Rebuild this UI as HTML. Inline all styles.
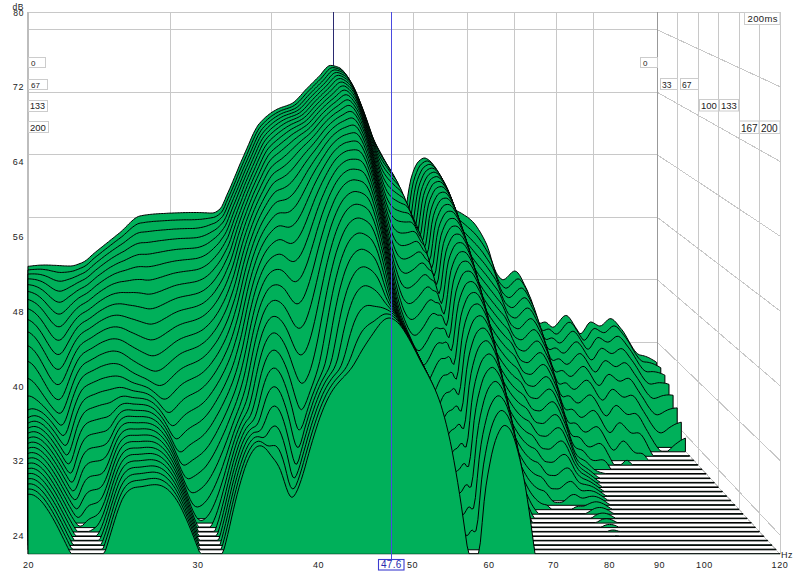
<!DOCTYPE html>
<html><head><meta charset="utf-8">
<style>
html,body{margin:0;padding:0;background:#fff;}
body{width:800px;height:573px;overflow:hidden;position:relative;}
svg{position:absolute;left:0;top:0;}
text{font-family:"Liberation Sans",sans-serif;}
</style></head><body>
<svg width="800" height="573" viewBox="0 0 800 573">
<rect x="0" y="0" width="800" height="573" fill="#fff"/>
<g stroke="#c8c8c8" stroke-width="1" shape-rendering="crispEdges">
<line x1="28" y1="12.5" x2="780" y2="12.5"/>
<line x1="780.5" y1="12" x2="780.5" y2="553"/>
<line x1="28" y1="29.7" x2="657" y2="29.7"/>
<line x1="657" y1="29.7" x2="780" y2="86.7"/>
<line x1="28" y1="92.2" x2="657" y2="92.2"/>
<line x1="657" y1="92.2" x2="780" y2="161.4"/>
<line x1="28" y1="154.6" x2="657" y2="154.6"/>
<line x1="657" y1="154.6" x2="780" y2="236.1"/>
<line x1="28" y1="217.1" x2="657" y2="217.1"/>
<line x1="657" y1="217.1" x2="780" y2="310.9"/>
<line x1="28" y1="279.5" x2="657" y2="279.5"/>
<line x1="657" y1="279.5" x2="780" y2="385.6"/>
<line x1="28" y1="342.0" x2="657" y2="342.0"/>
<line x1="657" y1="342.0" x2="780" y2="460.3"/>
<line x1="28" y1="404.5" x2="657" y2="404.5"/>
<line x1="657" y1="404.5" x2="780" y2="535.0"/>
<line x1="657" y1="420.3" x2="780" y2="554.0"/>
<line x1="170.3" y1="12" x2="170.3" y2="420.3"/>
<line x1="271.3" y1="12" x2="271.3" y2="420.3"/>
<line x1="349.7" y1="12" x2="349.7" y2="420.3"/>
<line x1="413.7" y1="12" x2="413.7" y2="420.3"/>
<line x1="467.8" y1="12" x2="467.8" y2="420.3"/>
<line x1="514.7" y1="12" x2="514.7" y2="420.3"/>
<line x1="556.0" y1="12" x2="556.0" y2="420.3"/>
<line x1="593.0" y1="12" x2="593.0" y2="420.3"/>
<line x1="677.5" y1="12" x2="677.5" y2="442.6"/>
<line x1="698.0" y1="12" x2="698.0" y2="464.9"/>
<line x1="718.5" y1="12" x2="718.5" y2="487.2"/>
<line x1="739.0" y1="12" x2="739.0" y2="509.4"/>
<line x1="759.5" y1="12" x2="759.5" y2="531.7"/>
<line x1="780.0" y1="12" x2="780.0" y2="554.0"/>
</g>
<line x1="657.5" y1="12" x2="657.5" y2="420" stroke="#999" stroke-width="1"/>
<line x1="28" y1="12" x2="28" y2="554" stroke="#bdbdbd" stroke-width="2"/>
<line x1="333.5" y1="12" x2="333.5" y2="120" stroke="#2a2a70" stroke-width="1"/>
<defs><clipPath id="pc"><rect x="0" y="0" width="800" height="554.2"/></clipPath></defs>
<g fill="#00b05a" stroke="#000" stroke-width="1" stroke-linejoin="miter" stroke-miterlimit="3" clip-path="url(#pc)">
<path d="M28.0 420.6 L28.0 266.3 L29.6 266.2 L31.2 266.0 L32.7 265.8 L34.3 265.6 L35.9 265.5 L37.5 265.3 L39.0 265.2 L40.6 265.1 L42.2 265.1 L43.8 265.0 L45.3 265.0 L46.9 265.0 L48.5 265.1 L50.1 265.1 L51.6 265.2 L53.2 265.3 L54.8 265.3 L56.4 265.4 L57.9 265.5 L59.5 265.6 L61.1 265.7 L62.7 265.8 L64.2 265.9 L65.8 265.9 L67.4 266.0 L69.0 266.0 L70.5 266.0 L72.1 265.9 L73.7 265.6 L75.3 265.2 L76.8 264.7 L78.4 264.1 L80.0 263.5 L81.6 262.9 L83.1 262.2 L84.7 261.3 L86.3 260.2 L87.9 258.9 L89.4 257.5 L91.0 256.0 L92.6 254.6 L94.2 253.2 L95.8 251.9 L97.3 250.6 L98.9 249.4 L100.5 248.1 L102.1 246.9 L103.6 245.6 L105.2 244.4 L106.8 243.1 L108.4 241.9 L109.9 240.6 L111.5 239.3 L113.1 238.1 L114.7 236.8 L116.2 235.5 L117.8 234.3 L119.4 233.0 L121.0 231.7 L122.5 230.3 L124.1 228.7 L125.7 227.1 L127.3 225.5 L128.8 223.9 L130.4 222.4 L132.0 220.9 L133.6 219.5 L135.1 218.3 L136.7 217.3 L138.3 216.5 L139.9 216.0 L141.4 215.7 L143.0 215.4 L144.6 215.1 L146.2 214.9 L147.7 214.7 L149.3 214.5 L150.9 214.3 L152.5 214.2 L154.0 214.0 L155.6 213.9 L157.2 213.8 L158.8 213.7 L160.4 213.6 L161.9 213.5 L163.5 213.5 L165.1 213.4 L166.7 213.3 L168.2 213.2 L169.8 213.1 L171.4 213.1 L173.0 213.0 L174.5 212.9 L176.1 212.9 L177.7 212.8 L179.3 212.8 L180.8 212.7 L182.4 212.7 L184.0 212.6 L185.6 212.6 L187.1 212.6 L188.7 212.5 L190.3 212.5 L191.9 212.5 L193.4 212.5 L195.0 212.5 L196.6 212.5 L198.2 212.5 L199.7 212.6 L201.3 212.6 L202.9 212.7 L204.5 212.8 L206.0 212.8 L207.6 212.9 L209.2 213.0 L210.8 213.0 L212.3 213.0 L213.9 212.8 L215.5 212.2 L217.1 211.3 L218.6 210.1 L220.2 208.8 L221.8 206.5 L223.4 203.2 L225.0 199.5 L226.5 195.8 L228.1 192.3 L229.7 188.8 L231.3 185.1 L232.8 181.4 L234.4 177.6 L236.0 173.8 L237.6 170.0 L239.1 166.2 L240.7 162.5 L242.3 158.9 L243.9 155.3 L245.4 151.8 L247.0 148.2 L248.6 144.5 L250.2 140.8 L251.7 137.2 L253.3 133.7 L254.9 130.5 L256.5 127.7 L258.0 125.2 L259.6 123.3 L261.2 121.5 L262.8 119.9 L264.3 118.3 L265.9 116.9 L267.5 115.6 L269.1 114.3 L270.6 113.2 L272.2 112.1 L273.8 111.1 L275.4 110.2 L276.9 109.3 L278.5 108.6 L280.1 107.9 L281.7 107.3 L283.3 106.8 L284.8 106.3 L286.4 105.8 L288.0 105.2 L289.6 104.6 L291.1 103.9 L292.7 103.0 L294.3 101.8 L295.9 100.5 L297.4 98.9 L299.0 97.2 L300.6 95.5 L302.2 93.7 L303.7 91.9 L305.3 90.1 L306.9 88.5 L308.5 86.9 L310.0 85.3 L311.6 83.8 L313.2 82.2 L314.8 80.6 L316.3 79.0 L317.9 77.5 L319.5 75.9 L321.1 74.1 L322.6 72.1 L324.2 70.1 L325.8 68.3 L327.4 66.8 L328.9 65.8 L330.5 65.4 L332.1 65.5 L333.7 65.8 L335.2 66.2 L336.8 66.7 L338.4 67.3 L340.0 68.0 L341.5 69.2 L343.1 70.8 L344.7 72.8 L346.3 75.0 L347.9 77.4 L349.4 79.8 L351.0 82.6 L352.6 85.7 L354.2 89.1 L355.7 92.7 L357.3 96.4 L358.9 100.2 L360.5 104.0 L362.0 108.1 L363.6 112.5 L365.2 117.1 L366.8 121.8 L368.3 126.4 L369.9 130.8 L371.5 134.8 L373.1 138.4 L374.6 141.8 L376.2 145.0 L377.8 148.1 L379.4 151.0 L380.9 154.0 L382.5 156.9 L384.1 159.8 L385.7 162.5 L387.2 165.1 L388.8 167.7 L390.4 170.7 L392.0 174.4 L393.5 179.0 L395.1 184.1 L396.7 189.2 L398.3 193.7 L399.8 197.7 L401.4 201.5 L403.0 205.6 L404.6 211.4 L406.1 208.6 L407.7 196.6 L409.3 186.8 L410.9 179.0 L412.5 173.7 L414.0 169.4 L415.6 165.9 L417.2 163.1 L418.8 161.2 L420.3 159.9 L421.9 158.8 L423.5 158.1 L425.1 158.0 L426.6 158.6 L428.2 159.6 L429.8 160.8 L431.4 162.3 L432.9 164.4 L434.5 166.8 L436.1 169.3 L437.7 171.7 L439.2 174.1 L440.8 176.6 L442.4 179.2 L444.0 182.0 L445.5 185.0 L447.1 188.8 L448.7 193.4 L450.3 198.2 L451.8 202.9 L453.4 206.7 L455.0 209.4 L456.6 210.7 L458.1 211.5 L459.7 212.3 L461.3 213.2 L462.9 214.2 L464.4 215.2 L466.0 216.2 L467.6 217.3 L469.2 218.5 L470.7 219.8 L472.3 221.3 L473.9 223.0 L475.5 225.0 L477.1 227.2 L478.6 229.6 L480.2 232.1 L481.8 234.9 L483.4 237.8 L484.9 240.8 L486.5 244.1 L488.1 248.3 L489.7 253.2 L491.2 258.5 L492.8 263.8 L494.4 268.5 L496.0 272.2 L497.5 274.7 L499.1 276.8 L500.7 278.6 L502.3 279.6 L503.8 279.6 L505.4 278.8 L507.0 277.4 L508.6 275.8 L510.1 274.1 L511.7 272.5 L513.3 271.4 L514.9 271.0 L516.4 271.5 L518.0 273.0 L519.6 275.2 L521.2 278.0 L522.7 281.1 L524.3 284.4 L525.9 287.6 L527.5 290.9 L529.0 295.3 L530.6 300.4 L532.2 306.0 L533.8 311.4 L535.3 316.3 L536.9 320.2 L538.5 322.7 L540.1 323.3 L541.7 322.9 L543.2 322.3 L544.8 322.0 L546.4 322.4 L548.0 323.7 L549.5 325.2 L551.1 326.6 L552.7 327.2 L554.3 326.8 L555.8 325.6 L557.4 323.8 L559.0 321.8 L560.6 319.7 L562.1 317.8 L563.7 316.3 L565.3 315.5 L566.9 315.6 L568.4 316.7 L570.0 318.6 L571.6 320.9 L573.2 323.5 L574.7 326.1 L576.3 328.4 L577.9 331.0 L579.5 333.4 L581.0 333.6 L582.6 332.3 L584.2 330.1 L585.8 327.5 L587.3 325.0 L588.9 323.0 L590.5 322.0 L592.1 322.2 L593.6 322.9 L595.2 323.9 L596.8 324.9 L598.4 325.7 L599.9 326.0 L601.5 325.6 L603.1 324.4 L604.7 322.9 L606.3 321.2 L607.8 319.7 L609.4 318.8 L611.0 318.7 L612.6 319.3 L614.1 320.5 L615.7 322.1 L617.3 324.0 L618.9 326.0 L620.4 328.0 L622.0 329.8 L623.6 332.1 L625.2 334.6 L626.7 337.3 L628.3 340.2 L629.9 343.0 L631.5 345.8 L633.0 348.3 L634.6 350.6 L636.2 352.5 L637.8 353.9 L639.3 354.8 L640.9 355.2 L642.5 355.5 L644.1 355.9 L645.6 356.4 L647.2 357.0 L648.8 357.7 L650.4 358.5 L651.9 359.4 L653.5 360.3 L655.1 361.3 L656.7 362.5 L656.7 420.6 Z"/>
<path d="M28.0 425.1 L28.0 269.9 L29.6 269.8 L31.2 269.6 L32.8 269.5 L34.3 269.4 L35.9 269.3 L37.5 269.2 L39.1 269.2 L40.7 269.2 L42.3 269.3 L43.9 269.5 L45.4 269.7 L47.0 269.9 L48.6 270.2 L50.2 270.6 L51.8 271.0 L53.4 271.3 L55.0 271.7 L56.5 272.0 L58.1 272.3 L59.7 272.4 L61.3 272.5 L62.9 272.4 L64.5 272.3 L66.1 272.2 L67.6 272.0 L69.2 271.8 L70.8 271.5 L72.4 271.2 L74.0 270.8 L75.6 270.2 L77.2 269.6 L78.7 269.0 L80.3 268.3 L81.9 267.7 L83.5 266.9 L85.1 266.0 L86.7 264.9 L88.3 263.6 L89.9 262.2 L91.4 260.7 L93.0 259.2 L94.6 257.8 L96.2 256.5 L97.8 255.3 L99.4 254.0 L101.0 252.8 L102.5 251.5 L104.1 250.3 L105.7 249.0 L107.3 247.8 L108.9 246.6 L110.5 245.3 L112.1 244.1 L113.6 242.9 L115.2 241.7 L116.8 240.5 L118.4 239.3 L120.0 238.1 L121.6 236.9 L123.2 235.6 L124.7 234.2 L126.3 232.8 L127.9 231.3 L129.5 229.8 L131.1 228.4 L132.7 227.1 L134.3 225.9 L135.8 224.9 L137.4 224.0 L139.0 223.4 L140.6 223.0 L142.2 222.8 L143.8 222.6 L145.4 222.3 L146.9 222.1 L148.5 221.9 L150.1 221.8 L151.7 221.6 L153.3 221.4 L154.9 221.3 L156.5 221.2 L158.0 221.1 L159.6 221.0 L161.2 220.9 L162.8 220.8 L164.4 220.7 L166.0 220.6 L167.6 220.5 L169.1 220.4 L170.7 220.3 L172.3 220.2 L173.9 220.2 L175.5 220.1 L177.1 220.0 L178.7 220.0 L180.2 219.9 L181.8 219.9 L183.4 219.8 L185.0 219.8 L186.6 219.8 L188.2 219.8 L189.8 219.8 L191.3 219.8 L192.9 219.7 L194.5 219.7 L196.1 219.6 L197.7 219.5 L199.3 219.4 L200.9 219.3 L202.5 219.1 L204.0 218.9 L205.6 218.7 L207.2 218.5 L208.8 218.2 L210.4 218.0 L212.0 217.7 L213.6 217.4 L215.1 216.9 L216.7 216.1 L218.3 215.0 L219.9 213.8 L221.5 212.2 L223.1 209.8 L224.7 206.4 L226.2 202.6 L227.8 198.9 L229.4 195.4 L231.0 191.8 L232.6 188.1 L234.2 184.3 L235.8 180.5 L237.3 176.7 L238.9 172.8 L240.5 169.0 L242.1 165.3 L243.7 161.6 L245.3 158.0 L246.9 154.5 L248.4 150.9 L250.0 147.2 L251.6 143.4 L253.2 139.8 L254.8 136.3 L256.4 133.1 L258.0 130.2 L259.5 127.8 L261.1 125.8 L262.7 124.0 L264.3 122.4 L265.9 120.8 L267.5 119.4 L269.1 118.0 L270.6 116.8 L272.2 115.6 L273.8 114.6 L275.4 113.6 L277.0 112.6 L278.6 111.8 L280.2 111.0 L281.7 110.3 L283.3 109.8 L284.9 109.2 L286.5 108.7 L288.1 108.2 L289.7 107.6 L291.3 107.0 L292.8 106.3 L294.4 105.3 L296.0 104.2 L297.6 102.8 L299.2 101.3 L300.8 99.6 L302.4 97.8 L304.0 96.0 L305.5 94.2 L307.1 92.5 L308.7 90.8 L310.3 89.2 L311.9 87.6 L313.5 86.0 L315.1 84.4 L316.6 82.8 L318.2 81.3 L319.8 79.7 L321.4 78.1 L323.0 76.2 L324.6 74.3 L326.2 72.3 L327.7 70.5 L329.3 69.0 L330.9 68.0 L332.5 67.6 L334.1 67.7 L335.7 68.0 L337.3 68.4 L338.8 69.0 L340.4 69.6 L342.0 70.4 L343.6 71.6 L345.2 73.3 L346.8 75.4 L348.4 77.8 L349.9 80.2 L351.5 82.9 L353.1 85.8 L354.7 89.1 L356.3 92.7 L357.9 96.5 L359.5 100.5 L361.0 104.4 L362.6 108.4 L364.2 112.6 L365.8 117.2 L367.4 121.9 L369.0 126.6 L370.6 131.1 L372.1 135.5 L373.7 139.4 L375.3 142.9 L376.9 146.1 L378.5 149.2 L380.1 152.1 L381.7 154.9 L383.2 157.7 L384.8 160.5 L386.4 163.3 L388.0 165.9 L389.6 168.4 L391.2 170.9 L392.8 173.9 L394.3 177.5 L395.9 182.1 L397.5 187.2 L399.1 192.3 L400.7 196.7 L402.3 200.5 L403.9 204.7 L405.4 209.6 L407.0 215.1 L408.6 212.0 L410.2 200.1 L411.8 189.7 L413.4 181.9 L415.0 176.5 L416.6 172.4 L418.1 168.8 L419.7 166.0 L421.3 164.1 L422.9 162.8 L424.5 161.7 L426.1 161.1 L427.7 161.0 L429.2 161.6 L430.8 162.7 L432.4 164.0 L434.0 165.6 L435.6 167.8 L437.2 170.3 L438.8 173.0 L440.3 175.7 L441.9 178.3 L443.5 181.1 L445.1 184.0 L446.7 187.1 L448.3 190.6 L449.9 194.9 L451.4 199.9 L453.0 205.3 L454.6 210.5 L456.2 214.8 L457.8 218.0 L459.4 219.9 L461.0 221.3 L462.5 222.5 L464.1 223.8 L465.7 225.2 L467.3 226.6 L468.9 228.0 L470.5 229.4 L472.1 230.8 L473.6 232.4 L475.2 234.0 L476.8 235.8 L478.4 237.8 L480.0 240.0 L481.6 242.3 L483.2 244.7 L484.7 247.2 L486.3 249.9 L487.9 252.6 L489.5 255.6 L491.1 259.3 L492.7 263.9 L494.3 268.9 L495.8 273.8 L497.4 278.2 L499.0 281.6 L500.6 283.9 L502.2 285.7 L503.8 287.2 L505.4 288.1 L506.9 288.0 L508.5 287.1 L510.1 285.6 L511.7 283.9 L513.3 282.1 L514.9 280.5 L516.5 279.3 L518.0 278.9 L519.6 279.3 L521.2 280.8 L522.8 283.0 L524.4 285.7 L526.0 288.8 L527.6 292.0 L529.2 295.2 L530.7 298.5 L532.3 302.9 L533.9 308.0 L535.5 313.5 L537.1 318.9 L538.7 323.7 L540.3 327.6 L541.8 330.0 L543.4 330.5 L545.0 330.1 L546.6 329.4 L548.2 329.0 L549.8 329.4 L551.4 330.6 L552.9 332.1 L554.5 333.5 L556.1 334.1 L557.7 333.7 L559.3 332.5 L560.9 330.7 L562.5 328.6 L564.0 326.5 L565.6 324.6 L567.2 323.1 L568.8 322.3 L570.4 322.4 L572.0 323.5 L573.6 325.3 L575.1 327.6 L576.7 330.2 L578.3 332.8 L579.9 335.2 L581.5 337.7 L583.1 339.9 L584.7 340.2 L586.2 339.0 L587.8 336.8 L589.4 334.1 L591.0 331.5 L592.6 329.5 L594.2 328.5 L595.8 328.7 L597.3 329.4 L598.9 330.5 L600.5 331.5 L602.1 332.3 L603.7 332.7 L605.3 332.4 L606.9 331.3 L608.4 329.8 L610.0 328.2 L611.6 326.8 L613.2 326.0 L614.8 326.0 L616.4 326.7 L618.0 328.0 L619.5 329.8 L621.1 331.8 L622.7 333.8 L624.3 335.8 L625.9 337.8 L627.5 340.1 L629.1 342.6 L630.7 345.3 L632.2 348.1 L633.8 350.8 L635.4 353.5 L637.0 355.9 L638.6 358.1 L640.2 359.8 L641.8 361.0 L643.3 361.7 L644.9 362.0 L646.5 362.1 L648.1 362.3 L649.7 362.7 L651.3 363.1 L652.9 363.7 L654.4 364.3 L656.0 365.1 L657.6 365.9 L659.2 366.8 L660.8 367.8 L660.8 425.1 Z"/>
<path d="M28.0 429.6 L28.0 274.0 L29.6 274.0 L31.2 273.9 L32.8 273.9 L34.4 273.9 L36.0 274.0 L37.6 274.1 L39.2 274.3 L40.8 274.6 L42.4 275.0 L44.0 275.4 L45.6 276.0 L47.2 276.6 L48.8 277.3 L50.3 278.1 L51.9 278.8 L53.5 279.6 L55.1 280.2 L56.7 280.7 L58.3 281.1 L59.9 281.2 L61.5 281.2 L63.1 280.9 L64.7 280.5 L66.3 280.0 L67.9 279.5 L69.5 279.0 L71.1 278.5 L72.7 277.9 L74.3 277.2 L75.9 276.5 L77.5 275.8 L79.1 275.0 L80.7 274.3 L82.3 273.6 L83.9 272.8 L85.5 271.8 L87.1 270.7 L88.7 269.4 L90.3 268.0 L91.8 266.5 L93.4 265.1 L95.0 263.7 L96.6 262.4 L98.2 261.1 L99.8 259.9 L101.4 258.6 L103.0 257.4 L104.6 256.1 L106.2 254.9 L107.8 253.7 L109.4 252.6 L111.0 251.4 L112.6 250.3 L114.2 249.2 L115.8 248.1 L117.4 247.0 L119.0 245.9 L120.6 244.9 L122.2 243.8 L123.8 242.7 L125.4 241.5 L127.0 240.2 L128.6 239.0 L130.2 237.7 L131.8 236.6 L133.4 235.5 L134.9 234.5 L136.5 233.6 L138.1 233.0 L139.7 232.5 L141.3 232.2 L142.9 232.1 L144.5 231.9 L146.1 231.8 L147.7 231.6 L149.3 231.4 L150.9 231.2 L152.5 231.0 L154.1 230.8 L155.7 230.6 L157.3 230.5 L158.9 230.3 L160.5 230.2 L162.1 230.0 L163.7 229.9 L165.3 229.8 L166.9 229.6 L168.5 229.5 L170.1 229.4 L171.7 229.3 L173.3 229.1 L174.9 229.0 L176.4 229.0 L178.0 228.9 L179.6 228.8 L181.2 228.7 L182.8 228.7 L184.4 228.6 L186.0 228.6 L187.6 228.5 L189.2 228.5 L190.8 228.5 L192.4 228.5 L194.0 228.4 L195.6 228.3 L197.2 228.1 L198.8 227.9 L200.4 227.6 L202.0 227.3 L203.6 226.9 L205.2 226.5 L206.8 226.0 L208.4 225.4 L210.0 224.8 L211.6 224.2 L213.2 223.6 L214.8 223.0 L216.4 222.1 L218.0 220.9 L219.5 219.6 L221.1 218.1 L222.7 216.3 L224.3 213.5 L225.9 210.0 L227.5 206.1 L229.1 202.3 L230.7 198.6 L232.3 194.9 L233.9 191.2 L235.5 187.4 L237.1 183.5 L238.7 179.6 L240.3 175.8 L241.9 171.9 L243.5 168.2 L245.1 164.5 L246.7 160.9 L248.3 157.3 L249.9 153.6 L251.5 149.9 L253.1 146.2 L254.7 142.5 L256.3 139.0 L257.9 135.7 L259.5 132.9 L261.0 130.5 L262.6 128.4 L264.2 126.6 L265.8 125.0 L267.4 123.4 L269.0 122.0 L270.6 120.6 L272.2 119.4 L273.8 118.2 L275.4 117.1 L277.0 116.1 L278.6 115.2 L280.2 114.3 L281.8 113.5 L283.4 112.8 L285.0 112.2 L286.6 111.7 L288.2 111.2 L289.8 110.7 L291.4 110.1 L293.0 109.4 L294.6 108.7 L296.2 107.8 L297.8 106.6 L299.4 105.2 L301.0 103.7 L302.6 101.9 L304.1 100.2 L305.7 98.3 L307.3 96.5 L308.9 94.8 L310.5 93.1 L312.1 91.5 L313.7 89.9 L315.3 88.3 L316.9 86.7 L318.5 85.1 L320.1 83.5 L321.7 82.0 L323.3 80.3 L324.9 78.5 L326.5 76.5 L328.1 74.6 L329.7 72.7 L331.3 71.3 L332.9 70.3 L334.5 69.9 L336.1 70.0 L337.7 70.4 L339.3 70.9 L340.9 71.6 L342.5 72.3 L344.1 73.3 L345.6 74.6 L347.2 76.5 L348.8 78.8 L350.4 81.4 L352.0 84.1 L353.6 87.0 L355.2 90.2 L356.8 93.8 L358.4 97.7 L360.0 101.9 L361.6 106.1 L363.2 110.3 L364.8 114.5 L366.4 118.9 L368.0 123.6 L369.6 128.3 L371.2 133.1 L372.8 137.6 L374.4 141.9 L376.0 145.7 L377.6 149.0 L379.2 152.1 L380.8 154.9 L382.4 157.6 L384.0 160.2 L385.6 162.7 L387.2 165.3 L388.7 167.8 L390.3 170.2 L391.9 172.5 L393.5 174.9 L395.1 177.7 L396.7 181.2 L398.3 185.6 L399.9 190.8 L401.5 195.8 L403.1 199.9 L404.7 203.6 L406.3 208.1 L407.9 213.9 L409.5 219.1 L411.1 215.7 L412.7 203.9 L414.3 192.8 L415.9 184.9 L417.5 179.6 L419.1 175.5 L420.7 171.9 L422.3 169.1 L423.9 167.2 L425.5 166.0 L427.1 165.0 L428.7 164.4 L430.2 164.4 L431.8 165.1 L433.4 166.3 L435.0 167.8 L436.6 169.6 L438.2 171.9 L439.8 174.6 L441.4 177.6 L443.0 180.5 L444.6 183.5 L446.2 186.5 L447.8 189.8 L449.4 193.3 L451.0 197.3 L452.6 202.0 L454.2 207.5 L455.8 213.4 L457.4 219.0 L459.0 223.9 L460.6 227.5 L462.2 229.9 L463.8 231.7 L465.4 233.3 L467.0 234.9 L468.6 236.7 L470.2 238.4 L471.8 240.0 L473.3 241.6 L474.9 243.3 L476.5 244.9 L478.1 246.7 L479.7 248.6 L481.3 250.6 L482.9 252.7 L484.5 255.0 L486.1 257.3 L487.7 259.7 L489.3 262.1 L490.9 264.6 L492.5 267.4 L494.1 270.9 L495.7 275.2 L497.3 279.9 L498.9 284.5 L500.5 288.6 L502.1 291.9 L503.7 294.0 L505.3 295.6 L506.9 296.9 L508.5 297.6 L510.1 297.4 L511.7 296.4 L513.3 294.9 L514.8 293.1 L516.4 291.3 L518.0 289.6 L519.6 288.5 L521.2 288.0 L522.8 288.4 L524.4 289.9 L526.0 292.1 L527.6 294.9 L529.2 297.9 L530.8 301.1 L532.4 304.3 L534.0 307.7 L535.6 312.1 L537.2 317.1 L538.8 322.6 L540.4 328.0 L542.0 332.8 L543.6 336.7 L545.2 339.0 L546.8 339.6 L548.4 339.0 L550.0 338.3 L551.6 337.9 L553.2 338.3 L554.8 339.5 L556.4 341.0 L557.9 342.4 L559.5 343.0 L561.1 342.6 L562.7 341.5 L564.3 339.7 L565.9 337.6 L567.5 335.5 L569.1 333.6 L570.7 332.1 L572.3 331.3 L573.9 331.4 L575.5 332.6 L577.1 334.4 L578.7 336.7 L580.3 339.3 L581.9 342.0 L583.5 344.4 L585.1 346.9 L586.7 348.8 L588.3 349.2 L589.9 348.1 L591.5 345.8 L593.1 343.1 L594.7 340.5 L596.3 338.5 L597.9 337.5 L599.4 337.7 L601.0 338.5 L602.6 339.6 L604.2 340.8 L605.8 341.7 L607.4 342.1 L609.0 341.9 L610.6 341.0 L612.2 339.6 L613.8 338.2 L615.4 336.9 L617.0 336.3 L618.6 336.4 L620.2 337.3 L621.8 338.8 L623.4 340.7 L625.0 342.8 L626.6 345.0 L628.2 347.1 L629.8 349.2 L631.4 351.5 L633.0 354.0 L634.6 356.7 L636.2 359.4 L637.8 362.0 L639.4 364.6 L641.0 366.8 L642.5 368.8 L644.1 370.3 L645.7 371.3 L647.3 371.8 L648.9 371.8 L650.5 371.7 L652.1 371.6 L653.7 371.7 L655.3 371.9 L656.9 372.2 L658.5 372.6 L660.1 373.1 L661.7 373.7 L663.3 374.4 L664.9 375.2 L664.9 429.6 Z"/>
<path d="M28.0 434.0 L28.0 278.9 L29.6 278.9 L31.2 279.0 L32.8 279.2 L34.4 279.4 L36.0 279.7 L37.6 280.1 L39.2 280.6 L40.9 281.2 L42.5 281.9 L44.1 282.8 L45.7 283.7 L47.3 284.8 L48.9 285.9 L50.5 287.1 L52.1 288.2 L53.7 289.2 L55.3 290.1 L56.9 290.7 L58.5 291.1 L60.1 291.2 L61.7 291.0 L63.3 290.4 L65.0 289.7 L66.6 288.9 L68.2 288.0 L69.8 287.1 L71.4 286.3 L73.0 285.4 L74.6 284.5 L76.2 283.5 L77.8 282.6 L79.4 281.8 L81.0 281.0 L82.6 280.2 L84.2 279.4 L85.8 278.4 L87.4 277.3 L89.0 276.0 L90.7 274.6 L92.3 273.1 L93.9 271.7 L95.5 270.3 L97.1 269.0 L98.7 267.8 L100.3 266.5 L101.9 265.3 L103.5 264.1 L105.1 262.9 L106.7 261.7 L108.3 260.6 L109.9 259.5 L111.5 258.4 L113.1 257.4 L114.8 256.4 L116.4 255.4 L118.0 254.5 L119.6 253.6 L121.2 252.7 L122.8 251.9 L124.4 251.0 L126.0 250.0 L127.6 248.9 L129.2 247.9 L130.8 246.9 L132.4 245.9 L134.0 245.1 L135.6 244.3 L137.2 243.7 L138.9 243.2 L140.5 242.9 L142.1 242.7 L143.7 242.7 L145.3 242.6 L146.9 242.5 L148.5 242.3 L150.1 242.1 L151.7 241.9 L153.3 241.6 L154.9 241.4 L156.5 241.2 L158.1 240.9 L159.7 240.7 L161.3 240.5 L162.9 240.3 L164.6 240.1 L166.2 239.9 L167.8 239.7 L169.4 239.5 L171.0 239.3 L172.6 239.2 L174.2 239.0 L175.8 238.9 L177.4 238.7 L179.0 238.6 L180.6 238.5 L182.2 238.4 L183.8 238.4 L185.4 238.3 L187.0 238.2 L188.7 238.2 L190.3 238.1 L191.9 238.0 L193.5 237.9 L195.1 237.8 L196.7 237.6 L198.3 237.3 L199.9 237.0 L201.5 236.5 L203.1 236.0 L204.7 235.4 L206.3 234.7 L207.9 233.9 L209.5 233.1 L211.1 232.1 L212.8 231.2 L214.4 230.3 L216.0 229.2 L217.6 227.9 L219.2 226.4 L220.8 224.8 L222.4 223.0 L224.0 220.8 L225.6 217.7 L227.2 214.0 L228.8 209.9 L230.4 206.0 L232.0 202.1 L233.6 198.3 L235.2 194.5 L236.8 190.6 L238.5 186.7 L240.1 182.7 L241.7 178.8 L243.3 174.9 L244.9 171.1 L246.5 167.4 L248.1 163.8 L249.7 160.2 L251.3 156.5 L252.9 152.8 L254.5 149.0 L256.1 145.3 L257.7 141.8 L259.3 138.6 L260.9 135.7 L262.6 133.3 L264.2 131.3 L265.8 129.5 L267.4 127.8 L269.0 126.3 L270.6 124.8 L272.2 123.5 L273.8 122.2 L275.4 121.0 L277.0 119.9 L278.6 118.9 L280.2 117.9 L281.8 117.0 L283.4 116.2 L285.0 115.5 L286.7 114.9 L288.3 114.3 L289.9 113.8 L291.5 113.2 L293.1 112.6 L294.7 112.0 L296.3 111.2 L297.9 110.2 L299.5 109.1 L301.1 107.7 L302.7 106.1 L304.3 104.4 L305.9 102.6 L307.5 100.7 L309.1 98.9 L310.7 97.1 L312.4 95.5 L314.0 93.8 L315.6 92.2 L317.2 90.6 L318.8 89.0 L320.4 87.4 L322.0 85.9 L323.6 84.3 L325.2 82.7 L326.8 80.8 L328.4 78.9 L330.0 76.9 L331.6 75.2 L333.2 73.7 L334.8 72.8 L336.5 72.5 L338.1 72.6 L339.7 73.1 L341.3 73.8 L342.9 74.6 L344.5 75.5 L346.1 76.6 L347.7 78.2 L349.3 80.3 L350.9 82.8 L352.5 85.7 L354.1 88.7 L355.7 92.0 L357.3 95.6 L358.9 99.5 L360.6 103.8 L362.2 108.2 L363.8 112.8 L365.4 117.3 L367.0 121.7 L368.6 126.3 L370.2 131.1 L371.8 136.0 L373.4 140.8 L375.0 145.3 L376.6 149.5 L378.2 153.1 L379.8 156.3 L381.4 159.2 L383.0 161.8 L384.6 164.2 L386.3 166.5 L387.9 168.8 L389.5 171.0 L391.1 173.3 L392.7 175.4 L394.3 177.4 L395.9 179.5 L397.5 182.1 L399.1 185.5 L400.7 189.7 L402.3 194.8 L403.9 199.7 L405.5 203.6 L407.1 207.0 L408.7 211.8 L410.4 218.4 L412.0 223.4 L413.6 219.6 L415.2 207.9 L416.8 196.2 L418.4 188.1 L420.0 182.9 L421.6 178.9 L423.2 175.3 L424.8 172.5 L426.4 170.7 L428.0 169.5 L429.6 168.6 L431.2 168.1 L432.8 168.2 L434.5 169.0 L436.1 170.4 L437.7 172.0 L439.3 174.0 L440.9 176.5 L442.5 179.5 L444.1 182.7 L445.7 185.9 L447.3 189.2 L448.9 192.6 L450.5 196.2 L452.1 200.1 L453.7 204.6 L455.3 209.7 L456.9 215.6 L458.5 222.0 L460.2 228.1 L461.8 233.3 L463.4 237.3 L465.0 240.2 L466.6 242.4 L468.2 244.4 L469.8 246.3 L471.4 248.3 L473.0 250.3 L474.6 252.2 L476.2 254.0 L477.8 255.8 L479.4 257.6 L481.0 259.5 L482.6 261.4 L484.3 263.4 L485.9 265.5 L487.5 267.7 L489.1 270.0 L490.7 272.3 L492.3 274.6 L493.9 276.8 L495.5 279.4 L497.1 282.6 L498.7 286.7 L500.3 291.2 L501.9 295.6 L503.5 299.5 L505.1 302.5 L506.7 304.5 L508.4 305.9 L510.0 307.0 L511.6 307.6 L513.2 307.4 L514.8 306.4 L516.4 304.7 L518.0 302.9 L519.6 301.0 L521.2 299.4 L522.8 298.2 L524.4 297.7 L526.0 298.2 L527.6 299.7 L529.2 301.9 L530.8 304.7 L532.4 307.8 L534.1 310.9 L535.7 314.1 L537.3 317.7 L538.9 322.1 L540.5 327.2 L542.1 332.6 L543.7 338.0 L545.3 342.9 L546.9 346.7 L548.5 349.1 L550.1 349.6 L551.7 349.1 L553.3 348.3 L554.9 347.9 L556.5 348.3 L558.2 349.5 L559.8 351.1 L561.4 352.5 L563.0 353.1 L564.6 352.9 L566.2 351.8 L567.8 350.1 L569.4 348.0 L571.0 346.0 L572.6 344.1 L574.2 342.6 L575.8 341.9 L577.4 342.0 L579.0 343.2 L580.6 345.1 L582.3 347.4 L583.9 350.0 L585.5 352.7 L587.1 355.3 L588.7 357.7 L590.3 359.5 L591.9 359.9 L593.5 358.9 L595.1 356.7 L596.7 353.9 L598.3 351.2 L599.9 349.3 L601.5 348.3 L603.1 348.5 L604.7 349.4 L606.4 350.6 L608.0 351.9 L609.6 352.9 L611.2 353.5 L612.8 353.4 L614.4 352.7 L616.0 351.5 L617.6 350.1 L619.2 349.1 L620.8 348.6 L622.4 348.9 L624.0 350.0 L625.6 351.7 L627.2 353.8 L628.8 356.1 L630.4 358.3 L632.1 360.6 L633.7 362.8 L635.3 365.2 L636.9 367.7 L638.5 370.3 L640.1 373.0 L641.7 375.6 L643.3 378.0 L644.9 380.1 L646.5 381.9 L648.1 383.2 L649.7 383.9 L651.3 384.1 L652.9 383.8 L654.5 383.5 L656.2 383.1 L657.8 382.8 L659.4 382.7 L661.0 382.8 L662.6 382.9 L664.2 383.1 L665.8 383.4 L667.4 383.8 L669.0 384.4 L669.0 434.0 Z"/>
<path d="M28.0 438.5 L28.0 284.6 L29.6 284.8 L31.2 285.1 L32.9 285.4 L34.5 285.9 L36.1 286.5 L37.7 287.2 L39.3 288.0 L40.9 289.0 L42.6 290.1 L44.2 291.4 L45.8 292.8 L47.4 294.2 L49.0 295.8 L50.6 297.3 L52.3 298.7 L53.9 300.0 L55.5 301.1 L57.1 301.8 L58.7 302.2 L60.3 302.2 L62.0 301.7 L63.6 300.8 L65.2 299.7 L66.8 298.5 L68.4 297.2 L70.0 296.0 L71.7 294.8 L73.3 293.6 L74.9 292.4 L76.5 291.2 L78.1 290.2 L79.7 289.2 L81.4 288.3 L83.0 287.5 L84.6 286.6 L86.2 285.6 L87.8 284.5 L89.4 283.2 L91.1 281.8 L92.7 280.4 L94.3 279.0 L95.9 277.6 L97.5 276.3 L99.1 275.1 L100.8 273.9 L102.4 272.7 L104.0 271.5 L105.6 270.4 L107.2 269.3 L108.8 268.2 L110.5 267.2 L112.1 266.3 L113.7 265.4 L115.3 264.5 L116.9 263.7 L118.5 262.9 L120.2 262.2 L121.8 261.5 L123.4 260.9 L125.0 260.2 L126.6 259.4 L128.2 258.6 L129.9 257.8 L131.5 257.0 L133.1 256.3 L134.7 255.7 L136.3 255.2 L137.9 254.7 L139.6 254.4 L141.2 254.3 L142.8 254.3 L144.4 254.3 L146.0 254.3 L147.6 254.2 L149.3 254.0 L150.9 253.8 L152.5 253.5 L154.1 253.2 L155.7 252.9 L157.3 252.6 L159.0 252.3 L160.6 252.0 L162.2 251.7 L163.8 251.4 L165.4 251.1 L167.0 250.8 L168.7 250.5 L170.3 250.3 L171.9 250.0 L173.5 249.8 L175.1 249.6 L176.7 249.4 L178.4 249.2 L180.0 249.1 L181.6 249.0 L183.2 248.8 L184.8 248.7 L186.4 248.6 L188.1 248.5 L189.7 248.4 L191.3 248.3 L192.9 248.2 L194.5 248.0 L196.2 247.8 L197.8 247.5 L199.4 247.1 L201.0 246.6 L202.6 246.0 L204.2 245.3 L205.9 244.5 L207.5 243.5 L209.1 242.5 L210.7 241.3 L212.3 240.1 L213.9 238.8 L215.6 237.5 L217.2 236.1 L218.8 234.4 L220.4 232.5 L222.0 230.5 L223.6 228.4 L225.3 225.8 L226.9 222.4 L228.5 218.4 L230.1 214.1 L231.7 210.0 L233.3 205.9 L235.0 202.0 L236.6 198.0 L238.2 194.0 L239.8 190.0 L241.4 186.0 L243.0 182.1 L244.7 178.1 L246.3 174.3 L247.9 170.6 L249.5 166.9 L251.1 163.2 L252.7 159.6 L254.4 155.8 L256.0 152.1 L257.6 148.4 L259.2 144.8 L260.8 141.6 L262.4 138.8 L264.1 136.4 L265.7 134.4 L267.3 132.6 L268.9 130.9 L270.5 129.4 L272.1 127.9 L273.8 126.6 L275.4 125.3 L277.0 124.1 L278.6 122.9 L280.2 121.9 L281.8 120.9 L283.5 119.9 L285.1 119.1 L286.7 118.3 L288.3 117.7 L289.9 117.1 L291.5 116.5 L293.2 115.9 L294.8 115.3 L296.4 114.6 L298.0 113.8 L299.6 112.8 L301.2 111.6 L302.9 110.2 L304.5 108.6 L306.1 106.9 L307.7 105.0 L309.3 103.2 L310.9 101.4 L312.6 99.6 L314.2 97.9 L315.8 96.3 L317.4 94.7 L319.0 93.1 L320.6 91.4 L322.3 89.9 L323.9 88.3 L325.5 86.8 L327.1 85.1 L328.7 83.3 L330.3 81.4 L332.0 79.5 L333.6 77.8 L335.2 76.4 L336.8 75.6 L338.4 75.3 L340.0 75.6 L341.7 76.2 L343.3 77.0 L344.9 78.0 L346.5 79.1 L348.1 80.5 L349.7 82.3 L351.4 84.7 L353.0 87.6 L354.6 90.8 L356.2 94.1 L357.8 97.7 L359.5 101.7 L361.1 106.1 L362.7 110.7 L364.3 115.5 L365.9 120.4 L367.5 125.2 L369.2 129.9 L370.8 134.7 L372.4 139.6 L374.0 144.6 L375.6 149.4 L377.2 153.9 L378.9 158.0 L380.5 161.5 L382.1 164.5 L383.7 167.2 L385.3 169.6 L386.9 171.7 L388.6 173.7 L390.2 175.6 L391.8 177.6 L393.4 179.5 L395.0 181.3 L396.6 183.0 L398.3 184.9 L399.9 187.2 L401.5 190.3 L403.1 194.4 L404.7 199.3 L406.3 204.0 L408.0 207.6 L409.6 210.8 L411.2 215.9 L412.8 223.4 L414.4 228.0 L416.0 223.9 L417.7 212.2 L419.3 199.9 L420.9 191.7 L422.5 186.6 L424.1 182.6 L425.7 179.0 L427.4 176.3 L429.0 174.4 L430.6 173.3 L432.2 172.6 L433.8 172.1 L435.4 172.4 L437.1 173.3 L438.7 174.8 L440.3 176.7 L441.9 178.9 L443.5 181.6 L445.1 184.8 L446.8 188.3 L448.4 191.8 L450.0 195.4 L451.6 199.1 L453.2 203.1 L454.8 207.4 L456.5 212.3 L458.1 217.9 L459.7 224.1 L461.3 231.0 L462.9 237.5 L464.5 243.1 L466.2 247.5 L467.8 250.9 L469.4 253.4 L471.0 255.7 L472.6 257.9 L474.2 260.2 L475.9 262.4 L477.5 264.5 L479.1 266.5 L480.7 268.4 L482.3 270.3 L483.9 272.3 L485.6 274.3 L487.2 276.3 L488.8 278.4 L490.4 280.6 L492.0 282.7 L493.6 284.9 L495.3 287.1 L496.9 289.2 L498.5 291.5 L500.1 294.6 L501.7 298.4 L503.3 302.7 L505.0 306.9 L506.6 310.6 L508.2 313.5 L509.8 315.4 L511.4 316.6 L513.0 317.5 L514.7 318.0 L516.3 317.8 L517.9 316.7 L519.5 315.0 L521.1 313.1 L522.8 311.3 L524.4 309.6 L526.0 308.4 L527.6 308.0 L529.2 308.5 L530.8 310.0 L532.5 312.3 L534.1 315.2 L535.7 318.3 L537.3 321.4 L538.9 324.6 L540.5 328.3 L542.2 332.8 L543.8 337.9 L545.4 343.3 L547.0 348.8 L548.6 353.7 L550.2 357.5 L551.9 359.9 L553.5 360.5 L555.1 360.0 L556.7 359.2 L558.3 358.8 L559.9 359.2 L561.6 360.5 L563.2 362.2 L564.8 363.6 L566.4 364.3 L568.0 364.1 L569.6 363.1 L571.3 361.5 L572.9 359.5 L574.5 357.5 L576.1 355.7 L577.7 354.3 L579.3 353.6 L581.0 353.8 L582.6 355.1 L584.2 357.0 L585.8 359.4 L587.4 362.0 L589.0 364.8 L590.7 367.5 L592.3 369.8 L593.9 371.5 L595.5 372.0 L597.1 371.2 L598.7 368.9 L600.4 366.1 L602.0 363.5 L603.6 361.5 L605.2 360.6 L606.8 360.9 L608.4 361.9 L610.1 363.2 L611.7 364.6 L613.3 365.7 L614.9 366.5 L616.5 366.6 L618.1 366.0 L619.8 365.0 L621.4 363.8 L623.0 362.9 L624.6 362.7 L626.2 363.2 L627.8 364.5 L629.5 366.4 L631.1 368.7 L632.7 371.2 L634.3 373.6 L635.9 375.9 L637.5 378.3 L639.2 380.8 L640.8 383.3 L642.4 385.9 L644.0 388.6 L645.6 391.1 L647.2 393.3 L648.9 395.3 L650.5 396.9 L652.1 398.0 L653.7 398.5 L655.3 398.3 L656.9 397.8 L658.6 397.2 L660.2 396.5 L661.8 395.9 L663.4 395.5 L665.0 395.2 L666.6 395.0 L668.3 394.9 L669.9 394.9 L671.5 395.0 L673.1 395.3 L673.1 438.5 Z"/>
<path d="M28.0 442.9 L28.0 291.5 L29.6 291.8 L31.3 292.3 L32.9 292.9 L34.5 293.6 L36.1 294.4 L37.8 295.5 L39.4 296.7 L41.0 298.0 L42.6 299.6 L44.3 301.2 L45.9 303.0 L47.5 304.9 L49.2 306.8 L50.8 308.6 L52.4 310.3 L54.0 311.8 L55.7 313.0 L57.3 313.8 L58.9 314.1 L60.5 313.9 L62.2 313.1 L63.8 311.9 L65.4 310.5 L67.1 308.8 L68.7 307.1 L70.3 305.5 L71.9 303.9 L73.6 302.3 L75.2 300.8 L76.8 299.5 L78.4 298.2 L80.1 297.1 L81.7 296.2 L83.3 295.3 L84.9 294.4 L86.6 293.4 L88.2 292.3 L89.8 291.0 L91.5 289.7 L93.1 288.3 L94.7 286.9 L96.3 285.5 L98.0 284.3 L99.6 283.1 L101.2 281.9 L102.8 280.8 L104.5 279.6 L106.1 278.6 L107.7 277.5 L109.4 276.6 L111.0 275.7 L112.6 274.8 L114.2 274.0 L115.9 273.3 L117.5 272.7 L119.1 272.1 L120.7 271.6 L122.4 271.1 L124.0 270.7 L125.6 270.2 L127.3 269.7 L128.9 269.1 L130.5 268.6 L132.1 268.1 L133.8 267.6 L135.4 267.2 L137.0 266.9 L138.6 266.7 L140.3 266.6 L141.9 266.6 L143.5 266.7 L145.2 266.8 L146.8 266.8 L148.4 266.7 L150.0 266.6 L151.7 266.3 L153.3 266.0 L154.9 265.7 L156.5 265.3 L158.2 264.9 L159.8 264.5 L161.4 264.1 L163.1 263.6 L164.7 263.2 L166.3 262.8 L167.9 262.4 L169.6 262.1 L171.2 261.7 L172.8 261.4 L174.4 261.1 L176.1 260.8 L177.7 260.6 L179.3 260.4 L181.0 260.2 L182.6 260.0 L184.2 259.8 L185.8 259.7 L187.5 259.5 L189.1 259.4 L190.7 259.2 L192.3 259.0 L194.0 258.8 L195.6 258.6 L197.2 258.3 L198.8 257.8 L200.5 257.3 L202.1 256.7 L203.7 255.9 L205.4 255.0 L207.0 254.0 L208.6 252.8 L210.2 251.5 L211.9 250.1 L213.5 248.5 L215.1 246.9 L216.7 245.3 L218.4 243.5 L220.0 241.4 L221.6 239.1 L223.3 236.8 L224.9 234.3 L226.5 231.3 L228.1 227.6 L229.8 223.2 L231.4 218.7 L233.0 214.3 L234.6 210.1 L236.3 205.9 L237.9 201.8 L239.5 197.7 L241.2 193.7 L242.8 189.6 L244.4 185.5 L246.0 181.6 L247.7 177.7 L249.3 173.9 L250.9 170.2 L252.5 166.6 L254.2 162.9 L255.8 159.1 L257.4 155.4 L259.1 151.7 L260.7 148.2 L262.3 145.0 L263.9 142.2 L265.6 139.8 L267.2 137.8 L268.8 136.0 L270.4 134.4 L272.1 132.9 L273.7 131.5 L275.3 130.1 L277.0 128.8 L278.6 127.6 L280.2 126.4 L281.8 125.3 L283.5 124.2 L285.1 123.2 L286.7 122.3 L288.3 121.5 L290.0 120.8 L291.6 120.1 L293.2 119.5 L294.9 118.8 L296.5 118.1 L298.1 117.4 L299.7 116.5 L301.4 115.5 L303.0 114.3 L304.6 112.9 L306.2 111.2 L307.9 109.5 L309.5 107.6 L311.1 105.8 L312.7 103.9 L314.4 102.1 L316.0 100.4 L317.6 98.8 L319.3 97.2 L320.9 95.6 L322.5 94.0 L324.1 92.4 L325.8 90.9 L327.4 89.4 L329.0 87.8 L330.6 86.0 L332.3 84.2 L333.9 82.3 L335.5 80.6 L337.2 79.4 L338.8 78.7 L340.4 78.5 L342.0 78.9 L343.7 79.7 L345.3 80.7 L346.9 81.9 L348.5 83.3 L350.2 85.0 L351.8 87.1 L353.4 89.7 L355.1 93.0 L356.7 96.5 L358.3 100.3 L359.9 104.3 L361.6 108.7 L363.2 113.4 L364.8 118.4 L366.4 123.6 L368.1 128.8 L369.7 133.9 L371.3 138.9 L373.0 143.9 L374.6 148.9 L376.2 154.0 L377.8 158.9 L379.5 163.4 L381.1 167.4 L382.7 170.8 L384.3 173.6 L386.0 176.1 L387.6 178.2 L389.2 180.0 L390.9 181.7 L392.5 183.3 L394.1 185.0 L395.7 186.6 L397.4 188.0 L399.0 189.4 L400.6 190.9 L402.2 193.0 L403.9 195.8 L405.5 199.6 L407.1 204.3 L408.7 208.9 L410.4 212.3 L412.0 215.3 L413.6 220.3 L415.3 227.7 L416.9 232.3 L418.5 228.1 L420.1 216.4 L421.8 203.9 L423.4 195.7 L425.0 190.6 L426.6 186.6 L428.3 183.1 L429.9 180.3 L431.5 178.6 L433.2 177.6 L434.8 176.9 L436.4 176.6 L438.0 176.9 L439.7 178.0 L441.3 179.7 L442.9 181.8 L444.5 184.2 L446.2 187.0 L447.8 190.5 L449.4 194.3 L451.1 198.1 L452.7 202.0 L454.3 206.0 L455.9 210.3 L457.6 215.1 L459.2 220.4 L460.8 226.3 L462.4 233.0 L464.1 240.3 L465.7 247.3 L467.3 253.3 L469.0 258.0 L470.6 261.7 L472.2 264.6 L473.8 267.1 L475.5 269.6 L477.1 272.2 L478.7 274.7 L480.3 276.9 L482.0 279.1 L483.6 281.2 L485.2 283.2 L486.9 285.2 L488.5 287.3 L490.1 289.4 L491.7 291.4 L493.4 293.5 L495.0 295.6 L496.6 297.7 L498.2 299.7 L499.9 301.7 L501.5 303.9 L503.1 306.7 L504.8 310.4 L506.4 314.5 L508.0 318.5 L509.6 322.0 L511.3 324.7 L512.9 326.4 L514.5 327.5 L516.1 328.3 L517.8 328.8 L519.4 328.5 L521.0 327.3 L522.6 325.6 L524.3 323.7 L525.9 321.8 L527.5 320.2 L529.2 319.0 L530.8 318.6 L532.4 319.2 L534.0 320.7 L535.7 323.1 L537.3 326.0 L538.9 329.2 L540.5 332.4 L542.2 335.6 L543.8 339.4 L545.4 344.0 L547.1 349.1 L548.7 354.7 L550.3 360.2 L551.9 365.1 L553.6 369.0 L555.2 371.4 L556.8 372.1 L558.4 371.5 L560.1 370.8 L561.7 370.5 L563.3 370.9 L565.0 372.3 L566.6 374.0 L568.2 375.6 L569.8 376.3 L571.5 376.3 L573.1 375.4 L574.7 373.9 L576.3 372.0 L578.0 370.1 L579.6 368.4 L581.2 367.1 L582.9 366.4 L584.5 366.7 L586.1 368.0 L587.7 370.1 L589.4 372.5 L591.0 375.2 L592.6 378.1 L594.2 380.9 L595.9 383.2 L597.5 384.9 L599.1 385.5 L600.8 384.7 L602.4 382.5 L604.0 379.7 L605.6 377.0 L607.3 375.1 L608.9 374.3 L610.5 374.7 L612.1 375.8 L613.8 377.2 L615.4 378.7 L617.0 380.0 L618.6 380.9 L620.3 381.2 L621.9 380.8 L623.5 380.0 L625.2 379.0 L626.8 378.4 L628.4 378.3 L630.0 379.0 L631.7 380.6 L633.3 382.7 L634.9 385.2 L636.5 387.9 L638.2 390.5 L639.8 393.0 L641.4 395.5 L643.1 398.0 L644.7 400.6 L646.3 403.3 L647.9 405.9 L649.6 408.3 L651.2 410.4 L652.8 412.3 L654.4 413.7 L656.1 414.6 L657.7 414.8 L659.3 414.4 L661.0 413.6 L662.6 412.7 L664.2 411.7 L665.8 410.8 L667.5 410.0 L669.1 409.4 L670.7 408.9 L672.3 408.5 L674.0 408.1 L675.6 408.0 L677.2 407.9 L677.2 442.9 Z"/>
<path d="M28.0 447.4 L28.0 299.5 L29.6 300.0 L31.3 300.7 L32.9 301.5 L34.5 302.5 L36.2 303.6 L37.8 305.0 L39.5 306.6 L41.1 308.3 L42.7 310.2 L44.4 312.3 L46.0 314.5 L47.6 316.7 L49.3 318.9 L50.9 321.1 L52.6 323.0 L54.2 324.6 L55.8 325.9 L57.5 326.6 L59.1 326.8 L60.7 326.4 L62.4 325.3 L64.0 323.7 L65.7 321.8 L67.3 319.7 L68.9 317.6 L70.6 315.5 L72.2 313.5 L73.8 311.6 L75.5 309.8 L77.1 308.2 L78.8 306.8 L80.4 305.6 L82.0 304.5 L83.7 303.6 L85.3 302.7 L86.9 301.7 L88.6 300.6 L90.2 299.3 L91.9 298.0 L93.5 296.7 L95.1 295.3 L96.8 294.0 L98.4 292.8 L100.0 291.6 L101.7 290.5 L103.3 289.4 L105.0 288.4 L106.6 287.3 L108.2 286.4 L109.9 285.5 L111.5 284.7 L113.1 284.0 L114.8 283.4 L116.4 282.9 L118.1 282.4 L119.7 282.0 L121.3 281.7 L123.0 281.5 L124.6 281.3 L126.2 281.0 L127.9 280.8 L129.5 280.5 L131.2 280.2 L132.8 279.9 L134.4 279.7 L136.1 279.6 L137.7 279.5 L139.3 279.5 L141.0 279.5 L142.6 279.6 L144.3 279.9 L145.9 280.1 L147.5 280.1 L149.2 280.1 L150.8 279.9 L152.4 279.6 L154.1 279.2 L155.7 278.8 L157.4 278.3 L159.0 277.8 L160.6 277.3 L162.3 276.8 L163.9 276.2 L165.5 275.7 L167.2 275.2 L168.8 274.7 L170.5 274.2 L172.1 273.7 L173.7 273.3 L175.4 272.9 L177.0 272.6 L178.6 272.3 L180.3 272.0 L181.9 271.8 L183.6 271.5 L185.2 271.3 L186.8 271.1 L188.5 270.9 L190.1 270.7 L191.7 270.5 L193.4 270.2 L195.0 270.0 L196.7 269.6 L198.3 269.2 L199.9 268.6 L201.6 267.9 L203.2 267.1 L204.8 266.2 L206.5 265.1 L208.1 263.9 L209.8 262.5 L211.4 260.9 L213.0 259.2 L214.7 257.4 L216.3 255.5 L217.9 253.6 L219.6 251.4 L221.2 249.0 L222.9 246.3 L224.5 243.5 L226.1 240.6 L227.8 237.3 L229.4 233.2 L231.0 228.5 L232.7 223.7 L234.3 219.0 L236.0 214.6 L237.6 210.2 L239.2 206.0 L240.9 201.8 L242.5 197.6 L244.1 193.4 L245.8 189.3 L247.4 185.3 L249.1 181.4 L250.7 177.6 L252.3 173.9 L254.0 170.2 L255.6 166.5 L257.2 162.8 L258.9 159.0 L260.5 155.4 L262.2 151.9 L263.8 148.7 L265.4 146.0 L267.1 143.7 L268.7 141.7 L270.3 140.0 L272.0 138.4 L273.6 137.0 L275.3 135.5 L276.9 134.2 L278.5 132.8 L280.2 131.6 L281.8 130.4 L283.4 129.2 L285.1 128.1 L286.7 127.0 L288.4 126.0 L290.0 125.1 L291.6 124.2 L293.3 123.5 L294.9 122.7 L296.5 122.0 L298.2 121.3 L299.8 120.5 L301.5 119.5 L303.1 118.5 L304.7 117.2 L306.4 115.7 L308.0 114.1 L309.6 112.3 L311.3 110.4 L312.9 108.5 L314.6 106.6 L316.2 104.9 L317.8 103.1 L319.5 101.5 L321.1 99.9 L322.7 98.3 L324.4 96.7 L326.0 95.2 L327.7 93.7 L329.3 92.2 L330.9 90.6 L332.6 88.9 L334.2 87.1 L335.8 85.4 L337.5 83.8 L339.1 82.6 L340.8 82.1 L342.4 82.1 L344.0 82.7 L345.7 83.7 L347.3 84.9 L348.9 86.3 L350.6 88.0 L352.2 90.0 L353.9 92.4 L355.5 95.4 L357.1 99.0 L358.8 103.0 L360.4 107.2 L362.0 111.6 L363.7 116.4 L365.3 121.5 L366.9 126.9 L368.6 132.5 L370.2 138.0 L371.9 143.4 L373.5 148.6 L375.1 153.8 L376.8 159.0 L378.4 164.2 L380.0 169.1 L381.7 173.6 L383.3 177.6 L385.0 180.9 L386.6 183.5 L388.2 185.8 L389.9 187.6 L391.5 189.2 L393.1 190.6 L394.8 191.8 L396.4 193.1 L398.1 194.3 L399.7 195.5 L401.3 196.5 L403.0 197.6 L404.6 199.3 L406.2 201.9 L407.9 205.4 L409.5 209.8 L411.2 214.2 L412.8 217.4 L414.4 220.3 L416.1 225.2 L417.7 232.5 L419.3 237.0 L421.0 232.7 L422.6 220.9 L424.3 208.4 L425.9 200.1 L427.5 194.9 L429.2 191.0 L430.8 187.5 L432.4 184.8 L434.1 183.1 L435.7 182.2 L437.4 181.6 L439.0 181.4 L440.6 181.9 L442.3 183.1 L443.9 185.0 L445.5 187.2 L447.2 189.8 L448.8 192.9 L450.5 196.6 L452.1 200.7 L453.7 204.8 L455.4 209.0 L457.0 213.4 L458.6 218.0 L460.3 223.1 L461.9 228.8 L463.6 235.1 L465.2 242.2 L466.8 249.9 L468.5 257.3 L470.1 263.6 L471.7 268.7 L473.4 272.8 L475.0 276.0 L476.7 278.8 L478.3 281.6 L479.9 284.4 L481.6 287.0 L483.2 289.5 L484.8 291.8 L486.5 294.0 L488.1 296.2 L489.8 298.3 L491.4 300.4 L493.0 302.5 L494.7 304.5 L496.3 306.6 L497.9 308.6 L499.6 310.6 L501.2 312.5 L502.9 314.3 L504.5 316.3 L506.1 319.0 L507.8 322.5 L509.4 326.4 L511.0 330.3 L512.7 333.7 L514.3 336.2 L516.0 337.8 L517.6 338.7 L519.2 339.5 L520.9 339.8 L522.5 339.5 L524.1 338.3 L525.8 336.6 L527.4 334.6 L529.1 332.8 L530.7 331.2 L532.3 330.0 L534.0 329.6 L535.6 330.2 L537.2 331.8 L538.9 334.2 L540.5 337.3 L542.2 340.6 L543.8 343.8 L545.4 347.1 L547.1 351.0 L548.7 355.6 L550.3 360.9 L552.0 366.5 L553.6 372.1 L555.3 377.1 L556.9 381.1 L558.5 383.5 L560.2 384.2 L561.8 383.8 L563.4 383.1 L565.1 382.8 L566.7 383.3 L568.4 384.8 L570.0 386.7 L571.6 388.3 L573.3 389.2 L574.9 389.3 L576.5 388.5 L578.2 387.1 L579.8 385.3 L581.5 383.6 L583.1 381.9 L584.7 380.7 L586.4 380.2 L588.0 380.6 L589.6 382.0 L591.3 384.2 L592.9 386.7 L594.6 389.5 L596.2 392.5 L597.8 395.3 L599.5 397.8 L601.1 399.5 L602.7 400.2 L604.4 399.3 L606.0 397.2 L607.7 394.4 L609.3 391.9 L610.9 390.0 L612.6 389.3 L614.2 389.7 L615.8 390.9 L617.5 392.5 L619.1 394.2 L620.8 395.6 L622.4 396.7 L624.0 397.2 L625.7 397.0 L627.3 396.4 L628.9 395.7 L630.6 395.2 L632.2 395.4 L633.9 396.3 L635.5 398.1 L637.1 400.5 L638.8 403.2 L640.4 406.1 L642.0 408.9 L643.7 411.5 L645.3 414.2 L647.0 416.8 L648.6 419.5 L650.2 422.2 L651.9 424.8 L653.5 427.1 L655.1 429.2 L656.8 430.9 L658.4 432.1 L660.1 432.8 L661.7 432.8 L663.3 432.2 L665.0 431.1 L666.6 429.9 L668.2 428.5 L669.9 427.3 L671.5 426.3 L673.2 425.3 L674.8 424.4 L676.4 423.7 L678.1 423.1 L679.7 422.5 L681.3 422.2 L681.3 447.4 Z"/>
<path d="M28.0 451.8 L28.0 308.8 L29.6 309.5 L31.3 310.3 L32.9 311.4 L34.6 312.6 L36.2 314.1 L37.9 315.8 L39.5 317.7 L41.2 319.8 L42.8 322.1 L44.5 324.5 L46.1 327.1 L47.8 329.6 L49.4 332.1 L51.1 334.5 L52.7 336.6 L54.4 338.3 L56.0 339.6 L57.7 340.2 L59.3 340.2 L61.0 339.5 L62.6 338.1 L64.3 336.1 L65.9 333.7 L67.5 331.1 L69.2 328.5 L70.8 326.0 L72.5 323.6 L74.1 321.4 L75.8 319.3 L77.4 317.5 L79.1 315.9 L80.7 314.5 L82.4 313.4 L84.0 312.4 L85.7 311.5 L87.3 310.5 L89.0 309.4 L90.6 308.2 L92.3 306.9 L93.9 305.6 L95.6 304.3 L97.2 303.0 L98.9 301.8 L100.5 300.7 L102.1 299.7 L103.8 298.6 L105.4 297.6 L107.1 296.7 L108.7 295.9 L110.4 295.1 L112.0 294.4 L113.7 293.9 L115.3 293.4 L117.0 293.1 L118.6 292.8 L120.3 292.6 L121.9 292.5 L123.6 292.5 L125.2 292.6 L126.9 292.6 L128.5 292.6 L130.2 292.6 L131.8 292.5 L133.5 292.5 L135.1 292.6 L136.8 292.7 L138.4 292.8 L140.0 293.0 L141.7 293.2 L143.3 293.5 L145.0 293.8 L146.6 294.1 L148.3 294.2 L149.9 294.1 L151.6 293.9 L153.2 293.6 L154.9 293.1 L156.5 292.6 L158.2 292.0 L159.8 291.4 L161.5 290.8 L163.1 290.1 L164.8 289.4 L166.4 288.8 L168.1 288.1 L169.7 287.5 L171.4 286.8 L173.0 286.2 L174.6 285.7 L176.3 285.2 L177.9 284.8 L179.6 284.5 L181.2 284.1 L182.9 283.8 L184.5 283.6 L186.2 283.3 L187.8 283.0 L189.5 282.8 L191.1 282.5 L192.8 282.2 L194.4 281.9 L196.1 281.5 L197.7 281.0 L199.4 280.4 L201.0 279.7 L202.7 278.9 L204.3 278.0 L206.0 276.8 L207.6 275.6 L209.3 274.1 L210.9 272.6 L212.5 270.8 L214.2 268.8 L215.8 266.7 L217.5 264.6 L219.1 262.3 L220.8 259.8 L222.4 257.0 L224.1 253.9 L225.7 250.8 L227.4 247.5 L229.0 243.8 L230.7 239.3 L232.3 234.2 L234.0 229.1 L235.6 224.2 L237.3 219.4 L238.9 214.9 L240.6 210.5 L242.2 206.1 L243.9 201.8 L245.5 197.6 L247.1 193.4 L248.8 189.3 L250.4 185.4 L252.1 181.6 L253.7 177.8 L255.4 174.2 L257.0 170.5 L258.7 166.8 L260.3 163.1 L262.0 159.5 L263.6 156.1 L265.3 153.0 L266.9 150.3 L268.6 148.1 L270.2 146.2 L271.9 144.6 L273.5 143.0 L275.2 141.6 L276.8 140.2 L278.5 138.8 L280.1 137.5 L281.8 136.2 L283.4 134.9 L285.0 133.7 L286.7 132.4 L288.3 131.3 L290.0 130.1 L291.6 129.1 L293.3 128.2 L294.9 127.3 L296.6 126.4 L298.2 125.6 L299.9 124.7 L301.5 123.8 L303.2 122.8 L304.8 121.7 L306.5 120.3 L308.1 118.8 L309.8 117.1 L311.4 115.2 L313.1 113.3 L314.7 111.4 L316.4 109.6 L318.0 107.8 L319.7 106.0 L321.3 104.4 L322.9 102.8 L324.6 101.2 L326.2 99.7 L327.9 98.2 L329.5 96.7 L331.2 95.3 L332.8 93.8 L334.5 92.1 L336.1 90.4 L337.8 88.7 L339.4 87.3 L341.1 86.3 L342.7 85.9 L344.4 86.0 L346.0 86.8 L347.7 88.1 L349.3 89.6 L351.0 91.3 L352.6 93.3 L354.3 95.6 L355.9 98.4 L357.5 101.8 L359.2 105.8 L360.8 110.2 L362.5 114.7 L364.1 119.6 L365.8 124.8 L367.4 130.3 L369.1 136.1 L370.7 142.0 L372.4 147.9 L374.0 153.6 L375.7 159.1 L377.3 164.5 L379.0 169.9 L380.6 175.1 L382.3 180.1 L383.9 184.6 L385.6 188.5 L387.2 191.7 L388.9 194.2 L390.5 196.2 L392.2 197.8 L393.8 199.1 L395.4 200.1 L397.1 201.1 L398.7 202.0 L400.4 202.8 L402.0 203.6 L403.7 204.2 L405.3 205.0 L407.0 206.4 L408.6 208.6 L410.3 211.8 L411.9 216.0 L413.6 220.1 L415.2 223.1 L416.9 225.8 L418.5 230.5 L420.2 237.8 L421.8 242.2 L423.5 237.8 L425.1 225.9 L426.8 213.2 L428.4 204.9 L430.0 199.7 L431.7 195.7 L433.3 192.3 L435.0 189.6 L436.6 188.0 L438.3 187.2 L439.9 186.7 L441.6 186.6 L443.2 187.2 L444.9 188.6 L446.5 190.6 L448.2 193.0 L449.8 195.8 L451.5 199.2 L453.1 203.1 L454.8 207.4 L456.4 211.8 L458.1 216.3 L459.7 221.0 L461.4 226.0 L463.0 231.4 L464.7 237.4 L466.3 244.2 L467.9 251.7 L469.6 259.7 L471.2 267.5 L472.9 274.2 L474.5 279.7 L476.2 284.1 L477.8 287.6 L479.5 290.6 L481.1 293.7 L482.8 296.7 L484.4 299.6 L486.1 302.2 L487.7 304.7 L489.4 307.0 L491.0 309.2 L492.7 311.4 L494.3 313.5 L496.0 315.7 L497.6 317.7 L499.3 319.7 L500.9 321.7 L502.5 323.6 L504.2 325.4 L505.8 327.1 L507.5 328.9 L509.1 331.4 L510.8 334.8 L512.4 338.5 L514.1 342.2 L515.7 345.5 L517.4 347.9 L519.0 349.3 L520.7 350.2 L522.3 350.8 L524.0 351.1 L525.6 350.7 L527.3 349.5 L528.9 347.8 L530.6 345.8 L532.2 344.0 L533.9 342.4 L535.5 341.3 L537.2 341.0 L538.8 341.6 L540.4 343.3 L542.1 345.8 L543.7 348.9 L545.4 352.3 L547.0 355.6 L548.7 359.0 L550.3 363.0 L552.0 367.7 L553.6 373.1 L555.3 378.8 L556.9 384.5 L558.6 389.6 L560.2 393.6 L561.9 396.1 L563.5 396.9 L565.2 396.5 L566.8 395.9 L568.5 395.8 L570.1 396.4 L571.8 397.9 L573.4 400.0 L575.0 401.7 L576.7 402.8 L578.3 403.0 L580.0 402.4 L581.6 401.1 L583.3 399.5 L584.9 397.9 L586.6 396.4 L588.2 395.3 L589.9 394.9 L591.5 395.4 L593.2 397.0 L594.8 399.2 L596.5 401.9 L598.1 404.8 L599.8 407.8 L601.4 410.8 L603.1 413.3 L604.7 415.2 L606.4 415.9 L608.0 415.1 L609.7 413.0 L611.3 410.3 L612.9 407.8 L614.6 406.1 L616.2 405.4 L617.9 406.0 L619.5 407.3 L621.2 409.1 L622.8 410.9 L624.5 412.5 L626.1 413.8 L627.8 414.5 L629.4 414.5 L631.1 414.1 L632.7 413.6 L634.4 413.4 L636.0 413.8 L637.7 415.0 L639.3 417.0 L641.0 419.6 L642.6 422.6 L644.3 425.7 L645.9 428.7 L647.6 431.5 L649.2 434.3 L650.8 437.1 L652.5 439.8 L654.1 442.6 L655.8 445.1 L657.4 447.4 L659.1 449.4 L660.7 451.0 L662.4 451.2 L667.3 451.2 L669.0 450.2 L670.6 448.6 L672.3 447.0 L673.9 445.5 L675.6 444.1 L677.2 442.9 L678.9 441.7 L680.5 440.6 L682.2 439.6 L683.8 438.8 L685.4 438.1 L685.4 451.8 Z"/>
<path d="M28.0 456.3 L28.0 319.6 L29.7 320.4 L31.3 321.4 L33.0 322.7 L34.6 324.2 L36.3 325.9 L37.9 327.9 L39.6 330.2 L41.3 332.6 L42.9 335.2 L44.6 338.0 L46.2 340.8 L47.9 343.6 L49.6 346.3 L51.2 348.8 L52.9 351.0 L54.5 352.8 L56.2 354.0 L57.8 354.5 L59.5 354.3 L61.2 353.3 L62.8 351.5 L64.5 349.0 L66.1 346.2 L67.8 343.1 L69.5 340.0 L71.1 337.1 L72.8 334.3 L74.4 331.6 L76.1 329.3 L77.7 327.1 L79.4 325.4 L81.1 323.9 L82.7 322.6 L84.4 321.6 L86.0 320.7 L87.7 319.7 L89.3 318.6 L91.0 317.5 L92.7 316.2 L94.3 315.0 L96.0 313.7 L97.6 312.5 L99.3 311.4 L101.0 310.3 L102.6 309.4 L104.3 308.4 L105.9 307.5 L107.6 306.6 L109.2 305.9 L110.9 305.3 L112.6 304.7 L114.2 304.3 L115.9 304.0 L117.5 303.9 L119.2 303.8 L120.9 303.8 L122.5 304.0 L124.2 304.2 L125.8 304.5 L127.5 304.8 L129.1 305.1 L130.8 305.3 L132.5 305.6 L134.1 305.8 L135.8 306.1 L137.4 306.5 L139.1 306.8 L140.7 307.2 L142.4 307.5 L144.1 308.0 L145.7 308.4 L147.4 308.7 L149.0 308.9 L150.7 308.8 L152.4 308.6 L154.0 308.2 L155.7 307.7 L157.3 307.1 L159.0 306.4 L160.6 305.6 L162.3 304.8 L164.0 304.0 L165.6 303.2 L167.3 302.4 L168.9 301.5 L170.6 300.7 L172.2 300.0 L173.9 299.3 L175.6 298.6 L177.2 298.0 L178.9 297.5 L180.5 297.1 L182.2 296.7 L183.9 296.3 L185.5 296.0 L187.2 295.7 L188.8 295.4 L190.5 295.1 L192.1 294.7 L193.8 294.3 L195.5 293.9 L197.1 293.4 L198.8 292.8 L200.4 292.1 L202.1 291.2 L203.8 290.3 L205.4 289.1 L207.1 287.8 L208.7 286.4 L210.4 284.8 L212.0 283.0 L213.7 281.0 L215.4 278.8 L217.0 276.4 L218.7 274.0 L220.3 271.4 L222.0 268.6 L223.6 265.5 L225.3 262.0 L227.0 258.5 L228.6 254.8 L230.3 250.7 L231.9 245.8 L233.6 240.4 L235.3 234.9 L236.9 229.7 L238.6 224.7 L240.2 220.0 L241.9 215.3 L243.5 210.8 L245.2 206.4 L246.9 202.1 L248.5 197.8 L250.2 193.7 L251.8 189.7 L253.5 185.9 L255.2 182.2 L256.8 178.5 L258.5 174.9 L260.1 171.3 L261.8 167.6 L263.4 164.1 L265.1 160.8 L266.8 157.8 L268.4 155.2 L270.1 153.1 L271.7 151.3 L273.4 149.7 L275.0 148.3 L276.7 146.9 L278.4 145.6 L280.0 144.2 L281.7 142.8 L283.3 141.5 L285.0 140.1 L286.7 138.8 L288.3 137.5 L290.0 136.2 L291.6 134.9 L293.3 133.7 L294.9 132.6 L296.6 131.6 L298.3 130.5 L299.9 129.6 L301.6 128.6 L303.2 127.5 L304.9 126.4 L306.6 125.2 L308.2 123.8 L309.9 122.2 L311.5 120.4 L313.2 118.5 L314.8 116.5 L316.5 114.6 L318.2 112.7 L319.8 110.9 L321.5 109.2 L323.1 107.5 L324.8 106.0 L326.4 104.4 L328.1 102.9 L329.8 101.4 L331.4 100.0 L333.1 98.7 L334.7 97.2 L336.4 95.7 L338.1 94.1 L339.7 92.5 L341.4 91.2 L343.0 90.3 L344.7 90.1 L346.3 90.5 L348.0 91.5 L349.7 93.0 L351.3 94.8 L353.0 96.8 L354.6 99.1 L356.3 101.8 L358.0 104.9 L359.6 108.8 L361.3 113.2 L362.9 118.0 L364.6 123.0 L366.2 128.2 L367.9 133.9 L369.6 139.8 L371.2 146.0 L372.9 152.3 L374.5 158.5 L376.2 164.5 L377.8 170.2 L379.5 175.8 L381.2 181.4 L382.8 186.7 L384.5 191.8 L386.1 196.3 L387.8 200.1 L389.5 203.2 L391.1 205.5 L392.8 207.3 L394.4 208.7 L396.1 209.7 L397.7 210.4 L399.4 211.0 L401.1 211.6 L402.7 212.1 L404.4 212.4 L406.0 212.7 L407.7 213.1 L409.4 214.1 L411.0 215.9 L412.7 218.8 L414.3 222.7 L416.0 226.6 L417.6 229.3 L419.3 231.8 L421.0 236.4 L422.6 243.5 L424.3 247.9 L425.9 243.4 L427.6 231.3 L429.2 218.5 L430.9 210.1 L432.6 204.9 L434.2 200.9 L435.9 197.5 L437.5 194.9 L439.2 193.4 L440.9 192.6 L442.5 192.2 L444.2 192.2 L445.8 192.9 L447.5 194.5 L449.1 196.7 L450.8 199.3 L452.5 202.2 L454.1 205.8 L455.8 210.0 L457.4 214.5 L459.1 219.2 L460.7 224.0 L462.4 228.9 L464.1 234.2 L465.7 240.0 L467.4 246.4 L469.0 253.5 L470.7 261.4 L472.4 269.8 L474.0 278.0 L475.7 285.1 L477.3 290.9 L479.0 295.5 L480.6 299.3 L482.3 302.6 L484.0 305.9 L485.6 309.1 L487.3 312.2 L488.9 315.0 L490.6 317.6 L492.3 320.1 L493.9 322.4 L495.6 324.6 L497.2 326.8 L498.9 329.0 L500.5 331.0 L502.2 333.0 L503.9 334.9 L505.5 336.8 L507.2 338.4 L508.8 340.0 L510.5 341.7 L512.1 344.0 L513.8 347.2 L515.5 350.8 L517.1 354.4 L518.8 357.5 L520.4 359.8 L522.1 361.1 L523.8 361.8 L525.4 362.4 L527.1 362.7 L528.7 362.2 L530.4 361.0 L532.0 359.2 L533.7 357.3 L535.4 355.5 L537.0 353.9 L538.7 352.9 L540.3 352.6 L542.0 353.3 L543.7 355.1 L545.3 357.7 L547.0 360.9 L548.6 364.4 L550.3 367.8 L551.9 371.3 L553.6 375.4 L555.3 380.2 L556.9 385.7 L558.6 391.5 L560.2 397.3 L561.9 402.5 L563.5 406.5 L565.2 409.1 L566.9 410.0 L568.5 409.7 L570.2 409.3 L571.8 409.2 L573.5 410.0 L575.2 411.7 L576.8 413.8 L578.5 415.7 L580.1 417.0 L581.8 417.4 L583.4 416.9 L585.1 415.8 L586.8 414.4 L588.4 412.9 L590.1 411.6 L591.7 410.7 L593.4 410.4 L595.1 411.1 L596.7 412.8 L598.4 415.2 L600.0 418.0 L601.7 421.0 L603.3 424.2 L605.0 427.2 L606.7 429.9 L608.3 431.8 L610.0 432.6 L611.6 432.0 L613.3 429.9 L614.9 427.3 L616.6 424.9 L618.3 423.2 L619.9 422.7 L621.6 423.4 L623.2 424.9 L624.9 426.8 L626.6 428.8 L628.2 430.6 L629.9 432.1 L631.5 433.0 L633.2 433.3 L634.8 433.1 L636.5 432.8 L638.2 432.9 L639.8 433.5 L641.5 435.0 L643.1 437.2 L644.8 440.1 L646.5 443.3 L648.1 446.6 L649.8 449.8 L651.4 452.9 L653.1 455.7 L687.9 455.7 L689.6 455.6 L689.6 456.3 Z"/>
<path d="M28.0 460.7 L28.0 331.9 L29.7 332.7 L31.3 333.9 L33.0 335.4 L34.7 337.1 L36.3 339.1 L38.0 341.4 L39.7 343.9 L41.3 346.6 L43.0 349.5 L44.7 352.5 L46.4 355.5 L48.0 358.5 L49.7 361.3 L51.4 363.9 L53.0 366.2 L54.7 367.9 L56.4 369.0 L58.0 369.4 L59.7 369.0 L61.4 367.6 L63.0 365.4 L64.7 362.5 L66.4 359.1 L68.0 355.5 L69.7 352.0 L71.4 348.5 L73.0 345.3 L74.7 342.3 L76.4 339.6 L78.1 337.3 L79.7 335.3 L81.4 333.7 L83.1 332.4 L84.7 331.3 L86.4 330.3 L88.1 329.4 L89.7 328.3 L91.4 327.2 L93.1 326.0 L94.7 324.8 L96.4 323.6 L98.1 322.5 L99.7 321.4 L101.4 320.5 L103.1 319.5 L104.7 318.7 L106.4 317.8 L108.1 317.1 L109.7 316.5 L111.4 315.9 L113.1 315.6 L114.8 315.3 L116.4 315.2 L118.1 315.2 L119.8 315.4 L121.4 315.7 L123.1 316.1 L124.8 316.6 L126.4 317.1 L128.1 317.7 L129.8 318.2 L131.4 318.7 L133.1 319.2 L134.8 319.7 L136.4 320.3 L138.1 320.8 L139.8 321.4 L141.4 321.9 L143.1 322.5 L144.8 323.0 L146.5 323.5 L148.1 323.9 L149.8 324.1 L151.5 324.1 L153.1 323.8 L154.8 323.4 L156.5 322.8 L158.1 322.1 L159.8 321.3 L161.5 320.4 L163.1 319.4 L164.8 318.4 L166.5 317.5 L168.1 316.5 L169.8 315.5 L171.5 314.5 L173.1 313.6 L174.8 312.8 L176.5 312.0 L178.2 311.3 L179.8 310.7 L181.5 310.2 L183.2 309.7 L184.8 309.3 L186.5 308.9 L188.2 308.5 L189.8 308.1 L191.5 307.7 L193.2 307.3 L194.8 306.8 L196.5 306.3 L198.2 305.6 L199.8 304.9 L201.5 304.1 L203.2 303.1 L204.8 301.9 L206.5 300.6 L208.2 299.1 L209.8 297.5 L211.5 295.7 L213.2 293.7 L214.9 291.5 L216.5 289.1 L218.2 286.5 L219.9 283.8 L221.5 281.0 L223.2 277.9 L224.9 274.4 L226.5 270.6 L228.2 266.7 L229.9 262.6 L231.5 258.1 L233.2 252.8 L234.9 247.0 L236.5 241.2 L238.2 235.7 L239.9 230.4 L241.5 225.4 L243.2 220.6 L244.9 216.0 L246.6 211.4 L248.2 207.0 L249.9 202.7 L251.6 198.5 L253.2 194.5 L254.9 190.7 L256.6 187.0 L258.2 183.4 L259.9 179.8 L261.6 176.2 L263.2 172.7 L264.9 169.3 L266.6 166.1 L268.2 163.2 L269.9 160.8 L271.6 158.8 L273.2 157.1 L274.9 155.7 L276.6 154.4 L278.3 153.1 L279.9 151.8 L281.6 150.4 L283.3 149.0 L284.9 147.6 L286.6 146.2 L288.3 144.7 L289.9 143.3 L291.6 141.8 L293.3 140.3 L294.9 139.0 L296.6 137.7 L298.3 136.4 L299.9 135.2 L301.6 134.0 L303.3 132.9 L304.9 131.7 L306.6 130.5 L308.3 129.1 L310.0 127.5 L311.6 125.9 L313.3 124.0 L315.0 122.1 L316.6 120.1 L318.3 118.1 L320.0 116.2 L321.6 114.3 L323.3 112.6 L325.0 111.0 L326.6 109.4 L328.3 107.9 L330.0 106.4 L331.6 105.0 L333.3 103.6 L335.0 102.4 L336.6 101.0 L338.3 99.6 L340.0 98.1 L341.6 96.7 L343.3 95.5 L345.0 94.8 L346.7 94.8 L348.3 95.4 L350.0 96.7 L351.7 98.5 L353.3 100.6 L355.0 103.0 L356.7 105.6 L358.3 108.6 L360.0 112.2 L361.7 116.4 L363.3 121.2 L365.0 126.5 L366.7 131.9 L368.3 137.6 L370.0 143.6 L371.7 150.0 L373.3 156.6 L375.0 163.2 L376.7 169.8 L378.4 176.0 L380.0 182.0 L381.7 187.8 L383.4 193.5 L385.0 199.0 L386.7 204.1 L388.4 208.6 L390.0 212.4 L391.7 215.3 L393.4 217.6 L395.0 219.2 L396.7 220.3 L398.4 221.0 L400.0 221.4 L401.7 221.7 L403.4 221.9 L405.0 222.0 L406.7 222.0 L408.4 221.9 L410.1 221.9 L411.7 222.5 L413.4 224.0 L415.1 226.5 L416.7 230.1 L418.4 233.7 L420.1 236.2 L421.7 238.4 L423.4 242.8 L425.1 249.8 L426.7 254.1 L428.4 249.4 L430.1 237.1 L431.7 224.3 L433.4 215.8 L435.1 210.6 L436.7 206.6 L438.4 203.2 L440.1 200.6 L441.8 199.1 L443.4 198.4 L445.1 198.1 L446.8 198.2 L448.4 199.1 L450.1 200.8 L451.8 203.1 L453.4 205.8 L455.1 209.0 L456.8 212.8 L458.4 217.1 L460.1 221.9 L461.8 226.9 L463.4 231.9 L465.1 237.2 L466.8 242.8 L468.4 248.9 L470.1 255.7 L471.8 263.1 L473.4 271.3 L475.1 280.1 L476.8 288.7 L478.5 296.1 L480.1 302.2 L481.8 307.2 L483.5 311.2 L485.1 314.8 L486.8 318.3 L488.5 321.7 L490.1 325.0 L491.8 328.0 L493.5 330.7 L495.1 333.3 L496.8 335.7 L498.5 338.0 L500.1 340.2 L501.8 342.4 L503.5 344.4 L505.1 346.4 L506.8 348.2 L508.5 350.0 L510.2 351.6 L511.8 353.0 L513.5 354.6 L515.2 356.8 L516.8 359.8 L518.5 363.3 L520.2 366.7 L521.8 369.7 L523.5 371.9 L525.2 373.1 L526.8 373.7 L528.5 374.2 L530.2 374.4 L531.8 374.0 L533.5 372.7 L535.2 370.9 L536.8 369.0 L538.5 367.2 L540.2 365.7 L541.9 364.7 L543.5 364.5 L545.2 365.3 L546.9 367.2 L548.5 369.9 L550.2 373.2 L551.9 376.8 L553.5 380.3 L555.2 384.0 L556.9 388.2 L558.5 393.1 L560.2 398.7 L561.9 404.6 L563.5 410.4 L565.2 415.6 L566.9 419.7 L568.5 422.4 L570.2 423.3 L571.9 423.2 L573.5 422.9 L575.2 423.1 L576.9 424.0 L578.6 425.8 L580.2 428.1 L581.9 430.2 L583.6 431.5 L585.2 432.1 L586.9 431.9 L588.6 431.1 L590.2 429.9 L591.9 428.6 L593.6 427.5 L595.2 426.8 L596.9 426.7 L598.6 427.6 L600.2 429.4 L601.9 431.9 L603.6 434.9 L605.2 438.0 L606.9 441.3 L608.6 444.4 L610.3 447.2 L611.9 449.2 L613.6 450.2 L615.3 449.6 L616.9 447.8 L618.6 445.3 L620.3 443.0 L621.9 441.5 L623.6 441.0 L625.3 441.9 L626.9 443.5 L628.6 445.6 L630.3 447.8 L631.9 449.9 L633.6 451.6 L635.3 452.7 L636.9 453.2 L638.6 453.2 L640.3 453.2 L642.0 453.5 L643.6 454.4 L645.3 456.2 L647.0 458.7 L648.6 460.1 L693.7 460.1 L693.7 460.7 Z"/>
<path d="M28.0 465.2 L28.0 345.8 L29.7 346.7 L31.4 348.0 L33.0 349.5 L34.7 351.4 L36.4 353.6 L38.1 356.1 L39.8 358.8 L41.4 361.7 L43.1 364.8 L44.8 367.9 L46.5 371.0 L48.1 374.1 L49.8 376.9 L51.5 379.5 L53.2 381.7 L54.9 383.4 L56.5 384.4 L58.2 384.6 L59.9 384.0 L61.6 382.4 L63.3 379.8 L64.9 376.4 L66.6 372.5 L68.3 368.4 L70.0 364.4 L71.6 360.5 L73.3 356.8 L75.0 353.4 L76.7 350.4 L78.4 347.8 L80.0 345.6 L81.7 343.9 L83.4 342.5 L85.1 341.4 L86.8 340.4 L88.4 339.4 L90.1 338.5 L91.8 337.4 L93.5 336.3 L95.1 335.2 L96.8 334.0 L98.5 333.0 L100.2 332.0 L101.9 331.1 L103.5 330.2 L105.2 329.4 L106.9 328.7 L108.6 328.1 L110.3 327.5 L111.9 327.2 L113.6 326.9 L115.3 326.9 L117.0 326.9 L118.6 327.2 L120.3 327.5 L122.0 328.0 L123.7 328.7 L125.4 329.4 L127.0 330.2 L128.7 331.1 L130.4 331.9 L132.1 332.6 L133.8 333.4 L135.4 334.1 L137.1 334.9 L138.8 335.7 L140.5 336.4 L142.1 337.2 L143.8 337.9 L145.5 338.5 L147.2 339.2 L148.9 339.6 L150.5 339.9 L152.2 339.8 L153.9 339.6 L155.6 339.1 L157.3 338.4 L158.9 337.6 L160.6 336.7 L162.3 335.6 L164.0 334.5 L165.6 333.4 L167.3 332.2 L169.0 331.1 L170.7 329.9 L172.4 328.8 L174.0 327.7 L175.7 326.7 L177.4 325.8 L179.1 325.0 L180.8 324.3 L182.4 323.7 L184.1 323.1 L185.8 322.6 L187.5 322.2 L189.2 321.7 L190.8 321.3 L192.5 320.8 L194.2 320.3 L195.9 319.7 L197.5 319.0 L199.2 318.3 L200.9 317.4 L202.6 316.4 L204.3 315.2 L205.9 313.9 L207.6 312.4 L209.3 310.7 L211.0 308.9 L212.7 306.9 L214.3 304.8 L216.0 302.4 L217.7 299.8 L219.4 297.0 L221.0 294.0 L222.7 290.9 L224.4 287.6 L226.1 283.8 L227.8 279.6 L229.4 275.3 L231.1 270.9 L232.8 266.0 L234.5 260.3 L236.2 254.1 L237.8 248.0 L239.5 242.1 L241.2 236.6 L242.9 231.4 L244.5 226.4 L246.2 221.5 L247.9 216.9 L249.6 212.4 L251.3 208.0 L252.9 203.8 L254.6 199.8 L256.3 196.0 L258.0 192.3 L259.7 188.8 L261.3 185.3 L263.0 181.8 L264.7 178.4 L266.4 175.1 L268.0 172.0 L269.7 169.3 L271.4 167.1 L273.1 165.3 L274.8 163.8 L276.4 162.5 L278.1 161.3 L279.8 160.1 L281.5 158.9 L283.2 157.5 L284.8 156.1 L286.5 154.7 L288.2 153.1 L289.9 151.5 L291.5 149.9 L293.2 148.2 L294.9 146.6 L296.6 145.0 L298.3 143.4 L299.9 142.0 L301.6 140.5 L303.3 139.1 L305.0 137.7 L306.7 136.4 L308.3 135.0 L310.0 133.4 L311.7 131.8 L313.4 130.0 L315.0 128.0 L316.7 126.0 L318.4 123.9 L320.1 121.9 L321.8 120.0 L323.4 118.1 L325.1 116.4 L326.8 114.7 L328.5 113.2 L330.2 111.7 L331.8 110.3 L333.5 108.9 L335.2 107.6 L336.9 106.4 L338.6 105.2 L340.2 103.9 L341.9 102.5 L343.6 101.3 L345.3 100.3 L346.9 99.8 L348.6 100.0 L350.3 100.9 L352.0 102.5 L353.7 104.6 L355.3 107.0 L357.0 109.7 L358.7 112.7 L360.4 116.1 L362.1 120.1 L363.7 124.7 L365.4 130.0 L367.1 135.7 L368.8 141.5 L370.4 147.6 L372.1 154.1 L373.8 160.9 L375.5 167.8 L377.2 174.8 L378.8 181.7 L380.5 188.2 L382.2 194.4 L383.9 200.4 L385.6 206.3 L387.2 211.9 L388.9 217.0 L390.6 221.5 L392.3 225.3 L393.9 228.2 L395.6 230.2 L397.3 231.7 L399.0 232.5 L400.7 233.0 L402.3 233.1 L404.0 233.0 L405.7 232.9 L407.4 232.6 L409.1 232.2 L410.7 231.7 L412.4 231.4 L414.1 231.6 L415.8 232.7 L417.4 234.9 L419.1 238.1 L420.8 241.4 L422.5 243.6 L424.2 245.6 L425.8 249.8 L427.5 256.7 L429.2 260.8 L430.9 256.0 L432.6 243.5 L434.2 230.5 L435.9 221.9 L437.6 216.7 L439.3 212.7 L440.9 209.3 L442.6 206.7 L444.3 205.3 L446.0 204.6 L447.7 204.4 L449.3 204.7 L451.0 205.6 L452.7 207.4 L454.4 209.9 L456.1 212.8 L457.7 216.1 L459.4 220.1 L461.1 224.7 L462.8 229.7 L464.4 234.9 L466.1 240.2 L467.8 245.7 L469.5 251.6 L471.2 258.1 L472.8 265.1 L474.5 273.0 L476.2 281.5 L477.9 290.7 L479.6 299.6 L481.2 307.3 L482.9 313.7 L484.6 319.0 L486.3 323.3 L488.0 327.1 L489.6 330.8 L491.3 334.5 L493.0 337.9 L494.7 341.0 L496.3 343.9 L498.0 346.6 L499.7 349.1 L501.4 351.5 L503.1 353.7 L504.7 355.9 L506.4 357.9 L508.1 359.9 L509.8 361.7 L511.5 363.4 L513.1 364.9 L514.8 366.2 L516.5 367.6 L518.2 369.7 L519.8 372.6 L521.5 375.9 L523.2 379.2 L524.9 382.1 L526.6 384.1 L528.2 385.2 L529.9 385.8 L531.6 386.2 L533.3 386.4 L535.0 385.9 L536.6 384.6 L538.3 382.9 L540.0 381.0 L541.7 379.2 L543.3 377.8 L545.0 376.8 L546.7 376.7 L548.4 377.6 L550.1 379.5 L551.7 382.3 L553.4 385.8 L555.1 389.5 L556.8 393.2 L558.5 396.9 L560.1 401.3 L561.8 406.3 L563.5 412.0 L565.2 417.9 L566.8 423.7 L568.5 428.8 L570.2 432.8 L571.9 435.3 L573.6 436.4 L575.2 436.6 L576.9 436.6 L578.6 437.0 L580.3 438.0 L582.0 439.9 L583.6 442.3 L585.3 444.4 L587.0 446.0 L588.7 446.8 L590.3 446.9 L592.0 446.4 L593.7 445.6 L595.4 444.7 L597.1 443.9 L598.7 443.4 L600.4 443.6 L602.1 444.6 L603.8 446.6 L605.5 449.2 L607.1 452.3 L608.8 455.5 L610.5 458.7 L612.2 461.8 L613.8 464.6 L620.6 464.6 L622.2 463.9 L623.9 461.9 L625.6 460.5 L627.3 460.3 L629.0 461.3 L630.6 463.1 L632.3 464.6 L697.8 464.6 L697.8 465.2 Z"/>
<path d="M28.0 469.6 L28.0 361.4 L29.7 362.3 L31.4 363.5 L33.1 365.1 L34.8 367.1 L36.4 369.4 L38.1 371.9 L39.8 374.6 L41.5 377.5 L43.2 380.5 L44.9 383.5 L46.6 386.5 L48.3 389.4 L50.0 392.0 L51.6 394.4 L53.3 396.5 L55.0 398.2 L56.7 399.3 L58.4 399.7 L60.1 399.1 L61.8 397.4 L63.5 394.5 L65.2 390.7 L66.8 386.4 L68.5 381.8 L70.2 377.2 L71.9 372.8 L73.6 368.7 L75.3 365.0 L77.0 361.6 L78.7 358.7 L80.4 356.4 L82.0 354.5 L83.7 353.0 L85.4 351.9 L87.1 350.9 L88.8 349.9 L90.5 349.0 L92.2 348.0 L93.9 347.0 L95.6 345.9 L97.2 344.9 L98.9 343.9 L100.6 343.0 L102.3 342.1 L104.0 341.4 L105.7 340.7 L107.4 340.1 L109.1 339.5 L110.8 339.1 L112.4 338.9 L114.1 338.8 L115.8 338.9 L117.5 339.1 L119.2 339.5 L120.9 340.1 L122.6 340.8 L124.3 341.7 L126.0 342.7 L127.6 343.7 L129.3 344.8 L131.0 345.8 L132.7 346.8 L134.4 347.8 L136.1 348.7 L137.8 349.7 L139.5 350.6 L141.2 351.5 L142.8 352.4 L144.5 353.2 L146.2 354.0 L147.9 354.8 L149.6 355.4 L151.3 355.7 L153.0 355.8 L154.7 355.6 L156.4 355.1 L158.0 354.5 L159.7 353.6 L161.4 352.6 L163.1 351.4 L164.8 350.2 L166.5 348.8 L168.2 347.5 L169.9 346.1 L171.6 344.8 L173.2 343.5 L174.9 342.2 L176.6 341.1 L178.3 340.0 L180.0 339.1 L181.7 338.3 L183.4 337.6 L185.1 336.9 L186.8 336.4 L188.5 335.8 L190.1 335.3 L191.8 334.8 L193.5 334.2 L195.2 333.6 L196.9 332.9 L198.6 332.1 L200.3 331.2 L202.0 330.2 L203.7 329.0 L205.3 327.6 L207.0 326.1 L208.7 324.5 L210.4 322.6 L212.1 320.6 L213.8 318.5 L215.5 316.1 L217.2 313.5 L218.9 310.8 L220.5 307.8 L222.2 304.6 L223.9 301.3 L225.6 297.6 L227.3 293.5 L229.0 289.1 L230.7 284.4 L232.4 279.6 L234.1 274.3 L235.7 268.3 L237.4 261.7 L239.1 255.2 L240.8 249.1 L242.5 243.2 L244.2 237.8 L245.9 232.5 L247.6 227.6 L249.3 222.8 L250.9 218.2 L252.6 213.8 L254.3 209.6 L256.0 205.6 L257.7 201.8 L259.4 198.2 L261.1 194.7 L262.8 191.4 L264.5 188.0 L266.1 184.8 L267.8 181.6 L269.5 178.8 L271.2 176.3 L272.9 174.2 L274.6 172.6 L276.3 171.4 L278.0 170.3 L279.7 169.3 L281.3 168.2 L283.0 167.0 L284.7 165.7 L286.4 164.3 L288.1 162.7 L289.8 161.1 L291.5 159.3 L293.2 157.5 L294.9 155.6 L296.5 153.7 L298.2 151.8 L299.9 150.0 L301.6 148.2 L303.3 146.5 L305.0 144.9 L306.7 143.2 L308.4 141.6 L310.1 140.0 L311.7 138.3 L313.4 136.5 L315.1 134.5 L316.8 132.5 L318.5 130.4 L320.2 128.2 L321.9 126.1 L323.6 124.1 L325.3 122.3 L326.9 120.5 L328.6 118.9 L330.3 117.4 L332.0 115.9 L333.7 114.5 L335.4 113.2 L337.1 112.1 L338.8 111.0 L340.5 109.8 L342.1 108.7 L343.8 107.5 L345.5 106.4 L347.2 105.6 L348.9 105.4 L350.6 105.8 L352.3 106.9 L354.0 108.8 L355.7 111.2 L357.3 114.0 L359.0 117.1 L360.7 120.5 L362.4 124.3 L364.1 128.6 L365.8 133.7 L367.5 139.4 L369.2 145.5 L370.9 151.8 L372.5 158.3 L374.2 165.2 L375.9 172.4 L377.6 179.7 L379.3 187.0 L381.0 194.2 L382.7 201.0 L384.4 207.5 L386.1 213.7 L387.7 219.7 L389.4 225.4 L391.1 230.6 L392.8 235.1 L394.5 238.8 L396.2 241.6 L397.9 243.6 L399.6 244.8 L401.3 245.5 L402.9 245.6 L404.6 245.5 L406.3 245.1 L408.0 244.6 L409.7 244.0 L411.4 243.2 L413.1 242.3 L414.8 241.5 L416.5 241.4 L418.1 242.1 L419.8 243.9 L421.5 246.8 L423.2 249.8 L424.9 251.7 L426.6 253.4 L428.3 257.4 L430.0 264.1 L431.7 268.1 L433.3 263.1 L435.0 250.5 L436.7 237.3 L438.4 228.6 L440.1 223.3 L441.8 219.3 L443.5 215.9 L445.2 213.3 L446.9 211.9 L448.5 211.3 L450.2 211.2 L451.9 211.5 L453.6 212.5 L455.3 214.5 L457.0 217.1 L458.7 220.1 L460.4 223.6 L462.1 227.7 L463.7 232.5 L465.4 237.7 L467.1 243.2 L468.8 248.7 L470.5 254.5 L472.2 260.8 L473.9 267.5 L475.6 274.9 L477.3 283.0 L479.0 291.9 L480.6 301.4 L482.3 310.6 L484.0 318.7 L485.7 325.4 L487.4 330.9 L489.1 335.5 L490.8 339.6 L492.5 343.5 L494.2 347.3 L495.8 350.9 L497.5 354.2 L499.2 357.2 L500.9 360.0 L502.6 362.6 L504.3 365.0 L506.0 367.3 L507.7 369.5 L509.4 371.5 L511.0 373.5 L512.7 375.2 L514.4 376.8 L516.1 378.2 L517.8 379.4 L519.5 380.8 L521.2 382.7 L522.9 385.5 L524.6 388.7 L526.2 391.9 L527.9 394.6 L529.6 396.6 L531.3 397.6 L533.0 398.1 L534.7 398.4 L536.4 398.6 L538.1 398.1 L539.8 396.8 L541.4 395.0 L543.1 393.2 L544.8 391.5 L546.5 390.1 L548.2 389.2 L549.9 389.1 L551.6 390.1 L553.3 392.2 L555.0 395.1 L556.6 398.7 L558.3 402.5 L560.0 406.3 L561.7 410.2 L563.4 414.6 L565.1 419.8 L566.8 425.5 L568.5 431.3 L570.2 436.8 L571.8 441.5 L573.5 445.0 L575.2 447.2 L576.9 448.4 L578.6 449.0 L580.3 449.4 L582.0 450.1 L583.7 451.3 L585.4 453.2 L587.0 455.4 L588.7 457.4 L590.4 459.0 L592.1 460.0 L593.8 460.5 L595.5 460.6 L597.2 460.4 L598.9 460.1 L600.6 459.8 L602.2 459.8 L603.9 460.2 L605.6 461.5 L607.3 463.5 L609.0 466.1 L610.7 469.0 L612.4 469.0 L701.9 469.0 L701.9 469.6 Z"/>
<path d="M28.0 474.1 L28.0 378.5 L29.7 379.2 L31.4 380.3 L33.1 381.7 L34.8 383.5 L36.5 385.6 L38.2 387.8 L39.9 390.2 L41.6 392.7 L43.3 395.2 L45.0 397.6 L46.7 400.0 L48.4 402.4 L50.1 404.7 L51.8 406.8 L53.5 408.9 L55.2 410.8 L56.9 412.2 L58.6 413.2 L60.3 413.2 L62.0 412.0 L63.7 409.2 L65.4 405.3 L67.1 400.6 L68.8 395.5 L70.5 390.4 L72.2 385.6 L73.9 381.0 L75.6 376.9 L77.3 373.2 L79.0 370.1 L80.7 367.5 L82.4 365.5 L84.1 363.9 L85.8 362.7 L87.5 361.8 L89.2 360.9 L90.9 360.0 L92.6 359.0 L94.3 358.1 L96.0 357.1 L97.7 356.1 L99.4 355.2 L101.1 354.4 L102.8 353.7 L104.5 353.0 L106.2 352.4 L107.9 351.9 L109.6 351.5 L111.3 351.2 L113.0 351.0 L114.7 351.1 L116.4 351.3 L118.1 351.6 L119.8 352.2 L121.5 352.9 L123.2 353.8 L124.9 354.9 L126.6 356.0 L128.3 357.2 L130.0 358.5 L131.7 359.6 L133.4 360.7 L135.1 361.7 L136.8 362.8 L138.5 363.8 L140.2 364.7 L141.9 365.7 L143.5 366.6 L145.2 367.5 L146.9 368.4 L148.6 369.2 L150.3 370.0 L152.0 370.6 L153.7 371.0 L155.4 371.2 L157.1 371.0 L158.8 370.5 L160.5 369.8 L162.2 368.8 L163.9 367.6 L165.6 366.2 L167.3 364.7 L169.0 363.2 L170.7 361.6 L172.4 360.1 L174.1 358.6 L175.8 357.2 L177.5 355.8 L179.2 354.6 L180.9 353.5 L182.6 352.6 L184.3 351.8 L186.0 351.1 L187.7 350.5 L189.4 349.9 L191.1 349.3 L192.8 348.7 L194.5 348.0 L196.2 347.3 L197.9 346.5 L199.6 345.5 L201.3 344.4 L203.0 343.2 L204.7 341.9 L206.4 340.4 L208.1 338.7 L209.8 336.8 L211.5 334.8 L213.2 332.6 L214.9 330.3 L216.6 327.8 L218.3 325.0 L220.0 322.1 L221.7 318.9 L223.4 315.5 L225.1 312.0 L226.8 308.1 L228.5 303.7 L230.2 298.9 L231.9 294.0 L233.6 288.8 L235.3 283.1 L237.0 276.7 L238.7 269.8 L240.4 263.0 L242.1 256.5 L243.8 250.4 L245.5 244.6 L247.2 239.2 L248.9 234.1 L250.6 229.2 L252.3 224.5 L254.0 220.1 L255.7 215.9 L257.4 211.9 L259.1 208.2 L260.8 204.7 L262.5 201.4 L264.2 198.1 L265.9 195.0 L267.6 191.9 L269.3 189.0 L271.0 186.4 L272.7 184.1 L274.4 182.3 L276.1 181.0 L277.8 180.0 L279.5 179.1 L281.2 178.3 L282.9 177.3 L284.6 176.2 L286.3 175.0 L288.0 173.5 L289.7 171.9 L291.4 170.2 L293.1 168.2 L294.8 166.2 L296.5 164.0 L298.2 161.8 L299.9 159.7 L301.6 157.5 L303.3 155.4 L305.0 153.3 L306.7 151.4 L308.4 149.4 L310.1 147.6 L311.8 145.7 L313.5 143.7 L315.2 141.7 L316.9 139.6 L318.6 137.4 L320.3 135.2 L322.0 133.0 L323.7 130.8 L325.4 128.8 L327.1 126.9 L328.8 125.1 L330.5 123.5 L332.2 122.0 L333.9 120.6 L335.6 119.3 L337.3 118.0 L339.0 117.0 L340.7 116.0 L342.4 115.0 L344.1 114.0 L345.8 112.9 L347.5 112.0 L349.2 111.5 L350.9 111.5 L352.6 112.2 L354.3 113.6 L356.0 115.8 L357.7 118.5 L359.4 121.6 L361.1 125.1 L362.8 128.9 L364.5 133.1 L366.2 137.9 L367.9 143.4 L369.6 149.5 L371.2 156.0 L372.9 162.8 L374.6 169.7 L376.3 177.0 L378.0 184.5 L379.7 192.2 L381.4 199.9 L383.1 207.4 L384.8 214.4 L386.5 221.1 L388.2 227.5 L389.9 233.7 L391.6 239.5 L393.3 244.7 L395.0 249.3 L396.7 253.0 L398.4 255.7 L400.1 257.5 L401.8 258.6 L403.5 259.0 L405.2 259.0 L406.9 258.5 L408.6 257.8 L410.3 257.0 L412.0 256.0 L413.7 254.9 L415.4 253.6 L417.1 252.4 L418.8 251.9 L420.5 252.2 L422.2 253.7 L423.9 256.2 L425.6 258.9 L427.3 260.5 L429.0 261.9 L430.7 265.7 L432.4 272.2 L434.1 276.0 L435.8 270.8 L437.5 258.0 L439.2 244.7 L440.9 235.8 L442.6 230.5 L444.3 226.4 L446.0 222.9 L447.7 220.4 L449.4 219.0 L451.1 218.5 L452.8 218.4 L454.5 218.7 L456.2 219.9 L457.9 221.9 L459.6 224.6 L461.3 227.8 L463.0 231.4 L464.7 235.7 L466.4 240.7 L468.1 246.1 L469.8 251.7 L471.5 257.5 L473.2 263.6 L474.9 270.1 L476.6 277.1 L478.3 284.8 L480.0 293.3 L481.7 302.6 L483.4 312.4 L485.1 321.9 L486.8 330.3 L488.5 337.3 L490.2 343.1 L491.9 347.9 L493.6 352.2 L495.3 356.3 L497.0 360.3 L498.7 364.1 L500.4 367.5 L502.1 370.7 L503.8 373.5 L505.5 376.2 L507.2 378.7 L508.9 381.0 L510.6 383.2 L512.3 385.3 L514.0 387.2 L515.7 388.9 L517.4 390.4 L519.1 391.7 L520.8 392.8 L522.5 394.1 L524.2 395.9 L525.9 398.6 L527.6 401.7 L529.3 404.7 L531.0 407.4 L532.7 409.2 L534.4 410.1 L536.1 410.5 L537.8 410.8 L539.5 410.9 L541.2 410.4 L542.9 409.2 L544.6 407.4 L546.3 405.6 L548.0 403.9 L549.7 402.6 L551.4 401.8 L553.1 401.8 L554.8 402.9 L556.5 405.1 L558.2 408.1 L559.9 411.8 L561.6 415.8 L563.3 419.7 L565.0 423.7 L566.7 428.2 L568.4 433.4 L570.1 438.9 L571.8 444.2 L573.5 448.9 L575.2 452.7 L576.9 455.3 L578.6 457.1 L580.3 458.3 L582.0 459.2 L583.7 460.1 L585.4 461.1 L587.1 462.5 L588.8 464.2 L590.5 466.0 L592.2 467.7 L593.9 469.1 L595.6 470.3 L597.3 471.2 L599.0 471.9 L600.6 472.4 L602.3 472.8 L604.0 473.3 L605.7 473.5 L706.0 473.5 L706.0 474.1 Z"/>
<path d="M28.0 478.6 L28.0 396.0 L29.7 396.1 L31.4 396.6 L33.1 397.5 L34.8 398.6 L36.5 399.9 L38.3 401.3 L40.0 402.8 L41.7 404.5 L43.4 406.1 L45.1 407.9 L46.8 409.8 L48.5 411.7 L50.2 413.7 L51.9 415.8 L53.6 417.9 L55.4 420.0 L57.1 422.0 L58.8 423.9 L60.5 425.1 L62.2 425.0 L63.9 423.2 L65.6 419.8 L67.3 415.1 L69.0 409.7 L70.7 404.1 L72.4 398.7 L74.2 393.7 L75.9 389.2 L77.6 385.2 L79.3 381.8 L81.0 379.0 L82.7 376.9 L84.4 375.2 L86.1 374.0 L87.8 373.0 L89.5 372.2 L91.3 371.3 L93.0 370.5 L94.7 369.6 L96.4 368.7 L98.1 367.9 L99.8 367.0 L101.5 366.3 L103.2 365.7 L104.9 365.1 L106.6 364.6 L108.3 364.2 L110.1 363.8 L111.8 363.6 L113.5 363.5 L115.2 363.6 L116.9 363.8 L118.6 364.2 L120.3 364.8 L122.0 365.6 L123.7 366.6 L125.4 367.6 L127.2 368.8 L128.9 370.0 L130.6 371.2 L132.3 372.2 L134.0 373.2 L135.7 374.1 L137.4 374.9 L139.1 375.7 L140.8 376.5 L142.5 377.3 L144.3 378.0 L146.0 378.9 L147.7 379.8 L149.4 380.8 L151.1 381.9 L152.8 382.9 L154.5 383.9 L156.2 384.7 L157.9 385.3 L159.6 385.5 L161.3 385.3 L163.1 384.7 L164.8 383.8 L166.5 382.5 L168.2 380.9 L169.9 379.3 L171.6 377.6 L173.3 375.8 L175.0 374.1 L176.7 372.5 L178.4 371.0 L180.2 369.6 L181.9 368.4 L183.6 367.4 L185.3 366.5 L187.0 365.7 L188.7 364.9 L190.4 364.3 L192.1 363.6 L193.8 362.9 L195.5 362.1 L197.2 361.3 L199.0 360.3 L200.7 359.2 L202.4 358.0 L204.1 356.6 L205.8 355.1 L207.5 353.4 L209.2 351.5 L210.9 349.4 L212.6 347.2 L214.3 344.9 L216.1 342.4 L217.8 339.7 L219.5 336.8 L221.2 333.7 L222.9 330.3 L224.6 326.8 L226.3 323.0 L228.0 318.9 L229.7 314.3 L231.4 309.2 L233.1 304.0 L234.9 298.4 L236.6 292.4 L238.3 285.6 L240.0 278.4 L241.7 271.2 L243.4 264.4 L245.1 258.0 L246.8 252.0 L248.5 246.4 L250.2 241.2 L252.0 236.2 L253.7 231.4 L255.4 227.0 L257.1 222.8 L258.8 218.9 L260.5 215.3 L262.2 211.9 L263.9 208.7 L265.6 205.6 L267.3 202.7 L269.0 199.8 L270.8 197.2 L272.5 194.9 L274.2 192.9 L275.9 191.4 L277.6 190.4 L279.3 189.7 L281.0 189.1 L282.7 188.5 L284.4 187.7 L286.1 186.7 L287.9 185.5 L289.6 184.0 L291.3 182.4 L293.0 180.4 L294.7 178.3 L296.4 176.0 L298.1 173.6 L299.8 171.1 L301.5 168.5 L303.2 166.0 L304.9 163.5 L306.7 161.0 L308.4 158.7 L310.1 156.4 L311.8 154.2 L313.5 152.1 L315.2 149.9 L316.9 147.6 L318.6 145.3 L320.3 143.0 L322.0 140.6 L323.8 138.3 L325.5 136.1 L327.2 134.0 L328.9 132.0 L330.6 130.3 L332.3 128.6 L334.0 127.2 L335.7 125.8 L337.4 124.5 L339.1 123.4 L340.8 122.4 L342.6 121.5 L344.3 120.7 L346.0 119.8 L347.7 119.0 L349.4 118.3 L351.1 117.9 L352.8 118.2 L354.5 119.2 L356.2 120.9 L357.9 123.4 L359.7 126.5 L361.4 130.0 L363.1 133.8 L364.8 138.0 L366.5 142.6 L368.2 147.8 L369.9 153.7 L371.6 160.3 L373.3 167.2 L375.0 174.4 L376.8 181.7 L378.5 189.4 L380.2 197.3 L381.9 205.4 L383.6 213.4 L385.3 221.1 L387.0 228.5 L388.7 235.4 L390.4 241.9 L392.1 248.2 L393.8 254.1 L395.6 259.5 L397.3 264.0 L399.0 267.7 L400.7 270.4 L402.4 272.1 L404.1 273.0 L405.8 273.3 L407.5 273.0 L409.2 272.2 L410.9 271.2 L412.7 270.0 L414.4 268.7 L416.1 267.2 L417.8 265.5 L419.5 264.0 L421.2 263.1 L422.9 263.0 L424.6 264.1 L426.3 266.3 L428.0 268.7 L429.7 269.9 L431.5 271.1 L433.2 274.6 L434.9 280.9 L436.6 284.5 L438.3 279.1 L440.0 266.1 L441.7 252.6 L443.4 243.6 L445.1 238.2 L446.8 234.0 L448.6 230.5 L450.3 228.0 L452.0 226.6 L453.7 226.1 L455.4 226.0 L457.1 226.4 L458.8 227.6 L460.5 229.7 L462.2 232.5 L463.9 235.8 L465.6 239.6 L467.4 244.0 L469.1 249.1 L470.8 254.8 L472.5 260.6 L474.2 266.6 L475.9 273.0 L477.6 279.7 L479.3 287.0 L481.0 295.0 L482.7 303.8 L484.5 313.4 L486.2 323.5 L487.9 333.4 L489.6 342.1 L491.3 349.3 L493.0 355.4 L494.7 360.4 L496.4 364.9 L498.1 369.3 L499.8 373.5 L501.5 377.4 L503.3 381.0 L505.0 384.2 L506.7 387.2 L508.4 389.9 L510.1 392.5 L511.8 394.9 L513.5 397.1 L515.2 399.1 L516.9 401.0 L518.6 402.6 L520.4 404.1 L522.1 405.4 L523.8 406.4 L525.5 407.5 L527.2 409.2 L528.9 411.7 L530.6 414.7 L532.3 417.7 L534.0 420.2 L535.7 422.0 L537.4 422.8 L539.2 423.1 L540.9 423.4 L542.6 423.5 L544.3 423.0 L546.0 421.7 L547.7 420.0 L549.4 418.2 L551.1 416.6 L552.8 415.3 L554.5 414.6 L556.3 414.8 L558.0 416.0 L559.7 418.2 L561.4 421.4 L563.1 425.2 L564.8 429.3 L566.5 433.3 L568.2 437.3 L569.9 441.8 L571.6 446.7 L573.3 451.5 L575.1 455.7 L576.8 459.1 L578.5 461.7 L580.2 463.5 L581.9 464.9 L583.6 466.1 L585.3 467.2 L587.0 468.4 L588.7 469.6 L590.4 470.9 L592.2 472.4 L593.9 473.9 L595.6 475.3 L597.3 476.5 L599.0 477.7 L600.7 478.0 L710.1 478.0 L710.1 478.6 Z"/>
<path d="M28.0 483.0 L28.0 409.9 L29.7 409.2 L31.4 408.8 L33.2 408.8 L34.9 409.1 L36.6 409.6 L38.3 410.3 L40.0 411.2 L41.8 412.3 L43.5 413.6 L45.2 415.1 L46.9 416.7 L48.6 418.6 L50.4 420.6 L52.1 422.7 L53.8 424.9 L55.5 427.2 L57.2 429.5 L59.0 432.0 L60.7 434.1 L62.4 435.4 L64.1 435.3 L65.8 433.4 L67.6 429.5 L69.3 424.0 L71.0 418.0 L72.7 412.2 L74.4 406.8 L76.2 401.9 L77.9 397.6 L79.6 393.9 L81.3 390.9 L83.0 388.6 L84.8 386.9 L86.5 385.7 L88.2 384.7 L89.9 383.9 L91.6 383.1 L93.4 382.3 L95.1 381.5 L96.8 380.8 L98.5 380.0 L100.2 379.3 L102.0 378.6 L103.7 378.1 L105.4 377.6 L107.1 377.2 L108.8 376.8 L110.6 376.5 L112.3 376.2 L114.0 376.1 L115.7 376.0 L117.4 376.1 L119.2 376.4 L120.9 376.8 L122.6 377.4 L124.3 378.2 L126.0 379.1 L127.8 380.0 L129.5 381.0 L131.2 381.9 L132.9 382.6 L134.6 383.3 L136.4 383.8 L138.1 384.3 L139.8 384.8 L141.5 385.3 L143.2 385.9 L145.0 386.5 L146.7 387.3 L148.4 388.1 L150.1 389.2 L151.8 390.4 L153.5 391.7 L155.3 393.2 L157.0 394.7 L158.7 396.2 L160.4 397.6 L162.1 398.6 L163.9 399.1 L165.6 399.0 L167.3 398.4 L169.0 397.1 L170.7 395.6 L172.5 393.8 L174.2 391.9 L175.9 390.0 L177.6 388.2 L179.3 386.5 L181.1 385.0 L182.8 383.6 L184.5 382.5 L186.2 381.5 L187.9 380.6 L189.7 379.8 L191.4 379.0 L193.1 378.2 L194.8 377.4 L196.5 376.6 L198.3 375.6 L200.0 374.5 L201.7 373.3 L203.4 371.9 L205.1 370.3 L206.9 368.6 L208.6 366.6 L210.3 364.6 L212.0 362.3 L213.7 359.9 L215.5 357.4 L217.2 354.7 L218.9 351.9 L220.6 348.8 L222.3 345.6 L224.1 342.1 L225.8 338.4 L227.5 334.4 L229.2 330.1 L230.9 325.3 L232.7 320.0 L234.4 314.4 L236.1 308.6 L237.8 302.2 L239.5 295.0 L241.3 287.4 L243.0 279.9 L244.7 272.8 L246.4 266.2 L248.1 260.0 L249.9 254.2 L251.6 248.8 L253.3 243.7 L255.0 238.9 L256.7 234.5 L258.5 230.3 L260.2 226.5 L261.9 223.0 L263.6 219.8 L265.3 216.8 L267.1 214.0 L268.8 211.3 L270.5 208.7 L272.2 206.4 L273.9 204.4 L275.7 202.8 L277.4 201.6 L279.1 201.0 L280.8 200.6 L282.5 200.3 L284.3 199.9 L286.0 199.4 L287.7 198.5 L289.4 197.4 L291.1 195.9 L292.9 194.1 L294.6 192.1 L296.3 189.7 L298.0 187.2 L299.7 184.4 L301.5 181.5 L303.2 178.5 L304.9 175.5 L306.6 172.6 L308.3 169.7 L310.1 167.0 L311.8 164.3 L313.5 161.7 L315.2 159.2 L316.9 156.7 L318.7 154.2 L320.4 151.7 L322.1 149.2 L323.8 146.7 L325.5 144.2 L327.3 141.9 L329.0 139.7 L330.7 137.7 L332.4 135.9 L334.1 134.3 L335.9 132.9 L337.6 131.5 L339.3 130.3 L341.0 129.3 L342.7 128.4 L344.5 127.7 L346.2 127.0 L347.9 126.3 L349.6 125.6 L351.3 125.2 L353.1 125.0 L354.8 125.6 L356.5 126.8 L358.2 128.9 L359.9 131.7 L361.7 135.1 L363.4 139.0 L365.1 143.2 L366.8 147.8 L368.5 152.8 L370.3 158.5 L372.0 164.8 L373.7 171.8 L375.4 179.1 L377.1 186.7 L378.9 194.4 L380.6 202.5 L382.3 210.7 L384.0 219.1 L385.7 227.4 L387.5 235.4 L389.2 243.0 L390.9 250.1 L392.6 256.9 L394.3 263.3 L396.1 269.3 L397.8 274.7 L399.5 279.3 L401.2 283.0 L402.9 285.6 L404.6 287.2 L406.4 288.0 L408.1 288.1 L409.8 287.6 L411.5 286.6 L413.2 285.3 L415.0 283.8 L416.7 282.1 L418.4 280.3 L420.1 278.2 L421.8 276.3 L423.6 275.0 L425.3 274.6 L427.0 275.3 L428.7 277.2 L430.4 279.1 L432.2 280.1 L433.9 281.0 L435.6 284.2 L437.3 290.3 L439.0 293.7 L440.8 288.1 L442.5 274.9 L444.2 261.1 L445.9 252.0 L447.6 246.4 L449.4 242.2 L451.1 238.7 L452.8 236.1 L454.5 234.7 L456.2 234.1 L458.0 234.1 L459.7 234.5 L461.4 235.8 L463.1 237.9 L464.8 240.8 L466.6 244.2 L468.3 248.1 L470.0 252.6 L471.7 257.9 L473.4 263.7 L475.2 269.7 L476.9 276.0 L478.6 282.6 L480.3 289.6 L482.0 297.1 L483.8 305.4 L485.5 314.5 L487.2 324.4 L488.9 334.9 L490.6 345.0 L492.4 354.0 L494.1 361.5 L495.8 367.8 L497.5 373.1 L499.2 377.8 L501.0 382.3 L502.7 386.7 L504.4 390.8 L506.1 394.5 L507.8 397.9 L509.6 401.0 L511.3 403.8 L513.0 406.4 L514.7 408.8 L516.4 411.0 L518.2 413.1 L519.9 414.9 L521.6 416.5 L523.3 417.9 L525.0 419.1 L526.8 420.0 L528.5 421.0 L530.2 422.6 L531.9 425.1 L533.6 428.0 L535.4 430.8 L537.1 433.3 L538.8 434.9 L540.5 435.7 L542.2 436.0 L544.0 436.2 L545.7 436.3 L547.4 435.7 L549.1 434.5 L550.8 432.8 L552.6 431.1 L554.3 429.5 L556.0 428.3 L557.7 427.7 L559.4 427.9 L561.2 429.2 L562.9 431.6 L564.6 434.9 L566.3 438.8 L568.0 442.9 L569.8 446.9 L571.5 450.8 L573.2 454.8 L574.9 458.9 L576.6 462.6 L578.4 465.4 L580.1 467.4 L581.8 468.9 L583.5 470.1 L585.2 471.3 L587.0 472.5 L588.7 473.7 L590.4 474.9 L592.1 476.2 L593.8 477.5 L595.6 478.9 L597.3 480.2 L599.0 481.4 L600.7 482.4 L714.2 482.4 L714.2 483.0 Z"/>
<path d="M28.0 487.5 L28.0 417.8 L29.7 416.8 L31.5 416.1 L33.2 415.8 L34.9 415.7 L36.7 416.0 L38.4 416.5 L40.1 417.3 L41.8 418.4 L43.6 419.6 L45.3 421.1 L47.0 422.8 L48.8 424.6 L50.5 426.7 L52.2 428.9 L54.0 431.2 L55.7 433.6 L57.4 436.1 L59.1 438.8 L60.9 441.3 L62.6 443.6 L64.3 445.2 L66.1 445.3 L67.8 442.9 L69.5 438.1 L71.3 432.2 L73.0 426.1 L74.7 420.3 L76.4 414.9 L78.2 410.3 L79.9 406.3 L81.6 403.2 L83.4 400.7 L85.1 399.0 L86.8 397.7 L88.6 396.7 L90.3 395.9 L92.0 395.2 L93.7 394.6 L95.5 393.9 L97.2 393.2 L98.9 392.5 L100.7 391.9 L102.4 391.4 L104.1 390.9 L105.9 390.5 L107.6 390.1 L109.3 389.7 L111.0 389.2 L112.8 388.8 L114.5 388.3 L116.2 387.9 L118.0 387.6 L119.7 387.4 L121.4 387.5 L123.2 387.7 L124.9 388.1 L126.6 388.6 L128.3 389.2 L130.1 389.8 L131.8 390.4 L133.5 390.8 L135.3 391.2 L137.0 391.4 L138.7 391.7 L140.5 392.0 L142.2 392.3 L143.9 392.7 L145.7 393.3 L147.4 393.9 L149.1 394.8 L150.8 395.8 L152.6 397.1 L154.3 398.5 L156.0 400.2 L157.8 402.0 L159.5 404.0 L161.2 406.1 L163.0 408.3 L164.7 410.2 L166.4 411.7 L168.1 412.4 L169.9 412.4 L171.6 411.5 L173.3 410.1 L175.1 408.2 L176.8 406.3 L178.5 404.3 L180.3 402.4 L182.0 400.7 L183.7 399.2 L185.4 397.9 L187.2 396.8 L188.9 395.8 L190.6 394.9 L192.4 394.1 L194.1 393.2 L195.8 392.3 L197.6 391.4 L199.3 390.3 L201.0 389.0 L202.7 387.6 L204.5 386.0 L206.2 384.3 L207.9 382.3 L209.7 380.2 L211.4 377.9 L213.1 375.5 L214.9 372.9 L216.6 370.2 L218.3 367.3 L220.0 364.3 L221.8 361.2 L223.5 357.7 L225.2 354.1 L227.0 350.2 L228.7 346.2 L230.4 341.7 L232.2 336.6 L233.9 331.1 L235.6 325.3 L237.4 319.1 L239.1 312.4 L240.8 305.0 L242.5 297.0 L244.3 289.2 L246.0 281.8 L247.7 274.9 L249.5 268.5 L251.2 262.5 L252.9 257.0 L254.7 251.8 L256.4 247.0 L258.1 242.6 L259.8 238.5 L261.6 234.8 L263.3 231.5 L265.0 228.5 L266.8 225.7 L268.5 223.2 L270.2 220.8 L272.0 218.6 L273.7 216.6 L275.4 215.0 L277.1 213.8 L278.9 213.1 L280.6 212.8 L282.3 212.8 L284.1 212.9 L285.8 212.8 L287.5 212.5 L289.3 211.8 L291.0 210.7 L292.7 209.2 L294.4 207.4 L296.2 205.2 L297.9 202.6 L299.6 199.7 L301.4 196.5 L303.1 193.2 L304.8 189.8 L306.6 186.3 L308.3 182.9 L310.0 179.5 L311.7 176.3 L313.5 173.1 L315.2 170.1 L316.9 167.2 L318.7 164.4 L320.4 161.6 L322.1 158.8 L323.9 156.1 L325.6 153.4 L327.3 150.8 L329.0 148.4 L330.8 146.1 L332.5 144.1 L334.2 142.2 L336.0 140.6 L337.7 139.2 L339.4 137.9 L341.2 136.8 L342.9 135.8 L344.6 135.1 L346.4 134.5 L348.1 133.9 L349.8 133.4 L351.5 133.0 L353.3 132.7 L355.0 132.8 L356.7 133.6 L358.5 135.2 L360.2 137.6 L361.9 140.7 L363.7 144.5 L365.4 148.8 L367.1 153.4 L368.8 158.4 L370.6 163.8 L372.3 169.8 L374.0 176.6 L375.8 183.9 L377.5 191.7 L379.2 199.6 L381.0 207.8 L382.7 216.2 L384.4 224.8 L386.1 233.5 L387.9 242.1 L389.6 250.4 L391.3 258.2 L393.1 265.4 L394.8 272.3 L396.5 278.8 L398.3 284.9 L400.0 290.3 L401.7 294.9 L403.4 298.6 L405.2 301.2 L406.9 302.8 L408.6 303.6 L410.4 303.5 L412.1 302.8 L413.8 301.6 L415.6 300.0 L417.3 298.2 L419.0 296.2 L420.7 294.0 L422.5 291.6 L424.2 289.4 L425.9 287.7 L427.7 286.9 L429.4 287.2 L431.1 288.8 L432.9 290.4 L434.6 291.0 L436.3 291.6 L438.0 294.6 L439.8 300.4 L441.5 303.6 L443.2 297.8 L445.0 284.3 L446.7 270.3 L448.4 261.0 L450.2 255.3 L451.9 251.0 L453.6 247.3 L455.4 244.7 L457.1 243.2 L458.8 242.7 L460.5 242.6 L462.3 243.1 L464.0 244.3 L465.7 246.5 L467.5 249.5 L469.2 252.9 L470.9 256.9 L472.7 261.6 L474.4 267.0 L476.1 272.9 L477.8 279.2 L479.6 285.6 L481.3 292.4 L483.0 299.7 L484.8 307.5 L486.5 316.1 L488.2 325.4 L490.0 335.6 L491.7 346.4 L493.4 356.8 L495.1 366.1 L496.9 373.9 L498.6 380.4 L500.3 385.9 L502.1 390.9 L503.8 395.6 L505.5 400.1 L507.3 404.4 L509.0 408.2 L510.7 411.7 L512.4 414.8 L514.2 417.7 L515.9 420.4 L517.6 422.9 L519.4 425.1 L521.1 427.1 L522.8 428.9 L524.6 430.5 L526.3 431.9 L528.0 433.0 L529.7 433.8 L531.5 434.7 L533.2 436.2 L534.9 438.6 L536.7 441.3 L538.4 444.1 L540.1 446.5 L541.9 448.0 L543.6 448.7 L545.3 448.9 L547.0 449.1 L548.8 449.2 L550.5 448.7 L552.2 447.4 L554.0 445.8 L555.7 444.1 L557.4 442.6 L559.2 441.5 L560.9 440.9 L562.6 441.3 L564.4 442.7 L566.1 445.2 L567.8 448.5 L569.5 452.4 L571.3 456.4 L573.0 460.2 L574.7 463.6 L576.5 466.6 L578.2 469.3 L579.9 471.4 L581.7 473.0 L583.4 474.1 L585.1 475.0 L586.8 476.0 L588.6 477.1 L590.3 478.3 L592.0 479.5 L593.8 480.8 L595.5 482.1 L597.2 483.3 L599.0 484.6 L600.7 485.8 L602.4 486.9 L718.3 486.9 L718.3 487.5 Z"/>
<path d="M28.0 491.9 L28.0 423.3 L29.7 422.3 L31.5 421.6 L33.2 421.3 L35.0 421.2 L36.7 421.5 L38.4 422.1 L40.2 422.9 L41.9 424.0 L43.7 425.3 L45.4 426.9 L47.1 428.6 L48.9 430.5 L50.6 432.6 L52.4 434.9 L54.1 437.3 L55.8 439.8 L57.6 442.5 L59.3 445.1 L61.1 447.9 L62.8 450.7 L64.5 453.4 L66.3 455.0 L68.0 454.3 L69.8 451.2 L71.5 446.3 L73.3 440.3 L75.0 434.1 L76.7 428.3 L78.5 423.3 L80.2 419.1 L82.0 415.8 L83.7 413.2 L85.4 411.4 L87.2 410.1 L88.9 409.1 L90.7 408.4 L92.4 407.8 L94.1 407.2 L95.9 406.6 L97.6 406.0 L99.4 405.5 L101.1 404.9 L102.8 404.5 L104.6 404.1 L106.3 403.7 L108.1 403.2 L109.8 402.6 L111.5 401.8 L113.3 400.7 L115.0 399.6 L116.8 398.5 L118.5 397.6 L120.2 396.8 L122.0 396.4 L123.7 396.2 L125.5 396.2 L127.2 396.4 L128.9 396.8 L130.7 397.1 L132.4 397.5 L134.2 397.7 L135.9 397.9 L137.6 398.0 L139.4 398.2 L141.1 398.4 L142.9 398.6 L144.6 399.0 L146.4 399.4 L148.1 400.0 L149.8 400.9 L151.6 401.9 L153.3 403.1 L155.1 404.6 L156.8 406.3 L158.5 408.2 L160.3 410.4 L162.0 412.8 L163.8 415.4 L165.5 418.1 L167.2 420.7 L169.0 423.2 L170.7 424.9 L172.5 425.7 L174.2 425.4 L175.9 424.3 L177.7 422.6 L179.4 420.6 L181.2 418.6 L182.9 416.8 L184.6 415.1 L186.4 413.7 L188.1 412.5 L189.9 411.4 L191.6 410.4 L193.3 409.5 L195.1 408.5 L196.8 407.5 L198.6 406.5 L200.3 405.2 L202.0 403.9 L203.8 402.3 L205.5 400.5 L207.3 398.5 L209.0 396.3 L210.7 394.0 L212.5 391.5 L214.2 388.9 L216.0 386.1 L217.7 383.2 L219.5 380.2 L221.2 377.0 L222.9 373.7 L224.7 370.2 L226.4 366.4 L228.2 362.4 L229.9 358.2 L231.6 353.6 L233.4 348.3 L235.1 342.6 L236.9 336.5 L238.6 330.2 L240.3 323.2 L242.1 315.4 L243.8 307.1 L245.6 299.0 L247.3 291.3 L249.0 284.2 L250.8 277.5 L252.5 271.4 L254.3 265.8 L256.0 260.6 L257.7 255.8 L259.5 251.4 L261.2 247.5 L263.0 243.9 L264.7 240.8 L266.4 238.0 L268.2 235.5 L269.9 233.3 L271.7 231.3 L273.4 229.5 L275.1 227.9 L276.9 226.8 L278.6 226.0 L280.4 225.8 L282.1 226.0 L283.8 226.4 L285.6 226.9 L287.3 227.2 L289.1 227.2 L290.8 226.6 L292.6 225.6 L294.3 224.2 L296.0 222.2 L297.8 219.8 L299.5 216.9 L301.3 213.7 L303.0 210.2 L304.7 206.4 L306.5 202.4 L308.2 198.4 L310.0 194.4 L311.7 190.5 L313.4 186.7 L315.2 183.0 L316.9 179.6 L318.7 176.2 L320.4 173.0 L322.1 169.9 L323.9 166.8 L325.6 163.8 L327.4 160.9 L329.1 158.2 L330.8 155.6 L332.6 153.2 L334.3 151.1 L336.1 149.3 L337.8 147.6 L339.5 146.2 L341.3 145.0 L343.0 143.9 L344.8 143.0 L346.5 142.4 L348.2 142.0 L350.0 141.6 L351.7 141.2 L353.5 141.0 L355.2 141.0 L356.9 141.4 L358.7 142.4 L360.4 144.3 L362.2 147.0 L363.9 150.5 L365.7 154.7 L367.4 159.3 L369.1 164.3 L370.9 169.6 L372.6 175.5 L374.4 181.9 L376.1 189.0 L377.8 196.8 L379.6 205.0 L381.3 213.3 L383.1 221.8 L384.8 230.5 L386.5 239.4 L388.3 248.4 L390.0 257.3 L391.8 265.8 L393.5 273.7 L395.2 281.1 L397.0 288.0 L398.7 294.4 L400.5 300.3 L402.2 305.6 L403.9 310.2 L405.7 313.9 L407.4 316.7 L409.2 318.5 L410.9 319.4 L412.6 319.4 L414.4 318.6 L416.1 317.2 L417.9 315.4 L419.6 313.3 L421.3 311.0 L423.1 308.5 L424.8 305.7 L426.6 303.1 L428.3 301.1 L430.0 299.9 L431.8 299.9 L433.5 301.1 L435.3 302.4 L437.0 302.7 L438.8 303.0 L440.5 305.6 L442.2 311.3 L444.0 314.2 L445.7 308.2 L447.5 294.4 L449.2 280.2 L450.9 270.7 L452.7 264.8 L454.4 260.3 L456.2 256.6 L457.9 253.8 L459.6 252.3 L461.4 251.7 L463.1 251.6 L464.9 252.1 L466.6 253.3 L468.3 255.6 L470.1 258.5 L471.8 262.1 L473.6 266.1 L475.3 270.9 L477.0 276.4 L478.8 282.5 L480.5 288.9 L482.3 295.5 L484.0 302.5 L485.7 310.0 L487.5 318.1 L489.2 326.9 L491.0 336.6 L492.7 347.0 L494.4 358.1 L496.2 368.8 L497.9 378.4 L499.7 386.4 L501.4 393.2 L503.1 398.9 L504.9 404.0 L506.6 408.9 L508.4 413.6 L510.1 418.0 L511.9 422.0 L513.6 425.6 L515.3 428.9 L517.1 431.8 L518.8 434.5 L520.6 437.0 L522.3 439.3 L524.0 441.3 L525.8 443.1 L527.5 444.6 L529.3 445.9 L531.0 447.0 L532.7 447.7 L534.5 448.5 L536.2 449.9 L538.0 452.2 L539.7 454.9 L541.4 457.5 L543.2 459.8 L544.9 461.3 L546.7 461.9 L548.4 462.1 L550.1 462.3 L551.9 462.3 L553.6 461.8 L555.4 460.6 L557.1 459.0 L558.8 457.3 L560.6 455.9 L562.3 454.8 L564.1 454.4 L565.8 454.8 L567.5 456.3 L569.3 458.8 L571.0 462.1 L572.8 465.8 L574.5 469.4 L576.2 472.3 L578.0 474.6 L579.7 476.3 L581.5 477.6 L583.2 478.6 L584.9 479.3 L586.7 480.0 L588.4 480.8 L590.2 481.7 L591.9 482.7 L593.7 483.9 L595.4 485.1 L597.1 486.3 L598.9 487.6 L600.6 488.9 L602.4 490.2 L604.1 491.3 L722.4 491.3 L722.4 491.9 Z"/>
<path d="M28.0 496.4 L28.0 428.3 L29.8 427.4 L31.5 426.8 L33.3 426.5 L35.0 426.5 L36.8 426.9 L38.5 427.5 L40.3 428.4 L42.0 429.6 L43.8 431.0 L45.5 432.6 L47.3 434.4 L49.0 436.4 L50.8 438.6 L52.5 440.9 L54.3 443.4 L56.0 446.0 L57.8 448.7 L59.5 451.5 L61.3 454.3 L63.0 457.3 L64.8 460.4 L66.5 462.8 L68.3 463.9 L70.0 463.0 L71.8 459.8 L73.5 454.5 L75.3 448.1 L77.0 442.0 L78.8 436.7 L80.5 432.3 L82.3 428.8 L84.0 426.1 L85.8 424.2 L87.5 422.8 L89.3 421.9 L91.0 421.2 L92.8 420.7 L94.5 420.2 L96.3 419.7 L98.0 419.2 L99.8 418.8 L101.5 418.3 L103.3 417.9 L105.0 417.5 L106.8 417.0 L108.5 416.2 L110.3 415.0 L112.0 413.4 L113.8 411.5 L115.5 409.5 L117.3 407.6 L119.0 406.0 L120.8 404.8 L122.5 404.0 L124.3 403.5 L126.0 403.3 L127.8 403.3 L129.5 403.5 L131.3 403.7 L133.0 404.0 L134.8 404.1 L136.5 404.2 L138.3 404.3 L140.0 404.4 L141.8 404.5 L143.6 404.7 L145.3 405.0 L147.1 405.4 L148.8 406.0 L150.6 406.8 L152.3 407.8 L154.1 409.0 L155.8 410.5 L157.6 412.2 L159.3 414.1 L161.1 416.3 L162.8 418.7 L164.6 421.5 L166.3 424.4 L168.1 427.6 L169.8 430.9 L171.6 434.0 L173.3 436.6 L175.1 438.3 L176.8 438.9 L178.6 438.3 L180.3 436.8 L182.1 435.0 L183.8 433.1 L185.6 431.4 L187.3 429.8 L189.1 428.5 L190.8 427.3 L192.6 426.2 L194.3 425.2 L196.1 424.2 L197.8 423.1 L199.6 421.9 L201.3 420.5 L203.1 419.0 L204.8 417.2 L206.6 415.2 L208.3 413.0 L210.1 410.6 L211.8 408.1 L213.6 405.3 L215.3 402.5 L217.1 399.5 L218.8 396.4 L220.6 393.3 L222.3 390.0 L224.1 386.5 L225.8 382.8 L227.6 378.9 L229.3 374.8 L231.1 370.5 L232.8 365.7 L234.6 360.4 L236.3 354.5 L238.1 348.2 L239.8 341.6 L241.6 334.4 L243.3 326.3 L245.1 317.8 L246.8 309.4 L248.6 301.4 L250.3 294.0 L252.1 287.2 L253.8 281.0 L255.6 275.2 L257.4 270.0 L259.1 265.3 L260.9 261.0 L262.6 257.2 L264.4 253.8 L266.1 251.0 L267.9 248.5 L269.6 246.3 L271.4 244.5 L273.1 242.9 L274.9 241.5 L276.6 240.5 L278.4 239.8 L280.1 239.6 L281.9 239.9 L283.6 240.6 L285.4 241.6 L287.1 242.5 L288.9 243.2 L290.6 243.5 L292.4 243.2 L294.1 242.3 L295.9 240.8 L297.6 238.7 L299.4 236.1 L301.1 233.0 L302.9 229.4 L304.6 225.4 L306.4 221.1 L308.1 216.5 L309.9 211.9 L311.6 207.3 L313.4 202.7 L315.1 198.3 L316.9 194.1 L318.6 190.1 L320.4 186.3 L322.1 182.6 L323.9 179.1 L325.6 175.7 L327.4 172.4 L329.1 169.3 L330.9 166.3 L332.6 163.6 L334.4 161.1 L336.1 158.9 L337.9 157.0 L339.6 155.4 L341.4 154.0 L343.1 152.8 L344.9 151.8 L346.6 151.0 L348.4 150.5 L350.1 150.2 L351.9 150.0 L353.6 149.8 L355.4 149.8 L357.1 150.0 L358.9 150.7 L360.6 152.0 L362.4 154.2 L364.1 157.2 L365.9 161.0 L367.6 165.6 L369.4 170.6 L371.2 175.9 L372.9 181.7 L374.7 187.9 L376.4 194.7 L378.2 202.3 L379.9 210.4 L381.7 218.9 L383.4 227.6 L385.2 236.4 L386.9 245.4 L388.7 254.7 L390.4 263.9 L392.2 272.9 L393.9 281.5 L395.7 289.4 L397.4 296.5 L399.2 303.0 L400.9 309.0 L402.7 314.3 L404.4 319.2 L406.2 323.5 L407.9 327.4 L409.7 330.7 L411.4 333.3 L413.2 334.8 L414.9 335.3 L416.7 334.8 L418.4 333.4 L420.2 331.4 L421.9 329.1 L423.7 326.5 L425.4 323.7 L427.2 320.6 L428.9 317.6 L430.7 315.2 L432.4 313.7 L434.2 313.4 L435.9 314.2 L437.7 315.2 L439.4 315.2 L441.2 315.1 L442.9 317.5 L444.7 322.9 L446.4 325.6 L448.2 319.3 L449.9 305.2 L451.7 290.7 L453.4 281.0 L455.2 274.9 L456.9 270.3 L458.7 266.4 L460.4 263.6 L462.2 261.9 L463.9 261.3 L465.7 261.1 L467.4 261.5 L469.2 262.7 L470.9 265.0 L472.7 268.0 L474.4 271.5 L476.2 275.6 L477.9 280.4 L479.7 286.1 L481.4 292.3 L483.2 298.8 L485.0 305.6 L486.7 312.8 L488.5 320.5 L490.2 328.9 L492.0 338.0 L493.7 347.9 L495.5 358.6 L497.2 370.0 L499.0 381.0 L500.7 390.8 L502.5 399.1 L504.2 406.1 L506.0 412.0 L507.7 417.3 L509.5 422.4 L511.2 427.3 L513.0 431.8 L514.7 435.9 L516.5 439.6 L518.2 443.0 L520.0 446.0 L521.7 448.8 L523.5 451.3 L525.2 453.5 L527.0 455.6 L528.7 457.3 L530.5 458.9 L532.2 460.1 L534.0 461.1 L535.7 461.7 L537.5 462.4 L539.2 463.8 L541.0 465.9 L542.7 468.5 L544.5 471.1 L546.2 473.3 L548.0 474.7 L549.7 475.3 L551.5 475.4 L553.2 475.5 L555.0 475.6 L556.7 475.0 L558.5 473.8 L560.2 472.3 L562.0 470.7 L563.7 469.3 L565.5 468.3 L567.2 467.9 L569.0 468.4 L570.7 469.9 L572.5 472.4 L574.2 475.3 L576.0 478.3 L577.7 480.9 L579.5 482.6 L581.2 483.5 L583.0 484.1 L584.7 484.4 L586.5 484.8 L588.2 485.2 L590.0 485.7 L591.7 486.4 L593.5 487.2 L595.2 488.2 L597.0 489.4 L598.8 490.6 L600.5 491.9 L602.3 493.1 L604.0 494.4 L605.8 495.6 L607.5 495.8 L726.6 495.8 L726.6 496.4 Z"/>
<path d="M28.0 500.8 L28.0 433.3 L29.8 432.4 L31.5 431.9 L33.3 431.7 L35.0 431.8 L36.8 432.2 L38.6 432.9 L40.3 433.9 L42.1 435.2 L43.8 436.6 L45.6 438.3 L47.4 440.2 L49.1 442.3 L50.9 444.5 L52.7 447.0 L54.4 449.5 L56.2 452.2 L57.9 455.0 L59.7 457.8 L61.5 460.8 L63.2 463.8 L65.0 466.9 L66.7 469.7 L68.5 472.1 L70.3 473.2 L72.0 472.0 L73.8 467.9 L75.5 462.0 L77.3 456.0 L79.1 450.5 L80.8 445.8 L82.6 442.1 L84.4 439.3 L86.1 437.3 L87.9 435.9 L89.6 435.0 L91.4 434.4 L93.2 433.9 L94.9 433.6 L96.7 433.2 L98.4 432.8 L100.2 432.4 L102.0 432.0 L103.7 431.6 L105.5 431.0 L107.2 430.0 L109.0 428.5 L110.8 426.4 L112.5 423.7 L114.3 420.7 L116.1 417.9 L117.8 415.4 L119.6 413.4 L121.3 411.9 L123.1 410.9 L124.9 410.2 L126.6 409.9 L128.4 409.8 L130.1 409.9 L131.9 410.1 L133.7 410.3 L135.4 410.3 L137.2 410.4 L138.9 410.4 L140.7 410.5 L142.5 410.6 L144.2 410.7 L146.0 411.0 L147.8 411.4 L149.5 411.9 L151.3 412.7 L153.0 413.7 L154.8 414.9 L156.6 416.3 L158.3 418.0 L160.1 419.9 L161.8 422.1 L163.6 424.6 L165.4 427.3 L167.1 430.3 L168.9 433.6 L170.6 437.1 L172.4 440.8 L174.2 444.5 L175.9 447.9 L177.7 450.4 L179.5 451.7 L181.2 451.9 L183.0 451.0 L184.7 449.5 L186.5 447.8 L188.3 446.2 L190.0 444.8 L191.8 443.5 L193.5 442.4 L195.3 441.2 L197.1 440.1 L198.8 438.9 L200.6 437.6 L202.3 436.1 L204.1 434.4 L205.9 432.4 L207.6 430.2 L209.4 427.8 L211.2 425.2 L212.9 422.4 L214.7 419.4 L216.4 416.3 L218.2 413.2 L220.0 409.9 L221.7 406.5 L223.5 403.0 L225.2 399.4 L227.0 395.6 L228.8 391.5 L230.5 387.3 L232.3 382.9 L234.0 378.0 L235.8 372.6 L237.6 366.7 L239.3 360.3 L241.1 353.5 L242.9 346.1 L244.6 337.7 L246.4 329.0 L248.1 320.3 L249.9 312.1 L251.7 304.5 L253.4 297.5 L255.2 291.2 L256.9 285.4 L258.7 280.2 L260.5 275.5 L262.2 271.4 L264.0 267.7 L265.7 264.6 L267.5 262.0 L269.3 259.9 L271.0 258.1 L272.8 256.7 L274.6 255.6 L276.3 254.8 L278.1 254.3 L279.8 254.2 L281.6 254.6 L283.4 255.5 L285.1 256.8 L286.9 258.4 L288.6 259.8 L290.4 260.9 L292.2 261.5 L293.9 261.5 L295.7 260.7 L297.4 259.2 L299.2 257.0 L301.0 254.2 L302.7 250.8 L304.5 246.8 L306.2 242.3 L308.0 237.4 L309.8 232.2 L311.5 226.9 L313.3 221.6 L315.1 216.4 L316.8 211.3 L318.6 206.4 L320.3 201.8 L322.1 197.4 L323.9 193.3 L325.6 189.3 L327.4 185.5 L329.1 181.9 L330.9 178.5 L332.7 175.4 L334.4 172.5 L336.2 169.9 L337.9 167.6 L339.7 165.6 L341.5 164.0 L343.2 162.6 L345.0 161.4 L346.8 160.4 L348.5 159.8 L350.3 159.4 L352.0 159.2 L353.8 159.2 L355.6 159.2 L357.3 159.4 L359.1 159.9 L360.8 160.8 L362.6 162.4 L364.4 164.9 L366.1 168.2 L367.9 172.4 L369.6 177.3 L371.4 182.6 L373.2 188.4 L374.9 194.5 L376.7 201.1 L378.5 208.3 L380.2 216.2 L382.0 224.7 L383.7 233.6 L385.5 242.6 L387.3 251.7 L389.0 261.0 L390.8 270.4 L392.5 279.6 L394.3 288.5 L396.1 296.7 L397.8 303.9 L399.6 310.2 L401.3 315.6 L403.1 320.4 L404.9 324.8 L406.6 329.0 L408.4 333.0 L410.2 337.1 L411.9 341.1 L413.7 344.9 L415.4 348.0 L417.2 350.1 L419.0 350.8 L420.7 349.9 L422.5 348.0 L424.2 345.5 L426.0 342.7 L427.8 339.6 L429.5 336.2 L431.3 332.9 L433.0 330.2 L434.8 328.3 L436.6 327.7 L438.3 328.2 L440.1 328.8 L441.9 328.5 L443.6 328.1 L445.4 330.2 L447.1 335.3 L448.9 337.8 L450.7 331.1 L452.4 316.7 L454.2 301.9 L455.9 292.0 L457.7 285.7 L459.5 280.9 L461.2 276.8 L463.0 273.8 L464.7 272.1 L466.5 271.3 L468.3 271.1 L470.0 271.4 L471.8 272.6 L473.6 274.8 L475.3 277.8 L477.1 281.3 L478.8 285.5 L480.6 290.4 L482.4 296.1 L484.1 302.4 L485.9 309.0 L487.6 316.0 L489.4 323.4 L491.2 331.3 L492.9 339.9 L494.7 349.2 L496.4 359.4 L498.2 370.4 L500.0 382.0 L501.7 393.3 L503.5 403.4 L505.3 411.9 L507.0 419.1 L508.8 425.3 L510.5 430.8 L512.3 436.0 L514.1 441.1 L515.8 445.8 L517.6 450.0 L519.3 453.8 L521.1 457.2 L522.9 460.3 L524.6 463.1 L526.4 465.7 L528.1 467.9 L529.9 470.0 L531.7 471.7 L533.4 473.2 L535.2 474.4 L537.0 475.3 L538.7 475.9 L540.5 476.5 L542.2 477.7 L544.0 479.8 L545.8 482.3 L547.5 484.8 L549.3 487.0 L551.0 488.3 L552.8 488.8 L554.6 488.8 L556.3 488.9 L558.1 488.9 L559.8 488.4 L561.6 487.2 L563.4 485.6 L565.1 484.1 L566.9 482.7 L568.6 481.8 L570.4 481.4 L572.2 481.8 L573.9 483.2 L575.7 485.2 L577.5 487.4 L579.2 489.1 L581.0 490.3 L582.7 490.8 L584.5 490.8 L586.3 490.6 L588.0 490.5 L589.8 490.6 L591.5 490.8 L593.3 491.3 L595.1 491.9 L596.8 492.8 L598.6 493.8 L600.3 494.9 L602.1 496.1 L603.9 497.4 L605.6 498.6 L607.4 499.9 L609.2 500.2 L730.7 500.2 L730.7 500.8 Z"/>
<path d="M28.0 505.3 L28.0 438.4 L29.8 437.5 L31.5 437.1 L33.3 436.9 L35.1 437.1 L36.9 437.6 L38.6 438.4 L40.4 439.4 L42.2 440.7 L43.9 442.3 L45.7 444.1 L47.5 446.0 L49.3 448.2 L51.0 450.5 L52.8 453.0 L54.6 455.6 L56.3 458.4 L58.1 461.3 L59.9 464.2 L61.7 467.2 L63.4 470.3 L65.2 473.4 L67.0 476.4 L68.7 479.4 L70.5 481.8 L72.3 482.2 L74.1 479.9 L75.8 475.5 L77.6 470.1 L79.4 464.5 L81.1 459.5 L82.9 455.6 L84.7 452.8 L86.5 450.8 L88.2 449.4 L90.0 448.5 L91.8 447.9 L93.5 447.6 L95.3 447.3 L97.1 447.0 L98.9 446.7 L100.6 446.3 L102.4 445.8 L104.2 445.1 L105.9 444.0 L107.7 442.2 L109.5 439.5 L111.3 436.2 L113.0 432.5 L114.8 428.7 L116.6 425.3 L118.3 422.5 L120.1 420.2 L121.9 418.6 L123.7 417.5 L125.4 416.7 L127.2 416.3 L129.0 416.2 L130.7 416.3 L132.5 416.4 L134.3 416.5 L136.1 416.6 L137.8 416.6 L139.6 416.6 L141.4 416.6 L143.1 416.6 L144.9 416.8 L146.7 417.0 L148.5 417.4 L150.2 417.9 L152.0 418.6 L153.8 419.6 L155.5 420.7 L157.3 422.1 L159.1 423.8 L160.9 425.7 L162.6 427.9 L164.4 430.3 L166.2 433.1 L167.9 436.1 L169.7 439.4 L171.5 443.0 L173.3 446.8 L175.0 450.8 L176.8 454.9 L178.6 458.7 L180.3 462.0 L182.1 464.3 L183.9 465.2 L185.7 464.9 L187.4 463.9 L189.2 462.7 L191.0 461.3 L192.7 460.0 L194.5 458.8 L196.3 457.6 L198.1 456.3 L199.8 455.0 L201.6 453.6 L203.4 451.9 L205.1 450.1 L206.9 447.9 L208.7 445.5 L210.5 442.8 L212.2 439.9 L214.0 436.9 L215.8 433.7 L217.5 430.4 L219.3 426.9 L221.1 423.4 L222.9 419.8 L224.6 416.1 L226.4 412.2 L228.2 408.1 L229.9 403.9 L231.7 399.5 L233.5 395.0 L235.3 390.1 L237.0 384.8 L238.8 378.9 L240.6 372.6 L242.3 365.8 L244.1 358.2 L245.9 349.7 L247.7 340.7 L249.4 331.8 L251.2 323.4 L253.0 315.6 L254.7 308.5 L256.5 302.0 L258.3 296.2 L260.1 291.0 L261.8 286.5 L263.6 282.5 L265.4 279.1 L267.1 276.3 L268.9 274.0 L270.7 272.3 L272.5 271.0 L274.2 270.1 L276.0 269.6 L277.8 269.4 L279.5 269.5 L281.3 270.1 L283.1 271.2 L284.8 272.7 L286.6 274.7 L288.4 276.9 L290.2 278.9 L291.9 280.5 L293.7 281.5 L295.5 281.7 L297.2 281.0 L299.0 279.6 L300.8 277.3 L302.6 274.2 L304.3 270.4 L306.1 266.0 L307.9 261.0 L309.6 255.5 L311.4 249.6 L313.2 243.6 L315.0 237.5 L316.7 231.5 L318.5 225.7 L320.3 220.1 L322.0 214.8 L323.8 209.8 L325.6 205.1 L327.4 200.6 L329.1 196.4 L330.9 192.5 L332.7 188.8 L334.4 185.4 L336.2 182.3 L338.0 179.6 L339.8 177.2 L341.5 175.1 L343.3 173.4 L345.1 172.0 L346.8 170.9 L348.6 170.0 L350.4 169.4 L352.2 169.2 L353.9 169.1 L355.7 169.3 L357.5 169.5 L359.2 169.9 L361.0 170.6 L362.8 171.8 L364.6 173.7 L366.3 176.4 L368.1 180.1 L369.9 184.6 L371.6 189.8 L373.4 195.5 L375.2 201.6 L377.0 208.1 L378.7 215.1 L380.5 222.6 L382.3 230.9 L384.0 239.7 L385.8 248.9 L387.6 258.1 L389.4 267.4 L391.1 276.8 L392.9 286.1 L394.7 294.9 L396.4 302.8 L398.2 309.7 L400.0 315.4 L401.8 320.1 L403.5 324.1 L405.3 328.0 L407.1 331.7 L408.8 335.4 L410.6 339.3 L412.4 343.5 L414.2 347.9 L415.9 352.6 L417.7 357.4 L419.5 361.7 L421.2 364.7 L423.0 365.6 L424.8 364.7 L426.6 362.5 L428.3 359.6 L430.1 356.2 L431.9 352.5 L433.6 348.9 L435.4 345.9 L437.2 343.7 L439.0 342.7 L440.7 342.9 L442.5 343.3 L444.3 342.6 L446.0 341.9 L447.8 343.7 L449.6 348.6 L451.4 350.7 L453.1 343.8 L454.9 329.1 L456.7 313.9 L458.4 303.7 L460.2 297.2 L462.0 292.1 L463.8 287.9 L465.5 284.7 L467.3 282.8 L469.1 281.9 L470.8 281.5 L472.6 281.8 L474.4 282.9 L476.2 285.0 L477.9 288.0 L479.7 291.5 L481.5 295.7 L483.2 300.6 L485.0 306.3 L486.8 312.7 L488.6 319.5 L490.3 326.7 L492.1 334.2 L493.9 342.3 L495.6 351.1 L497.4 360.7 L499.2 371.1 L501.0 382.4 L502.7 394.3 L504.5 405.8 L506.3 416.1 L508.0 424.9 L509.8 432.3 L511.6 438.7 L513.4 444.3 L515.1 449.8 L516.9 455.0 L518.7 459.8 L520.4 464.1 L522.2 468.0 L524.0 471.6 L525.8 474.7 L527.5 477.6 L529.3 480.2 L531.1 482.4 L532.8 484.5 L534.6 486.2 L536.4 487.6 L538.2 488.8 L539.9 489.6 L541.7 490.2 L543.5 490.7 L545.2 491.8 L547.0 493.8 L548.8 496.3 L550.6 498.7 L552.3 500.7 L554.1 502.0 L555.9 502.4 L557.6 502.4 L559.4 502.4 L561.2 502.3 L563.0 501.7 L564.7 500.5 L566.5 498.9 L568.3 497.3 L570.0 495.9 L571.8 494.9 L573.6 494.5 L575.4 494.6 L577.1 495.5 L578.9 496.7 L580.7 497.7 L582.4 498.1 L584.2 498.0 L586.0 497.6 L587.8 497.0 L589.5 496.5 L591.3 496.3 L593.1 496.2 L594.8 496.4 L596.6 496.8 L598.4 497.5 L600.2 498.3 L601.9 499.3 L603.7 500.4 L605.5 501.6 L607.2 502.9 L609.0 504.1 L610.8 504.7 L734.8 504.7 L734.8 505.3 Z"/>
<path d="M28.0 509.7 L28.0 443.4 L29.8 442.6 L31.6 442.2 L33.3 442.2 L35.1 442.4 L36.9 443.0 L38.7 443.8 L40.5 445.0 L42.3 446.4 L44.0 448.0 L45.8 449.8 L47.6 451.9 L49.4 454.1 L51.2 456.5 L52.9 459.1 L54.7 461.8 L56.5 464.6 L58.3 467.6 L60.1 470.6 L61.9 473.7 L63.6 476.8 L65.4 479.9 L67.2 483.1 L69.0 486.3 L70.8 489.2 L72.5 490.8 L74.3 490.5 L76.1 488.1 L77.9 483.9 L79.7 478.6 L81.5 473.5 L83.2 469.5 L85.0 466.6 L86.8 464.5 L88.6 463.2 L90.4 462.3 L92.1 461.8 L93.9 461.5 L95.7 461.2 L97.5 461.0 L99.3 460.7 L101.0 460.2 L102.8 459.4 L104.6 458.0 L106.4 455.9 L108.2 452.9 L110.0 449.0 L111.7 444.6 L113.5 440.1 L115.3 435.9 L117.1 432.2 L118.9 429.2 L120.6 426.9 L122.4 425.1 L124.2 423.9 L126.0 423.2 L127.8 422.7 L129.6 422.6 L131.3 422.6 L133.1 422.7 L134.9 422.7 L136.7 422.8 L138.5 422.8 L140.2 422.7 L142.0 422.7 L143.8 422.7 L145.6 422.8 L147.4 423.0 L149.2 423.4 L150.9 423.9 L152.7 424.6 L154.5 425.5 L156.3 426.6 L158.1 428.0 L159.8 429.6 L161.6 431.5 L163.4 433.7 L165.2 436.1 L167.0 438.8 L168.8 441.8 L170.5 445.1 L172.3 448.7 L174.1 452.6 L175.9 456.7 L177.7 460.9 L179.4 465.3 L181.2 469.5 L183.0 473.3 L184.8 476.3 L186.6 478.1 L188.4 478.8 L190.1 478.5 L191.9 477.6 L193.7 476.5 L195.5 475.4 L197.3 474.1 L199.0 472.8 L200.8 471.4 L202.6 469.9 L204.4 468.1 L206.2 466.0 L207.9 463.6 L209.7 460.9 L211.5 458.0 L213.3 454.9 L215.1 451.6 L216.9 448.1 L218.6 444.5 L220.4 440.7 L222.2 436.8 L224.0 432.8 L225.8 428.7 L227.5 424.4 L229.3 420.0 L231.1 415.4 L232.9 410.9 L234.7 406.3 L236.5 401.5 L238.2 396.4 L240.0 390.9 L241.8 384.8 L243.6 378.2 L245.4 370.7 L247.1 362.1 L248.9 352.9 L250.7 343.8 L252.5 335.3 L254.3 327.3 L256.1 320.1 L257.8 313.6 L259.6 307.8 L261.4 302.7 L263.2 298.3 L265.0 294.5 L266.7 291.4 L268.5 288.9 L270.3 287.1 L272.1 285.8 L273.9 285.1 L275.7 284.8 L277.4 284.8 L279.2 285.3 L281.0 286.2 L282.8 287.5 L284.6 289.3 L286.3 291.6 L288.1 294.4 L289.9 297.2 L291.7 299.8 L293.5 302.0 L295.3 303.4 L297.0 303.9 L298.8 303.4 L300.6 302.0 L302.4 299.6 L304.2 296.3 L305.9 292.1 L307.7 287.2 L309.5 281.6 L311.3 275.4 L313.1 268.9 L314.9 262.0 L316.6 255.1 L318.4 248.2 L320.2 241.6 L322.0 235.2 L323.8 229.2 L325.5 223.6 L327.3 218.2 L329.1 213.2 L330.9 208.6 L332.7 204.2 L334.4 200.2 L336.2 196.5 L338.0 193.2 L339.8 190.3 L341.6 187.8 L343.4 185.6 L345.1 183.9 L346.9 182.5 L348.7 181.3 L350.5 180.5 L352.3 180.0 L354.0 179.8 L355.8 180.0 L357.6 180.3 L359.4 180.7 L361.2 181.3 L363.0 182.2 L364.7 183.7 L366.5 185.8 L368.3 188.9 L370.1 192.8 L371.9 197.7 L373.6 203.2 L375.4 209.3 L377.2 215.7 L379.0 222.5 L380.8 229.8 L382.6 237.7 L384.3 246.2 L386.1 255.4 L387.9 264.7 L389.7 274.1 L391.5 283.3 L393.2 292.1 L395.0 300.4 L396.8 307.7 L398.6 313.7 L400.4 318.6 L402.2 322.8 L403.9 326.5 L405.7 329.9 L407.5 333.3 L409.3 336.8 L411.1 340.4 L412.8 344.3 L414.6 348.5 L416.4 353.0 L418.2 358.0 L420.0 363.6 L421.8 369.4 L423.5 374.6 L425.3 378.4 L427.1 380.3 L428.9 379.8 L430.7 377.1 L432.4 373.4 L434.2 369.5 L436.0 365.7 L437.8 362.3 L439.6 359.9 L441.3 358.6 L443.1 358.5 L444.9 358.5 L446.7 357.6 L448.5 356.5 L450.3 358.0 L452.0 362.6 L453.8 364.5 L455.6 357.2 L457.4 342.2 L459.2 326.7 L460.9 316.1 L462.7 309.3 L464.5 304.1 L466.3 299.6 L468.1 296.2 L469.9 294.1 L471.6 293.0 L473.4 292.5 L475.2 292.6 L477.0 293.6 L478.8 295.7 L480.5 298.6 L482.3 302.1 L484.1 306.2 L485.9 311.1 L487.7 316.9 L489.5 323.4 L491.2 330.3 L493.0 337.5 L494.8 345.2 L496.6 353.5 L498.4 362.5 L500.1 372.3 L501.9 383.0 L503.7 394.5 L505.5 406.7 L507.3 418.5 L509.1 429.1 L510.8 438.1 L512.6 445.7 L514.4 452.2 L516.2 458.1 L518.0 463.6 L519.7 469.0 L521.5 474.0 L523.3 478.4 L525.1 482.4 L526.9 486.0 L528.7 489.3 L530.4 492.2 L532.2 494.8 L534.0 497.1 L535.8 499.1 L537.6 500.8 L539.3 502.2 L541.1 503.3 L542.9 504.1 L544.7 504.5 L546.5 505.0 L548.3 506.1 L550.0 508.0 L551.8 509.1 L571.4 509.1 L573.2 508.5 L575.0 507.3 L576.8 506.6 L578.5 506.2 L580.3 506.2 L582.1 506.2 L583.9 506.0 L585.7 505.4 L587.4 504.5 L589.2 503.7 L591.0 502.9 L592.8 502.3 L594.6 501.9 L596.4 501.8 L598.1 502.0 L599.9 502.4 L601.7 503.1 L603.5 503.9 L605.3 504.9 L607.0 506.0 L608.8 507.1 L610.6 508.4 L612.4 509.1 L738.9 509.1 L738.9 509.7 Z"/>
<path d="M28.0 514.2 L28.0 448.4 L29.8 447.7 L31.6 447.4 L33.4 447.4 L35.2 447.7 L37.0 448.4 L38.8 449.3 L40.5 450.5 L42.3 452.0 L44.1 453.7 L45.9 455.6 L47.7 457.7 L49.5 460.1 L51.3 462.6 L53.1 465.2 L54.9 468.0 L56.7 470.9 L58.5 473.9 L60.3 477.0 L62.0 480.2 L63.8 483.4 L65.6 486.6 L67.4 489.8 L69.2 493.0 L71.0 496.0 L72.8 498.4 L74.6 499.7 L76.4 499.3 L78.2 496.7 L80.0 492.3 L81.8 487.5 L83.6 483.6 L85.3 480.6 L87.1 478.5 L88.9 477.2 L90.7 476.3 L92.5 475.9 L94.3 475.6 L96.1 475.4 L97.9 475.1 L99.7 474.6 L101.5 473.7 L103.3 472.2 L105.1 469.7 L106.8 466.2 L108.6 462.0 L110.4 457.2 L112.2 452.1 L114.0 447.2 L115.8 442.7 L117.6 438.9 L119.4 435.8 L121.2 433.4 L123.0 431.6 L124.8 430.4 L126.6 429.6 L128.4 429.1 L130.1 428.9 L131.9 428.9 L133.7 429.0 L135.5 429.0 L137.3 429.0 L139.1 429.0 L140.9 428.9 L142.7 428.8 L144.5 428.8 L146.3 428.9 L148.1 429.1 L149.9 429.4 L151.6 429.9 L153.4 430.5 L155.2 431.4 L157.0 432.5 L158.8 433.9 L160.6 435.5 L162.4 437.4 L164.2 439.5 L166.0 441.9 L167.8 444.6 L169.6 447.6 L171.4 450.9 L173.2 454.5 L174.9 458.4 L176.7 462.5 L178.5 466.7 L180.3 471.2 L182.1 475.7 L183.9 480.2 L185.7 484.4 L187.5 488.1 L189.3 490.8 L191.1 492.3 L192.9 492.8 L194.7 492.5 L196.4 491.8 L198.2 490.7 L200.0 489.4 L201.8 488.0 L203.6 486.3 L205.4 484.4 L207.2 482.1 L209.0 479.5 L210.8 476.6 L212.6 473.4 L214.4 470.0 L216.2 466.3 L218.0 462.4 L219.7 458.4 L221.5 454.1 L223.3 449.7 L225.1 445.0 L226.9 440.3 L228.7 435.3 L230.5 430.4 L232.3 425.4 L234.1 420.5 L235.9 415.9 L237.7 411.3 L239.5 406.7 L241.2 401.8 L243.0 396.5 L244.8 390.4 L246.6 383.3 L248.4 374.9 L250.2 365.7 L252.0 356.5 L253.8 347.8 L255.6 339.7 L257.4 332.4 L259.2 325.9 L261.0 320.1 L262.7 315.1 L264.5 310.9 L266.3 307.4 L268.1 304.6 L269.9 302.6 L271.7 301.2 L273.5 300.5 L275.3 300.3 L277.1 300.7 L278.9 301.5 L280.7 302.7 L282.5 304.4 L284.3 306.5 L286.0 309.2 L287.8 312.4 L289.6 315.9 L291.4 319.5 L293.2 322.8 L295.0 325.6 L296.8 327.4 L298.6 328.3 L300.4 328.0 L302.2 326.6 L304.0 324.1 L305.8 320.5 L307.5 316.0 L309.3 310.5 L311.1 304.3 L312.9 297.4 L314.7 290.0 L316.5 282.3 L318.3 274.5 L320.1 266.7 L321.9 259.2 L323.7 251.9 L325.5 245.1 L327.3 238.7 L329.1 232.7 L330.8 227.1 L332.6 221.9 L334.4 217.1 L336.2 212.8 L338.0 208.8 L339.8 205.2 L341.6 202.1 L343.4 199.4 L345.2 197.2 L347.0 195.4 L348.8 193.9 L350.6 192.8 L352.3 192.0 L354.1 191.6 L355.9 191.5 L357.7 191.8 L359.5 192.2 L361.3 192.8 L363.1 193.7 L364.9 194.8 L366.7 196.5 L368.5 198.9 L370.3 202.2 L372.1 206.5 L373.9 211.7 L375.6 217.5 L377.4 223.9 L379.2 230.6 L381.0 237.8 L382.8 245.4 L384.6 253.5 L386.4 262.2 L388.2 271.4 L390.0 280.7 L391.8 289.6 L393.6 297.8 L395.4 305.0 L397.1 311.2 L398.9 316.4 L400.7 320.7 L402.5 324.5 L404.3 328.0 L406.1 331.3 L407.9 334.6 L409.7 337.9 L411.5 341.3 L413.3 345.0 L415.1 348.9 L416.9 353.1 L418.7 357.8 L420.4 362.9 L422.2 368.5 L424.0 374.6 L425.8 381.2 L427.6 387.8 L429.4 393.0 L431.2 395.2 L433.0 394.3 L434.8 391.3 L436.6 387.4 L438.4 383.2 L440.2 379.6 L441.9 376.9 L443.7 375.3 L445.5 375.0 L447.3 374.7 L449.1 373.4 L450.9 372.1 L452.7 373.3 L454.5 377.6 L456.3 379.2 L458.1 371.6 L459.9 356.1 L461.7 340.2 L463.5 329.3 L465.2 322.2 L467.0 316.6 L468.8 311.9 L470.6 308.2 L472.4 305.9 L474.2 304.6 L476.0 304.0 L477.8 303.9 L479.6 304.8 L481.4 306.7 L483.2 309.5 L485.0 313.0 L486.7 317.1 L488.5 322.0 L490.3 327.8 L492.1 334.3 L493.9 341.3 L495.7 348.7 L497.5 356.5 L499.3 365.0 L501.1 374.1 L502.9 384.2 L504.7 395.1 L506.5 406.9 L508.3 419.3 L510.0 431.3 L511.8 442.1 L513.6 451.3 L515.4 459.2 L517.2 465.9 L519.0 471.9 L520.8 477.6 L522.6 483.2 L524.4 488.3 L526.2 492.8 L528.0 496.9 L529.8 500.6 L531.5 503.9 L533.3 506.9 L535.1 509.5 L536.9 511.8 L538.7 513.6 L585.3 513.6 L587.1 512.9 L588.9 511.8 L590.7 510.6 L592.5 509.5 L594.3 508.6 L596.1 508.0 L597.9 507.6 L599.6 507.5 L601.4 507.6 L603.2 508.0 L605.0 508.6 L606.8 509.4 L608.6 510.4 L610.4 511.5 L612.2 512.7 L614.0 513.6 L743.0 513.6 L743.0 514.2 Z"/>
<path d="M28.0 518.7 L28.0 453.5 L29.8 452.8 L31.6 452.6 L33.4 452.7 L35.2 453.1 L37.0 453.8 L38.8 454.8 L40.6 456.1 L42.4 457.6 L44.2 459.4 L46.0 461.4 L47.8 463.6 L49.6 466.0 L51.4 468.6 L53.2 471.3 L55.0 474.2 L56.8 477.2 L58.6 480.2 L60.4 483.4 L62.2 486.6 L64.0 489.9 L65.8 493.2 L67.7 496.5 L69.5 499.7 L71.3 502.8 L73.1 505.6 L74.9 507.9 L76.7 508.9 L78.5 507.8 L80.3 504.9 L82.1 501.2 L83.9 497.7 L85.7 494.7 L87.5 492.6 L89.3 491.3 L91.1 490.5 L92.9 490.0 L94.7 489.7 L96.5 489.4 L98.3 488.8 L100.1 487.8 L101.9 486.1 L103.7 483.4 L105.5 479.7 L107.3 475.1 L109.1 470.0 L110.9 464.5 L112.7 459.2 L114.5 454.1 L116.3 449.5 L118.1 445.6 L119.9 442.4 L121.7 440.0 L123.5 438.2 L125.3 436.9 L127.1 436.0 L128.9 435.5 L130.7 435.3 L132.5 435.3 L134.3 435.3 L136.1 435.3 L137.9 435.3 L139.7 435.2 L141.5 435.1 L143.3 435.0 L145.1 435.0 L147.0 435.0 L148.8 435.2 L150.6 435.4 L152.4 435.9 L154.2 436.5 L156.0 437.4 L157.8 438.5 L159.6 439.8 L161.4 441.4 L163.2 443.2 L165.0 445.4 L166.8 447.8 L168.6 450.4 L170.4 453.4 L172.2 456.7 L174.0 460.3 L175.8 464.1 L177.6 468.2 L179.4 472.5 L181.2 477.0 L183.0 481.6 L184.8 486.3 L186.6 490.9 L188.4 495.4 L190.2 499.5 L192.0 502.9 L193.8 505.3 L195.6 506.6 L197.4 507.0 L199.2 506.6 L201.0 505.7 L202.8 504.4 L204.6 502.7 L206.4 500.7 L208.2 498.3 L210.0 495.4 L211.8 492.2 L213.6 488.7 L215.4 484.8 L217.2 480.7 L219.0 476.2 L220.8 471.5 L222.6 466.5 L224.4 461.1 L226.3 455.6 L228.1 449.9 L229.9 444.3 L231.7 438.7 L233.5 433.3 L235.3 428.2 L237.1 423.5 L238.9 419.1 L240.7 414.9 L242.5 410.8 L244.3 406.5 L246.1 401.7 L247.9 395.6 L249.7 387.8 L251.5 378.9 L253.3 369.7 L255.1 360.9 L256.9 352.8 L258.7 345.4 L260.5 338.9 L262.3 333.2 L264.1 328.4 L265.9 324.4 L267.7 321.3 L269.5 318.9 L271.3 317.3 L273.1 316.5 L274.9 316.4 L276.7 316.9 L278.5 318.0 L280.3 319.6 L282.1 321.7 L283.9 324.2 L285.7 327.3 L287.5 330.9 L289.3 335.0 L291.1 339.4 L292.9 343.8 L294.7 347.9 L296.5 351.3 L298.3 353.7 L300.1 354.9 L301.9 354.7 L303.7 353.3 L305.6 350.7 L307.4 346.8 L309.2 341.9 L311.0 335.9 L312.8 329.0 L314.6 321.4 L316.4 313.2 L318.2 304.5 L320.0 295.7 L321.8 287.0 L323.6 278.5 L325.4 270.3 L327.2 262.6 L329.0 255.4 L330.8 248.7 L332.6 242.4 L334.4 236.6 L336.2 231.4 L338.0 226.6 L339.8 222.3 L341.6 218.4 L343.4 215.1 L345.2 212.2 L347.0 209.9 L348.8 207.9 L350.6 206.5 L352.4 205.3 L354.2 204.6 L356.0 204.2 L357.8 204.3 L359.6 204.6 L361.4 205.2 L363.2 206.0 L365.0 207.0 L366.8 208.4 L368.6 210.3 L370.4 213.0 L372.2 216.6 L374.0 221.1 L375.8 226.5 L377.6 232.7 L379.4 239.3 L381.2 246.4 L383.1 253.8 L384.9 261.6 L386.7 269.8 L388.5 278.4 L390.3 287.2 L392.1 295.4 L393.9 302.5 L395.7 308.6 L397.5 313.7 L399.3 318.1 L401.1 322.0 L402.9 325.7 L404.7 329.2 L406.5 332.5 L408.3 335.8 L410.1 339.0 L411.9 342.3 L413.7 345.8 L415.5 349.4 L417.3 353.3 L419.1 357.6 L420.9 362.4 L422.7 367.6 L424.5 373.2 L426.3 379.4 L428.1 386.4 L429.9 394.1 L431.7 401.3 L433.5 406.8 L435.3 409.5 L437.1 409.3 L438.9 406.2 L440.7 401.7 L442.5 397.5 L444.3 394.6 L446.1 392.9 L447.9 392.3 L449.7 391.8 L451.5 390.2 L453.3 388.5 L455.1 389.4 L456.9 393.5 L458.7 394.7 L460.5 386.7 L462.4 370.9 L464.2 354.6 L466.0 343.3 L467.8 335.8 L469.6 330.0 L471.4 324.9 L473.2 321.0 L475.0 318.4 L476.8 316.8 L478.6 315.9 L480.4 315.7 L482.2 316.4 L484.0 318.2 L485.8 320.9 L487.6 324.2 L489.4 328.3 L491.2 333.1 L493.0 339.0 L494.8 345.5 L496.6 352.6 L498.4 360.0 L500.2 368.0 L502.0 376.6 L503.8 386.0 L505.6 396.2 L507.4 407.3 L509.2 419.4 L511.0 432.0 L512.8 444.3 L514.6 455.3 L516.4 464.8 L518.2 472.8 L520.0 479.7 L521.8 485.9 L523.6 491.8 L525.4 497.4 L527.2 502.7 L529.0 507.4 L530.8 511.6 L532.6 515.3 L534.4 518.1 L590.3 518.1 L592.1 517.7 L593.9 516.4 L595.7 515.2 L597.5 514.3 L599.3 513.6 L601.1 513.2 L602.9 513.1 L604.7 513.2 L606.5 513.6 L608.3 514.2 L610.1 515.0 L611.9 516.0 L613.7 517.1 L615.5 518.1 L747.1 518.1 L747.1 518.7 Z"/>
<path d="M28.0 523.1 L28.0 458.5 L29.8 458.0 L31.6 457.8 L33.4 457.9 L35.3 458.4 L37.1 459.2 L38.9 460.3 L40.7 461.7 L42.5 463.3 L44.3 465.2 L46.1 467.2 L47.9 469.5 L49.8 472.0 L51.6 474.7 L53.4 477.5 L55.2 480.4 L57.0 483.5 L58.8 486.6 L60.6 489.9 L62.4 493.2 L64.3 496.5 L66.1 499.9 L67.9 503.3 L69.7 506.5 L71.5 509.6 L73.3 512.6 L75.1 515.3 L76.9 517.1 L78.8 517.4 L80.6 516.2 L82.4 514.0 L84.2 511.2 L86.0 508.6 L87.8 506.5 L89.6 505.2 L91.4 504.5 L93.3 503.9 L95.1 503.4 L96.9 502.7 L98.7 501.6 L100.5 499.7 L102.3 496.9 L104.1 493.0 L105.9 488.3 L107.8 483.0 L109.6 477.3 L111.4 471.6 L113.2 466.0 L115.0 460.9 L116.8 456.2 L118.6 452.2 L120.4 449.0 L122.3 446.5 L124.1 444.7 L125.9 443.4 L127.7 442.5 L129.5 442.0 L131.3 441.7 L133.1 441.6 L134.9 441.6 L136.8 441.6 L138.6 441.6 L140.4 441.5 L142.2 441.3 L144.0 441.2 L145.8 441.2 L147.6 441.2 L149.4 441.3 L151.3 441.5 L153.1 441.9 L154.9 442.5 L156.7 443.4 L158.5 444.4 L160.3 445.8 L162.1 447.3 L163.9 449.1 L165.8 451.2 L167.6 453.6 L169.4 456.3 L171.2 459.2 L173.0 462.5 L174.8 466.1 L176.6 469.9 L178.4 474.0 L180.3 478.3 L182.1 482.8 L183.9 487.4 L185.7 492.1 L187.5 496.9 L189.3 501.6 L191.1 506.3 L192.9 510.7 L194.8 514.5 L196.6 517.4 L198.4 519.4 L200.2 520.3 L202.0 520.4 L203.8 519.6 L205.6 518.3 L207.4 516.3 L209.3 513.8 L211.1 510.8 L212.9 507.2 L214.7 503.2 L216.5 498.7 L218.3 493.9 L220.1 488.6 L221.9 482.9 L223.8 476.8 L225.6 470.5 L227.4 464.0 L229.2 457.6 L231.0 451.3 L232.8 445.3 L234.6 439.7 L236.4 434.4 L238.3 429.6 L240.1 425.2 L241.9 421.3 L243.7 417.8 L245.5 414.6 L247.3 411.2 L249.1 406.7 L250.9 400.2 L252.8 392.1 L254.6 383.4 L256.4 374.7 L258.2 366.5 L260.0 359.1 L261.8 352.7 L263.6 347.1 L265.4 342.6 L267.3 338.9 L269.1 336.1 L270.9 334.2 L272.7 333.1 L274.5 332.9 L276.3 333.5 L278.1 334.8 L280.0 336.8 L281.8 339.3 L283.6 342.3 L285.4 345.8 L287.2 349.9 L289.0 354.5 L290.8 359.6 L292.6 365.0 L294.5 370.3 L296.3 375.2 L298.1 379.3 L299.9 382.1 L301.7 383.3 L303.5 382.9 L305.3 381.1 L307.1 377.8 L309.0 373.5 L310.8 368.3 L312.6 362.1 L314.4 354.9 L316.2 346.9 L318.0 338.1 L319.8 328.7 L321.6 319.0 L323.5 309.2 L325.3 299.7 L327.1 290.5 L328.9 281.9 L330.7 273.7 L332.5 266.2 L334.3 259.2 L336.1 252.8 L338.0 247.0 L339.8 241.8 L341.6 237.1 L343.4 232.9 L345.2 229.3 L347.0 226.3 L348.8 223.7 L350.6 221.7 L352.5 220.2 L354.3 219.0 L356.1 218.3 L357.9 218.0 L359.7 218.1 L361.5 218.6 L363.3 219.3 L365.1 220.3 L367.0 221.5 L368.8 223.0 L370.6 225.1 L372.4 228.0 L374.2 231.9 L376.0 236.7 L377.8 242.4 L379.6 248.8 L381.5 255.6 L383.3 262.8 L385.1 270.2 L386.9 278.0 L388.7 285.7 L390.5 293.2 L392.3 300.2 L394.1 306.3 L396.0 311.3 L397.8 315.5 L399.6 319.3 L401.4 323.0 L403.2 326.6 L405.0 330.1 L406.8 333.5 L408.6 336.9 L410.5 340.1 L412.3 343.4 L414.1 346.7 L415.9 350.2 L417.7 353.9 L419.5 357.8 L421.3 362.2 L423.1 366.9 L425.0 372.1 L426.8 377.9 L428.6 384.3 L430.4 391.2 L432.2 398.8 L434.0 406.8 L435.8 415.0 L437.6 422.0 L439.5 425.6 L441.3 424.5 L443.1 420.6 L444.9 416.4 L446.7 413.3 L448.5 411.4 L450.3 410.5 L452.1 409.7 L454.0 407.8 L455.8 405.9 L457.6 406.5 L459.4 410.3 L461.2 411.2 L463.0 402.8 L464.8 386.5 L466.6 369.8 L468.5 358.1 L470.3 350.2 L472.1 344.0 L473.9 338.5 L475.7 334.3 L477.5 331.4 L479.3 329.6 L481.1 328.4 L483.0 328.0 L484.8 328.5 L486.6 330.1 L488.4 332.6 L490.2 335.9 L492.0 339.8 L493.8 344.6 L495.6 350.4 L497.5 357.0 L499.3 364.1 L501.1 371.6 L502.9 379.7 L504.7 388.5 L506.5 398.0 L508.3 408.4 L510.1 419.8 L512.0 432.0 L513.8 444.9 L515.6 457.5 L517.4 468.7 L519.2 478.3 L521.0 486.6 L522.8 493.6 L524.6 500.0 L526.5 506.0 L528.3 511.8 L530.1 517.2 L531.9 522.0 L533.7 522.5 L595.3 522.5 L597.2 522.1 L599.0 521.0 L600.8 520.0 L602.6 519.3 L604.4 518.9 L606.2 518.7 L608.0 518.8 L609.8 519.2 L611.7 519.8 L613.5 520.6 L615.3 521.6 L617.1 522.5 L751.2 522.5 L751.2 523.1 Z"/>
<path d="M28.0 527.6 L28.0 463.6 L29.8 463.1 L31.6 463.0 L33.5 463.2 L35.3 463.8 L37.1 464.7 L38.9 465.8 L40.8 467.3 L42.6 469.0 L44.4 470.9 L46.2 473.1 L48.1 475.5 L49.9 478.0 L51.7 480.8 L53.5 483.6 L55.3 486.7 L57.2 489.8 L59.0 493.0 L60.8 496.3 L62.6 499.7 L64.5 503.1 L66.3 506.6 L68.1 510.0 L69.9 513.3 L71.7 516.5 L73.6 519.5 L75.4 522.3 L77.2 524.6 L79.0 525.9 L80.9 526.1 L82.7 525.3 L84.5 523.5 L86.3 521.5 L88.2 519.8 L90.0 518.6 L91.8 517.7 L93.6 517.0 L95.4 516.1 L97.3 514.7 L99.1 512.8 L100.9 509.9 L102.7 506.1 L104.6 501.4 L106.4 496.0 L108.2 490.3 L110.0 484.4 L111.9 478.5 L113.7 472.9 L115.5 467.6 L117.3 462.9 L119.1 458.9 L121.0 455.7 L122.8 453.1 L124.6 451.2 L126.4 449.9 L128.3 449.0 L130.1 448.4 L131.9 448.2 L133.7 448.0 L135.6 448.0 L137.4 448.0 L139.2 447.9 L141.0 447.8 L142.8 447.6 L144.7 447.4 L146.5 447.3 L148.3 447.3 L150.1 447.4 L152.0 447.6 L153.8 448.0 L155.6 448.6 L157.4 449.4 L159.2 450.4 L161.1 451.7 L162.9 453.2 L164.7 455.0 L166.5 457.1 L168.4 459.5 L170.2 462.1 L172.0 465.1 L173.8 468.3 L175.7 471.9 L177.5 475.7 L179.3 479.8 L181.1 484.1 L182.9 488.5 L184.8 493.2 L186.6 497.9 L188.4 502.7 L190.2 507.5 L192.1 512.4 L193.9 517.1 L195.7 521.5 L197.5 525.4 L199.4 527.0 L210.3 527.0 L212.1 524.3 L213.9 520.4 L215.8 515.8 L217.6 510.6 L219.4 504.9 L221.2 498.6 L223.0 491.9 L224.9 484.9 L226.7 477.8 L228.5 470.7 L230.3 463.8 L232.2 457.2 L234.0 450.9 L235.8 445.1 L237.6 439.7 L239.5 434.9 L241.3 430.5 L243.1 426.7 L244.9 423.4 L246.7 420.8 L248.6 418.6 L250.4 415.6 L252.2 411.1 L254.0 404.9 L255.9 397.4 L257.7 389.1 L259.5 380.9 L261.3 373.6 L263.2 367.2 L265.0 361.9 L266.8 357.6 L268.6 354.3 L270.4 351.9 L272.3 350.5 L274.1 350.1 L275.9 350.6 L277.7 352.0 L279.6 354.2 L281.4 357.1 L283.2 360.5 L285.0 364.6 L286.9 369.2 L288.7 374.4 L290.5 380.1 L292.3 386.3 L294.1 392.7 L296.0 399.0 L297.8 404.5 L299.6 408.4 L301.4 409.7 L303.3 408.2 L305.1 404.7 L306.9 400.3 L308.7 395.3 L310.5 390.2 L312.4 385.2 L314.2 380.1 L316.0 374.8 L317.8 368.8 L319.7 361.6 L321.5 353.1 L323.3 343.5 L325.1 333.2 L327.0 322.7 L328.8 312.5 L330.6 302.9 L332.4 293.8 L334.2 285.4 L336.1 277.6 L337.9 270.6 L339.7 264.2 L341.5 258.4 L343.4 253.3 L345.2 248.8 L347.0 244.9 L348.8 241.6 L350.7 238.9 L352.5 236.8 L354.3 235.2 L356.1 234.0 L357.9 233.2 L359.8 233.0 L361.6 233.2 L363.4 233.7 L365.2 234.6 L367.1 235.7 L368.9 237.0 L370.7 238.7 L372.5 241.0 L374.3 244.2 L376.2 248.2 L378.0 253.2 L379.8 259.0 L381.6 265.5 L383.5 272.4 L385.3 279.3 L387.1 286.2 L388.9 292.8 L390.8 298.9 L392.6 304.3 L394.4 308.9 L396.2 313.0 L398.0 316.8 L399.9 320.3 L401.7 323.8 L403.5 327.4 L405.3 330.9 L407.2 334.4 L409.0 337.8 L410.8 341.2 L412.6 344.5 L414.5 347.7 L416.3 351.1 L418.1 354.6 L419.9 358.3 L421.7 362.3 L423.6 366.7 L425.4 371.5 L427.2 376.7 L429.0 382.6 L430.9 389.1 L432.7 396.0 L434.5 403.4 L436.3 411.6 L438.2 421.1 L440.0 430.5 L441.8 437.3 L443.6 439.9 L445.4 439.2 L447.3 436.5 L449.1 433.2 L450.9 430.7 L452.7 429.5 L454.6 428.5 L456.4 426.5 L458.2 424.3 L460.0 424.6 L461.8 428.0 L463.7 428.6 L465.5 419.8 L467.3 403.0 L469.1 385.8 L471.0 373.7 L472.8 365.4 L474.6 358.7 L476.4 352.9 L478.3 348.3 L480.1 345.1 L481.9 342.9 L483.7 341.5 L485.5 340.7 L487.4 341.0 L489.2 342.4 L491.0 344.8 L492.8 347.9 L494.7 351.7 L496.5 356.4 L498.3 362.2 L500.1 368.7 L502.0 375.9 L503.8 383.5 L505.6 391.7 L507.4 400.6 L509.2 410.3 L511.1 420.9 L512.9 432.4 L514.7 444.9 L516.5 458.0 L518.4 470.8 L520.2 482.2 L522.0 492.1 L523.8 500.5 L525.6 507.7 L527.5 514.2 L529.3 520.4 L531.1 526.4 L532.9 527.0 L600.4 527.0 L602.2 526.7 L604.0 525.7 L605.9 525.0 L607.7 524.5 L609.5 524.4 L611.3 524.5 L613.1 524.8 L615.0 525.4 L616.8 526.2 L618.6 527.0 L755.3 527.0 L755.3 527.6 Z"/>
<path d="M28.0 532.0 L28.0 468.7 L29.8 468.3 L31.7 468.2 L33.5 468.5 L35.3 469.2 L37.2 470.1 L39.0 471.4 L40.8 472.9 L42.7 474.7 L44.5 476.7 L46.3 478.9 L48.2 481.4 L50.0 484.0 L51.8 486.9 L53.7 489.8 L55.5 492.9 L57.3 496.1 L59.2 499.4 L61.0 502.8 L62.8 506.3 L64.7 509.8 L66.5 513.3 L68.3 516.8 L70.2 520.2 L72.0 523.4 L73.8 526.5 L75.7 529.3 L77.5 531.4 L88.5 531.4 L90.3 530.8 L92.2 529.7 L94.0 528.6 L95.8 527.1 L97.7 525.1 L99.5 522.3 L101.3 518.7 L103.2 514.2 L105.0 509.0 L106.8 503.3 L108.7 497.4 L110.5 491.4 L112.3 485.4 L114.2 479.7 L116.0 474.4 L117.8 469.7 L119.7 465.6 L121.5 462.3 L123.3 459.8 L125.2 457.8 L127.0 456.5 L128.8 455.5 L130.7 454.9 L132.5 454.6 L134.3 454.5 L136.2 454.4 L138.0 454.4 L139.8 454.2 L141.7 454.1 L143.5 453.9 L145.3 453.7 L147.2 453.6 L149.0 453.5 L150.8 453.5 L152.7 453.7 L154.5 454.1 L156.3 454.6 L158.2 455.4 L160.0 456.4 L161.8 457.7 L163.7 459.2 L165.5 461.0 L167.3 463.0 L169.2 465.4 L171.0 468.0 L172.8 470.9 L174.7 474.1 L176.5 477.7 L178.3 481.5 L180.2 485.6 L182.0 489.9 L183.8 494.3 L185.7 498.9 L187.5 503.7 L189.3 508.5 L191.2 513.3 L193.0 518.2 L194.8 523.0 L196.7 527.6 L198.5 531.4 L213.2 531.4 L215.0 530.7 L216.8 525.5 L218.7 519.7 L220.5 513.3 L222.3 506.3 L224.2 499.0 L226.0 491.4 L227.8 483.8 L229.7 476.4 L231.5 469.2 L233.3 462.4 L235.2 456.0 L237.0 450.1 L238.8 444.7 L240.7 439.8 L242.5 435.4 L244.3 431.6 L246.2 428.4 L248.0 426.0 L249.8 424.1 L251.6 422.3 L253.5 419.9 L255.3 416.3 L257.1 410.8 L259.0 403.6 L260.8 395.9 L262.6 388.8 L264.5 382.6 L266.3 377.6 L268.1 373.6 L270.0 370.7 L271.8 368.8 L273.6 368.1 L275.5 368.3 L277.3 369.6 L279.1 371.9 L281.0 375.0 L282.8 378.9 L284.6 383.5 L286.5 388.8 L288.3 394.5 L290.1 400.8 L292.0 407.7 L293.8 415.3 L295.6 422.8 L297.5 428.4 L299.3 430.2 L301.1 428.4 L303.0 424.3 L304.8 418.7 L306.6 412.5 L308.5 406.7 L310.3 401.3 L312.1 396.1 L314.0 391.2 L315.8 386.5 L317.6 382.2 L319.5 378.1 L321.3 374.0 L323.1 369.6 L325.0 363.8 L326.8 355.9 L328.6 346.4 L330.5 336.1 L332.3 325.7 L334.1 315.7 L336.0 306.3 L337.8 297.7 L339.6 289.9 L341.5 282.9 L343.3 276.6 L345.1 271.0 L347.0 266.1 L348.8 261.9 L350.6 258.4 L352.5 255.5 L354.3 253.2 L356.1 251.5 L358.0 250.3 L359.8 249.5 L361.6 249.2 L363.5 249.4 L365.3 250.1 L367.1 251.0 L369.0 252.2 L370.8 253.7 L372.6 255.6 L374.5 258.0 L376.3 261.2 L378.1 265.4 L380.0 270.4 L381.8 276.2 L383.6 282.3 L385.5 288.4 L387.3 294.0 L389.1 299.1 L391.0 303.5 L392.8 307.5 L394.6 311.0 L396.5 314.4 L398.3 317.8 L400.1 321.2 L402.0 324.6 L403.8 328.1 L405.6 331.6 L407.5 335.1 L409.3 338.7 L411.1 342.1 L413.0 345.5 L414.8 348.8 L416.6 352.1 L418.5 355.5 L420.3 359.1 L422.1 362.8 L424.0 366.8 L425.8 371.2 L427.6 376.0 L429.5 381.4 L431.3 387.2 L433.1 393.7 L435.0 400.8 L436.8 408.3 L438.6 416.7 L440.5 425.9 L442.3 435.7 L444.1 444.8 L446.0 452.2 L447.8 456.5 L449.6 456.8 L451.5 453.9 L453.3 450.8 L455.1 449.3 L457.0 448.3 L458.8 446.1 L460.6 443.6 L462.5 443.6 L464.3 446.7 L466.1 447.0 L468.0 437.8 L469.8 420.5 L471.6 402.8 L473.5 390.1 L475.3 381.4 L477.1 374.3 L479.0 368.0 L480.8 363.0 L482.6 359.4 L484.5 356.8 L486.3 355.1 L488.1 354.0 L490.0 354.0 L491.8 355.2 L493.6 357.3 L495.5 360.2 L497.3 363.9 L499.1 368.5 L501.0 374.2 L502.8 380.8 L504.6 387.9 L506.5 395.6 L508.3 403.9 L510.1 412.9 L512.0 422.7 L513.8 433.5 L515.6 445.2 L517.5 457.9 L519.3 471.2 L521.1 484.2 L523.0 495.9 L524.8 505.9 L526.6 514.5 L528.5 522.0 L530.3 528.6 L532.1 531.4 L607.3 531.4 L609.1 530.7 L611.0 530.2 L612.8 530.0 L614.6 530.1 L616.5 530.5 L618.3 531.1 L620.1 531.4 L759.4 531.4 L759.4 532.0 Z"/>
<path d="M28.0 536.5 L28.0 473.8 L29.8 473.4 L31.7 473.5 L33.5 473.8 L35.4 474.6 L37.2 475.6 L39.1 476.9 L40.9 478.5 L42.7 480.4 L44.6 482.5 L46.4 484.8 L48.3 487.4 L50.1 490.1 L52.0 493.0 L53.8 496.0 L55.7 499.2 L57.5 502.5 L59.3 505.9 L61.2 509.4 L63.0 512.9 L64.9 516.5 L66.7 520.0 L68.6 523.6 L70.4 527.0 L72.2 530.4 L74.1 533.5 L75.9 535.9 L96.2 535.9 L98.1 534.0 L99.9 530.7 L101.7 526.6 L103.6 521.7 L105.4 516.3 L107.3 510.5 L109.1 504.5 L111.0 498.4 L112.8 492.3 L114.6 486.6 L116.5 481.2 L118.3 476.4 L120.2 472.3 L122.0 469.0 L123.9 466.4 L125.7 464.5 L127.5 463.0 L129.4 462.1 L131.2 461.5 L133.1 461.1 L134.9 460.9 L136.8 460.9 L138.6 460.8 L140.5 460.6 L142.3 460.4 L144.1 460.2 L146.0 460.0 L147.8 459.8 L149.7 459.7 L151.5 459.7 L153.4 459.9 L155.2 460.2 L157.0 460.7 L158.9 461.5 L160.7 462.4 L162.6 463.7 L164.4 465.2 L166.3 466.9 L168.1 468.9 L169.9 471.3 L171.8 473.9 L173.6 476.8 L175.5 480.0 L177.3 483.5 L179.2 487.3 L181.0 491.4 L182.9 495.7 L184.7 500.1 L186.5 504.7 L188.4 509.5 L190.2 514.3 L192.1 519.1 L193.9 524.0 L195.8 528.8 L197.6 533.5 L199.4 535.9 L216.0 535.9 L217.9 532.9 L219.7 526.8 L221.6 519.9 L223.4 512.6 L225.3 504.9 L227.1 497.1 L228.9 489.3 L230.8 481.6 L232.6 474.4 L234.5 467.5 L236.3 461.0 L238.2 455.0 L240.0 449.5 L241.8 444.5 L243.7 440.1 L245.5 436.4 L247.4 433.2 L249.2 430.7 L251.1 428.9 L252.9 427.6 L254.8 426.7 L256.6 425.3 L258.4 422.3 L260.3 417.2 L262.1 411.0 L264.0 404.7 L265.8 398.9 L267.7 394.0 L269.5 390.5 L271.3 388.1 L273.2 386.9 L275.0 386.8 L276.9 387.8 L278.7 390.0 L280.6 393.3 L282.4 397.5 L284.2 402.6 L286.1 408.3 L287.9 414.6 L289.8 421.8 L291.6 429.9 L293.5 437.9 L295.3 444.1 L297.2 447.3 L299.0 447.0 L300.8 442.8 L302.7 436.2 L304.5 429.2 L306.4 422.8 L308.2 416.9 L310.1 411.2 L311.9 405.6 L313.7 400.3 L315.6 395.4 L317.4 390.8 L319.3 386.5 L321.1 382.6 L323.0 379.0 L324.8 375.8 L326.6 372.6 L328.5 369.0 L330.3 364.4 L332.2 357.6 L334.0 348.7 L335.9 338.8 L337.7 328.9 L339.6 319.6 L341.4 311.0 L343.2 303.3 L345.1 296.5 L346.9 290.4 L348.8 285.1 L350.6 280.5 L352.5 276.7 L354.3 273.6 L356.1 271.1 L358.0 269.2 L359.8 267.9 L361.7 267.1 L363.5 266.8 L365.4 267.0 L367.2 267.7 L369.0 268.7 L370.9 269.9 L372.7 271.5 L374.6 273.4 L376.4 275.8 L378.3 279.0 L380.1 282.9 L382.0 287.4 L383.8 292.1 L385.6 296.6 L387.5 300.6 L389.3 304.0 L391.2 307.1 L393.0 309.9 L394.9 312.8 L396.7 315.7 L398.5 318.8 L400.4 322.0 L402.2 325.3 L404.1 328.8 L405.9 332.3 L407.8 335.8 L409.6 339.4 L411.4 342.9 L413.3 346.4 L415.1 349.8 L417.0 353.2 L418.8 356.5 L420.7 359.9 L422.5 363.5 L424.4 367.3 L426.2 371.4 L428.0 375.8 L429.9 380.6 L431.7 386.0 L433.6 391.9 L435.4 398.4 L437.3 405.5 L439.1 413.3 L440.9 421.7 L442.8 430.6 L444.6 440.1 L446.5 450.5 L448.3 461.4 L450.2 470.3 L452.0 474.3 L453.8 473.8 L455.7 471.9 L457.5 470.6 L459.4 469.2 L461.2 466.6 L463.1 463.9 L464.9 463.6 L466.8 466.5 L468.6 466.4 L470.4 456.7 L472.3 438.9 L474.1 420.6 L476.0 407.5 L477.8 398.2 L479.7 390.6 L481.5 383.8 L483.3 378.3 L485.2 374.3 L487.0 371.3 L488.9 369.2 L490.7 367.8 L492.6 367.4 L494.4 368.3 L496.2 370.3 L498.1 373.0 L499.9 376.5 L501.8 381.0 L503.6 386.6 L505.5 393.1 L507.3 400.2 L509.2 407.9 L511.0 416.3 L512.8 425.4 L514.7 435.4 L516.5 446.3 L518.4 458.2 L520.2 471.1 L522.1 484.7 L523.9 497.9 L525.7 509.7 L527.6 520.0 L529.4 528.7 L531.3 535.9 L614.2 535.9 L616.1 535.7 L617.9 535.8 L619.8 535.9 L763.6 535.9 L763.6 536.5 Z"/>
<path d="M28.0 540.9 L28.0 478.9 L29.9 478.6 L31.7 478.7 L33.6 479.2 L35.4 480.0 L37.3 481.1 L39.1 482.5 L41.0 484.2 L42.8 486.1 L44.7 488.3 L46.5 490.7 L48.4 493.4 L50.2 496.2 L52.1 499.1 L54.0 502.3 L55.8 505.5 L57.7 508.9 L59.5 512.4 L61.4 515.9 L63.2 519.5 L65.1 523.2 L66.9 526.8 L68.8 530.4 L70.6 533.9 L72.5 537.3 L74.3 540.3 L98.4 540.3 L100.3 538.4 L102.2 534.0 L104.0 529.0 L105.9 523.5 L107.7 517.6 L109.6 511.5 L111.4 505.3 L113.3 499.3 L115.1 493.5 L117.0 488.1 L118.8 483.2 L120.7 479.1 L122.5 475.7 L124.4 473.1 L126.3 471.1 L128.1 469.6 L130.0 468.6 L131.8 468.0 L133.7 467.6 L135.5 467.4 L137.4 467.3 L139.2 467.2 L141.1 467.0 L142.9 466.8 L144.8 466.5 L146.6 466.3 L148.5 466.1 L150.4 465.9 L152.2 465.9 L154.1 466.0 L155.9 466.3 L157.8 466.8 L159.6 467.5 L161.5 468.5 L163.3 469.7 L165.2 471.2 L167.0 472.9 L168.9 474.9 L170.7 477.2 L172.6 479.8 L174.5 482.7 L176.3 485.9 L178.2 489.4 L180.0 493.2 L181.9 497.2 L183.7 501.5 L185.6 505.9 L187.4 510.5 L189.3 515.3 L191.1 520.1 L193.0 524.9 L194.8 529.8 L196.7 534.6 L198.5 539.3 L200.4 540.3 L217.1 540.3 L218.9 539.1 L220.8 532.8 L222.6 525.7 L224.5 518.2 L226.4 510.4 L228.2 502.4 L230.1 494.5 L231.9 486.8 L233.8 479.4 L235.6 472.4 L237.5 465.9 L239.3 459.8 L241.2 454.3 L243.0 449.2 L244.9 444.8 L246.7 441.0 L248.6 437.9 L250.5 435.4 L252.3 433.5 L254.2 432.4 L256.0 432.1 L257.9 431.8 L259.7 430.9 L261.6 428.8 L263.4 425.3 L265.3 420.7 L267.1 415.7 L269.0 411.3 L270.8 408.3 L272.7 406.6 L274.6 406.0 L276.4 406.7 L278.3 408.7 L280.1 411.8 L282.0 416.2 L283.8 421.5 L285.7 427.8 L287.5 435.0 L289.4 442.8 L291.2 450.8 L293.1 458.3 L294.9 463.5 L296.8 464.2 L298.7 460.1 L300.5 453.5 L302.4 446.7 L304.2 440.2 L306.1 433.7 L307.9 427.4 L309.8 421.2 L311.6 415.4 L313.5 409.8 L315.3 404.5 L317.2 399.6 L319.0 394.9 L320.9 390.6 L322.8 386.7 L324.6 383.1 L326.5 379.9 L328.3 377.1 L330.2 374.5 L332.0 371.9 L333.9 368.8 L335.7 364.7 L337.6 359.0 L339.4 351.2 L341.3 342.3 L343.1 333.4 L345.0 325.3 L346.9 317.9 L348.7 311.3 L350.6 305.6 L352.4 300.6 L354.3 296.5 L356.1 293.1 L358.0 290.5 L359.8 288.4 L361.7 287.0 L363.5 286.0 L365.4 285.7 L367.2 285.9 L369.1 286.5 L371.0 287.4 L372.8 288.5 L374.7 289.8 L376.5 291.4 L378.4 293.4 L380.2 295.7 L382.1 298.3 L383.9 301.0 L385.8 303.5 L387.6 305.7 L389.5 307.8 L391.3 309.9 L393.2 312.1 L395.1 314.5 L396.9 317.1 L398.8 319.9 L400.6 322.9 L402.5 326.1 L404.3 329.5 L406.2 332.9 L408.0 336.5 L409.9 340.0 L411.7 343.6 L413.6 347.2 L415.4 350.7 L417.3 354.1 L419.2 357.5 L421.0 360.9 L422.9 364.4 L424.7 368.0 L426.6 371.8 L428.4 375.9 L430.3 380.3 L432.1 385.2 L434.0 390.6 L435.8 396.6 L437.7 403.1 L439.5 410.3 L441.4 418.2 L443.3 426.6 L445.1 435.5 L447.0 445.1 L448.8 455.7 L450.7 467.5 L452.5 478.5 L454.4 486.6 L456.2 491.4 L458.1 493.3 L459.9 493.1 L461.8 491.2 L463.6 488.0 L465.5 485.1 L467.4 484.7 L469.2 487.3 L471.1 486.8 L472.9 476.6 L474.8 458.3 L476.6 439.4 L478.5 425.7 L480.3 415.9 L482.2 407.7 L484.0 400.4 L485.9 394.4 L487.7 389.8 L489.6 386.4 L491.5 383.8 L493.3 382.1 L495.2 381.4 L497.0 381.9 L498.9 383.6 L500.7 386.1 L502.6 389.4 L504.4 393.7 L506.3 399.2 L508.1 405.6 L510.0 412.7 L511.8 420.5 L513.7 428.9 L515.6 438.1 L517.4 448.2 L519.3 459.3 L521.1 471.4 L523.0 484.5 L524.8 498.2 L526.7 511.7 L528.5 523.7 L530.4 534.1 L532.2 540.3 L767.7 540.3 L767.7 540.9 Z"/>
<path d="M28.0 545.4 L28.0 484.0 L29.9 483.8 L31.7 484.0 L33.6 484.5 L35.5 485.4 L37.3 486.6 L39.2 488.1 L41.0 489.8 L42.9 491.9 L44.8 494.2 L46.6 496.7 L48.5 499.4 L50.4 502.3 L52.2 505.3 L54.1 508.5 L56.0 511.9 L57.8 515.3 L59.7 518.9 L61.6 522.5 L63.4 526.2 L65.3 529.9 L67.1 533.6 L69.0 537.3 L70.9 540.9 L72.7 544.3 L74.6 544.8 L100.7 544.8 L102.6 541.4 L104.4 536.3 L106.3 530.7 L108.2 524.7 L110.0 518.6 L111.9 512.4 L113.7 506.3 L115.6 500.4 L117.5 495.0 L119.3 490.1 L121.2 485.9 L123.1 482.5 L124.9 479.8 L126.8 477.8 L128.7 476.3 L130.5 475.3 L132.4 474.6 L134.3 474.2 L136.1 474.0 L138.0 473.8 L139.8 473.7 L141.7 473.4 L143.6 473.2 L145.4 472.9 L147.3 472.6 L149.2 472.4 L151.0 472.2 L152.9 472.1 L154.8 472.2 L156.6 472.5 L158.5 472.9 L160.4 473.6 L162.2 474.6 L164.1 475.7 L165.9 477.2 L167.8 478.9 L169.7 480.9 L171.5 483.1 L173.4 485.7 L175.3 488.6 L177.1 491.8 L179.0 495.3 L180.9 499.1 L182.7 503.1 L184.6 507.3 L186.4 511.8 L188.3 516.4 L190.2 521.1 L192.0 525.9 L193.9 530.7 L195.8 535.6 L197.6 540.4 L199.5 544.8 L220.0 544.8 L221.9 538.4 L223.7 531.3 L225.6 523.6 L227.5 515.7 L229.3 507.6 L231.2 499.6 L233.1 491.8 L234.9 484.4 L236.8 477.3 L238.6 470.7 L240.5 464.6 L242.4 459.0 L244.2 454.0 L246.1 449.5 L248.0 445.6 L249.8 442.5 L251.7 440.0 L253.6 438.2 L255.4 437.1 L257.3 436.7 L259.1 436.8 L261.0 437.3 L262.9 437.6 L264.7 437.0 L266.6 435.0 L268.5 432.0 L270.3 429.1 L272.2 427.0 L274.1 426.0 L275.9 426.2 L277.8 427.8 L279.7 430.8 L281.5 435.1 L283.4 440.6 L285.2 447.1 L287.1 454.6 L289.0 463.0 L290.8 471.2 L292.7 476.9 L294.6 478.0 L296.4 475.3 L298.3 470.4 L300.2 464.5 L302.0 458.0 L303.9 451.3 L305.8 444.6 L307.6 438.0 L309.5 431.7 L311.3 425.5 L313.2 419.6 L315.1 414.0 L316.9 408.7 L318.8 403.7 L320.7 399.1 L322.5 394.7 L324.4 390.8 L326.3 387.2 L328.1 384.0 L330.0 381.1 L331.8 378.5 L333.7 376.1 L335.6 373.9 L337.4 371.8 L339.3 369.1 L341.2 365.5 L343.0 360.6 L344.9 354.5 L346.8 347.4 L348.6 340.1 L350.5 333.4 L352.4 327.4 L354.2 322.2 L356.1 317.8 L357.9 314.1 L359.8 311.2 L361.7 308.9 L363.5 307.3 L365.4 306.1 L367.3 305.5 L369.1 305.4 L371.0 305.6 L372.9 306.0 L374.7 306.3 L376.6 306.6 L378.5 306.9 L380.3 307.2 L382.2 307.7 L384.0 308.3 L385.9 309.1 L387.8 310.0 L389.6 311.1 L391.5 312.5 L393.4 314.3 L395.2 316.3 L397.1 318.6 L399.0 321.2 L400.8 324.0 L402.7 327.0 L404.5 330.2 L406.4 333.6 L408.3 337.1 L410.1 340.6 L412.0 344.3 L413.9 347.9 L415.7 351.5 L417.6 355.0 L419.5 358.5 L421.3 361.9 L423.2 365.3 L425.1 368.8 L426.9 372.4 L428.8 376.3 L430.6 380.4 L432.5 384.9 L434.4 389.9 L436.2 395.3 L438.1 401.3 L440.0 407.9 L441.8 415.1 L443.7 423.0 L445.6 431.5 L447.4 440.6 L449.3 450.3 L451.2 460.8 L453.0 472.1 L454.9 483.7 L456.7 495.4 L458.6 505.7 L460.5 512.7 L462.3 515.1 L464.2 513.8 L466.1 510.6 L467.9 507.5 L469.8 506.9 L471.7 509.1 L473.5 508.3 L475.4 497.6 L477.2 478.7 L479.1 459.2 L481.0 444.8 L482.8 434.4 L484.7 425.6 L486.6 417.7 L488.4 411.1 L490.3 406.0 L492.2 402.2 L494.0 399.1 L495.9 396.9 L497.8 395.8 L499.6 396.0 L501.5 397.3 L503.3 399.5 L505.2 402.6 L507.1 406.8 L508.9 412.1 L510.8 418.5 L512.7 425.5 L514.5 433.3 L516.4 441.7 L518.3 451.0 L520.1 461.2 L522.0 472.5 L523.9 484.7 L525.7 498.0 L527.6 512.0 L529.4 525.6 L531.3 537.8 L533.2 544.8 L771.8 544.8 L771.8 545.4 Z"/>
<path d="M28.0 549.8 L28.0 489.1 L29.9 489.0 L31.7 489.3 L33.6 489.9 L35.5 490.8 L37.4 492.1 L39.2 493.7 L41.1 495.5 L43.0 497.6 L44.9 500.0 L46.7 502.6 L48.6 505.4 L50.5 508.4 L52.4 511.5 L54.2 514.8 L56.1 518.2 L58.0 521.8 L59.9 525.4 L61.7 529.1 L63.6 532.8 L65.5 536.6 L67.4 540.4 L69.2 544.2 L71.1 547.8 L73.0 549.2 L101.1 549.2 L103.0 548.7 L104.9 543.5 L106.7 537.9 L108.6 531.9 L110.5 525.7 L112.3 519.4 L114.2 513.3 L116.1 507.4 L118.0 501.9 L119.8 496.9 L121.7 492.7 L123.6 489.2 L125.5 486.5 L127.3 484.5 L129.2 483.0 L131.1 481.9 L133.0 481.2 L134.8 480.8 L136.7 480.5 L138.6 480.3 L140.5 480.1 L142.3 479.9 L144.2 479.6 L146.1 479.3 L148.0 478.9 L149.8 478.7 L151.7 478.5 L153.6 478.4 L155.5 478.4 L157.3 478.7 L159.2 479.1 L161.1 479.8 L163.0 480.7 L164.8 481.8 L166.7 483.2 L168.6 484.9 L170.5 486.9 L172.3 489.1 L174.2 491.7 L176.1 494.5 L178.0 497.7 L179.8 501.2 L181.7 504.9 L183.6 509.0 L185.5 513.2 L187.3 517.6 L189.2 522.2 L191.1 526.9 L192.9 531.7 L194.8 536.6 L196.7 541.4 L198.6 546.3 L200.4 549.2 L221.1 549.2 L222.9 543.9 L224.8 536.7 L226.7 529.0 L228.6 521.0 L230.4 512.8 L232.3 504.7 L234.2 496.9 L236.1 489.4 L237.9 482.3 L239.8 475.6 L241.7 469.4 L243.6 463.8 L245.4 458.7 L247.3 454.2 L249.2 450.3 L251.1 447.1 L252.9 444.5 L254.8 442.8 L256.7 441.7 L258.6 441.2 L260.4 441.5 L262.3 442.4 L264.2 443.7 L266.0 445.0 L267.9 445.8 L269.8 446.0 L271.7 445.7 L273.5 445.5 L275.4 445.7 L277.3 447.2 L279.2 449.9 L281.0 453.9 L282.9 459.2 L284.8 465.8 L286.7 473.6 L288.5 481.1 L290.4 486.5 L292.3 488.9 L294.2 488.4 L296.0 485.4 L297.9 480.6 L299.8 475.0 L301.7 468.9 L303.5 462.5 L305.4 455.8 L307.3 449.0 L309.2 442.4 L311.0 436.0 L312.9 429.8 L314.8 423.9 L316.7 418.2 L318.5 412.9 L320.4 407.9 L322.3 403.2 L324.2 398.9 L326.0 394.9 L327.9 391.3 L329.8 388.1 L331.7 385.2 L333.5 382.6 L335.4 380.2 L337.3 378.0 L339.2 375.9 L341.0 373.9 L342.9 371.8 L344.8 369.4 L346.6 366.5 L348.5 362.7 L350.4 358.3 L352.3 353.3 L354.1 348.2 L356.0 343.3 L357.9 339.0 L359.8 335.2 L361.6 332.0 L363.5 329.5 L365.4 327.4 L367.3 325.7 L369.1 324.3 L371.0 323.0 L372.9 321.9 L374.8 320.5 L376.6 319.1 L378.5 317.6 L380.4 316.2 L382.3 315.0 L384.1 314.2 L386.0 313.9 L387.9 314.0 L389.8 314.4 L391.6 315.3 L393.5 316.6 L395.4 318.3 L397.3 320.3 L399.1 322.6 L401.0 325.2 L402.9 328.0 L404.8 331.1 L406.6 334.4 L408.5 337.7 L410.4 341.3 L412.3 344.8 L414.1 348.5 L416.0 352.1 L417.9 355.8 L419.8 359.3 L421.6 362.8 L423.5 366.3 L425.4 369.7 L427.2 373.2 L429.1 376.9 L431.0 380.8 L432.9 385.0 L434.7 389.5 L436.6 394.5 L438.5 399.9 L440.4 406.0 L442.2 412.7 L444.1 419.9 L446.0 427.8 L447.9 436.4 L449.7 445.6 L451.6 455.5 L453.5 465.9 L455.4 477.0 L457.2 488.8 L459.1 501.8 L461.0 514.8 L462.9 525.7 L464.7 532.8 L466.6 535.8 L468.5 534.6 L470.4 531.4 L472.2 530.0 L474.1 531.9 L476.0 530.8 L477.9 519.7 L479.7 500.1 L481.6 479.9 L483.5 464.9 L485.4 453.8 L487.2 444.4 L489.1 435.9 L491.0 428.6 L492.9 422.9 L494.7 418.5 L496.6 414.9 L498.5 412.2 L500.4 410.7 L502.2 410.5 L504.1 411.5 L506.0 413.4 L507.8 416.2 L509.7 420.2 L511.6 425.3 L513.5 431.6 L515.3 438.6 L517.2 446.3 L519.1 454.8 L521.0 464.2 L522.8 474.5 L524.7 485.9 L526.6 498.3 L528.5 511.7 L530.3 525.9 L532.2 539.7 L534.1 549.2 L775.9 549.2 L775.9 549.8 Z"/>
<path d="M28.0 554.3 L28.0 494.3 L29.9 494.2 L31.8 494.6 L33.7 495.2 L35.5 496.3 L37.4 497.6 L39.3 499.3 L41.2 501.2 L43.1 503.4 L45.0 505.9 L46.8 508.6 L48.7 511.4 L50.6 514.5 L52.5 517.7 L54.4 521.1 L56.3 524.6 L58.2 528.2 L60.0 531.9 L61.9 535.7 L63.8 539.5 L65.7 543.4 L67.6 547.3 L69.5 551.1 L71.3 553.7 L103.4 553.7 L105.3 550.8 L107.2 545.1 L109.0 539.0 L110.9 532.8 L112.8 526.5 L114.7 520.3 L116.6 514.3 L118.5 508.8 L120.4 503.8 L122.2 499.5 L124.1 496.0 L126.0 493.3 L127.9 491.2 L129.8 489.7 L131.7 488.6 L133.5 487.8 L135.4 487.4 L137.3 487.1 L139.2 486.9 L141.1 486.7 L143.0 486.4 L144.9 486.0 L146.7 485.7 L148.6 485.3 L150.5 485.0 L152.4 484.8 L154.3 484.7 L156.2 484.7 L158.0 484.9 L159.9 485.3 L161.8 485.9 L163.7 486.8 L165.6 487.9 L167.5 489.3 L169.4 490.9 L171.2 492.9 L173.1 495.1 L175.0 497.6 L176.9 500.5 L178.8 503.6 L180.7 507.1 L182.5 510.8 L184.4 514.9 L186.3 519.1 L188.2 523.5 L190.1 528.1 L192.0 532.8 L193.9 537.6 L195.7 542.4 L197.6 547.3 L199.5 552.1 L201.4 553.7 L222.1 553.7 L224.0 549.3 L225.9 542.1 L227.8 534.3 L229.7 526.2 L231.5 518.0 L233.4 509.8 L235.3 501.9 L237.2 494.3 L239.1 487.2 L241.0 480.5 L242.9 474.3 L244.7 468.5 L246.6 463.4 L248.5 458.8 L250.4 454.9 L252.3 451.7 L254.2 449.1 L256.1 447.3 L257.9 446.2 L259.8 445.8 L261.7 446.0 L263.6 447.0 L265.5 448.5 L267.4 450.6 L269.2 453.0 L271.1 455.5 L273.0 458.0 L274.9 460.4 L276.8 463.1 L278.7 466.4 L280.6 470.5 L282.4 475.6 L284.3 481.5 L286.2 487.4 L288.1 492.5 L290.0 496.0 L291.9 497.4 L293.7 496.4 L295.6 493.6 L297.5 489.8 L299.4 485.0 L301.3 479.6 L303.2 473.5 L305.1 466.9 L306.9 460.2 L308.8 453.4 L310.7 446.7 L312.6 440.3 L314.5 434.1 L316.4 428.1 L318.2 422.5 L320.1 417.1 L322.0 412.1 L323.9 407.3 L325.8 403.0 L327.7 399.0 L329.6 395.4 L331.4 392.2 L333.3 389.2 L335.2 386.6 L337.1 384.2 L339.0 382.0 L340.9 379.9 L342.7 377.9 L344.6 376.0 L346.5 374.0 L348.4 371.9 L350.3 369.6 L352.2 367.0 L354.1 364.1 L355.9 361.0 L357.8 357.7 L359.7 354.3 L361.6 351.0 L363.5 347.9 L365.4 344.9 L367.2 342.1 L369.1 339.3 L371.0 336.5 L372.9 333.8 L374.8 331.0 L376.7 328.3 L378.6 325.7 L380.4 323.4 L382.3 321.4 L384.2 319.8 L386.1 318.7 L388.0 318.1 L389.9 318.0 L391.7 318.4 L393.6 319.3 L395.5 320.6 L397.4 322.3 L399.3 324.3 L401.2 326.6 L403.1 329.2 L404.9 332.1 L406.8 335.2 L408.7 338.5 L410.6 341.9 L412.5 345.4 L414.4 349.1 L416.3 352.7 L418.1 356.4 L420.0 360.1 L421.9 363.7 L423.8 367.2 L425.7 370.7 L427.6 374.1 L429.4 377.7 L431.3 381.4 L433.2 385.3 L435.1 389.5 L437.0 394.1 L438.9 399.1 L440.8 404.6 L442.6 410.7 L444.5 417.4 L446.4 424.8 L448.3 432.7 L450.2 441.3 L452.1 450.6 L453.9 460.5 L455.8 471.1 L457.7 482.3 L459.6 494.3 L461.5 506.9 L463.4 520.0 L465.3 533.3 L467.1 545.9 L469.0 553.7 L478.4 553.7 L480.3 542.8 L482.2 522.6 L484.1 501.7 L486.0 485.9 L487.9 474.1 L489.8 464.0 L491.6 454.8 L493.5 446.9 L495.4 440.5 L497.3 435.4 L499.2 431.3 L501.1 428.0 L502.9 426.0 L504.8 425.4 L506.7 426.1 L508.6 427.6 L510.5 430.1 L512.4 433.9 L514.3 438.9 L516.1 444.9 L518.0 451.9 L519.9 459.6 L521.8 468.1 L523.7 477.5 L525.6 487.9 L527.4 499.4 L529.3 512.0 L531.2 525.6 L533.1 539.9 L535.0 553.7 L780.0 553.7 L780.0 554.3 Z"/>
</g>
<line x1="391.5" y1="12" x2="391.5" y2="559" stroke="#4a4ae0" stroke-width="1"/>
<g font-size="9" fill="#222" text-anchor="end" letter-spacing="0.6">
<text x="24" y="9.5" font-size="8.5">dB</text>
<text x="24" y="15.5" font-size="8.5">80</text>
<text x="24" y="90">72</text>
<text x="24" y="165">64</text>
<text x="24" y="240">56</text>
<text x="24" y="315">48</text>
<text x="24" y="389.5">40</text>
<text x="24" y="464">32</text>
<text x="24" y="539">24</text>
</g>
<g font-size="9" fill="#222" text-anchor="middle" letter-spacing="0.6">
<text x="28.5" y="568">20</text>
<text x="198" y="568">30</text>
<text x="318.5" y="568">40</text>
<text x="412.5" y="568">50</text>
<text x="489" y="568">60</text>
<text x="553.5" y="568">70</text>
<text x="609.5" y="568">80</text>
<text x="659.5" y="568">90</text>
<text x="704.5" y="568">100</text>
<text x="780" y="568">120</text>
<text x="787" y="557.5">Hz</text>
</g>
<rect x="378.5" y="559.5" width="25.5" height="10.5" fill="#fff" stroke="#3c3cd0" stroke-width="1.1"/>
<text x="391.3" y="568.3" font-size="10" fill="#2a2ab0" text-anchor="middle" letter-spacing="0.3">47.6</text>
<g fill="#fff" stroke="#ccc" stroke-width="1">
<rect x="28.5" y="57.5" width="17" height="10"/>
<rect x="28.5" y="79.5" width="19" height="10"/>
<rect x="28.5" y="100.5" width="19" height="11"/>
<rect x="28.5" y="121.5" width="20" height="11"/>
<rect x="640.5" y="57.5" width="17" height="10"/>
<rect x="660.5" y="78.5" width="17" height="11"/>
<rect x="680.5" y="78.5" width="18" height="11"/>
<rect x="699.5" y="99.5" width="19" height="11.5"/>
<rect x="719.5" y="99.5" width="19" height="11.5"/>
<rect x="739.5" y="121" width="19.5" height="12.5"/>
<rect x="759.5" y="121" width="20.5" height="12.5"/>
<rect x="744.5" y="12.5" width="35.5" height="12"/>
</g>
<g fill="#222" font-family="Liberation Mono, monospace">
<text x="31" y="65.5" font-size="8">0</text>
<text x="31" y="87.5" font-size="8">67</text>
<text x="30" y="109" font-size="9">133</text>
<text x="30" y="130.5" font-size="9.5">200</text>
<text x="643" y="65.5" font-size="8">0</text>
<text x="662" y="87.5" font-size="8.5">33</text>
<text x="682" y="87.5" font-size="8.5">67</text>
<text x="701" y="109" font-size="9.5">100</text>
<text x="721" y="109" font-size="9.5">133</text>
<text x="741" y="131.5" font-size="10">167</text>
<text x="761" y="131.5" font-size="10">200</text>
<text x="747.5" y="22" font-size="9.5" letter-spacing="0.4" font-family="Liberation Sans, sans-serif">200ms</text>
</g>
</svg>
</body></html>
